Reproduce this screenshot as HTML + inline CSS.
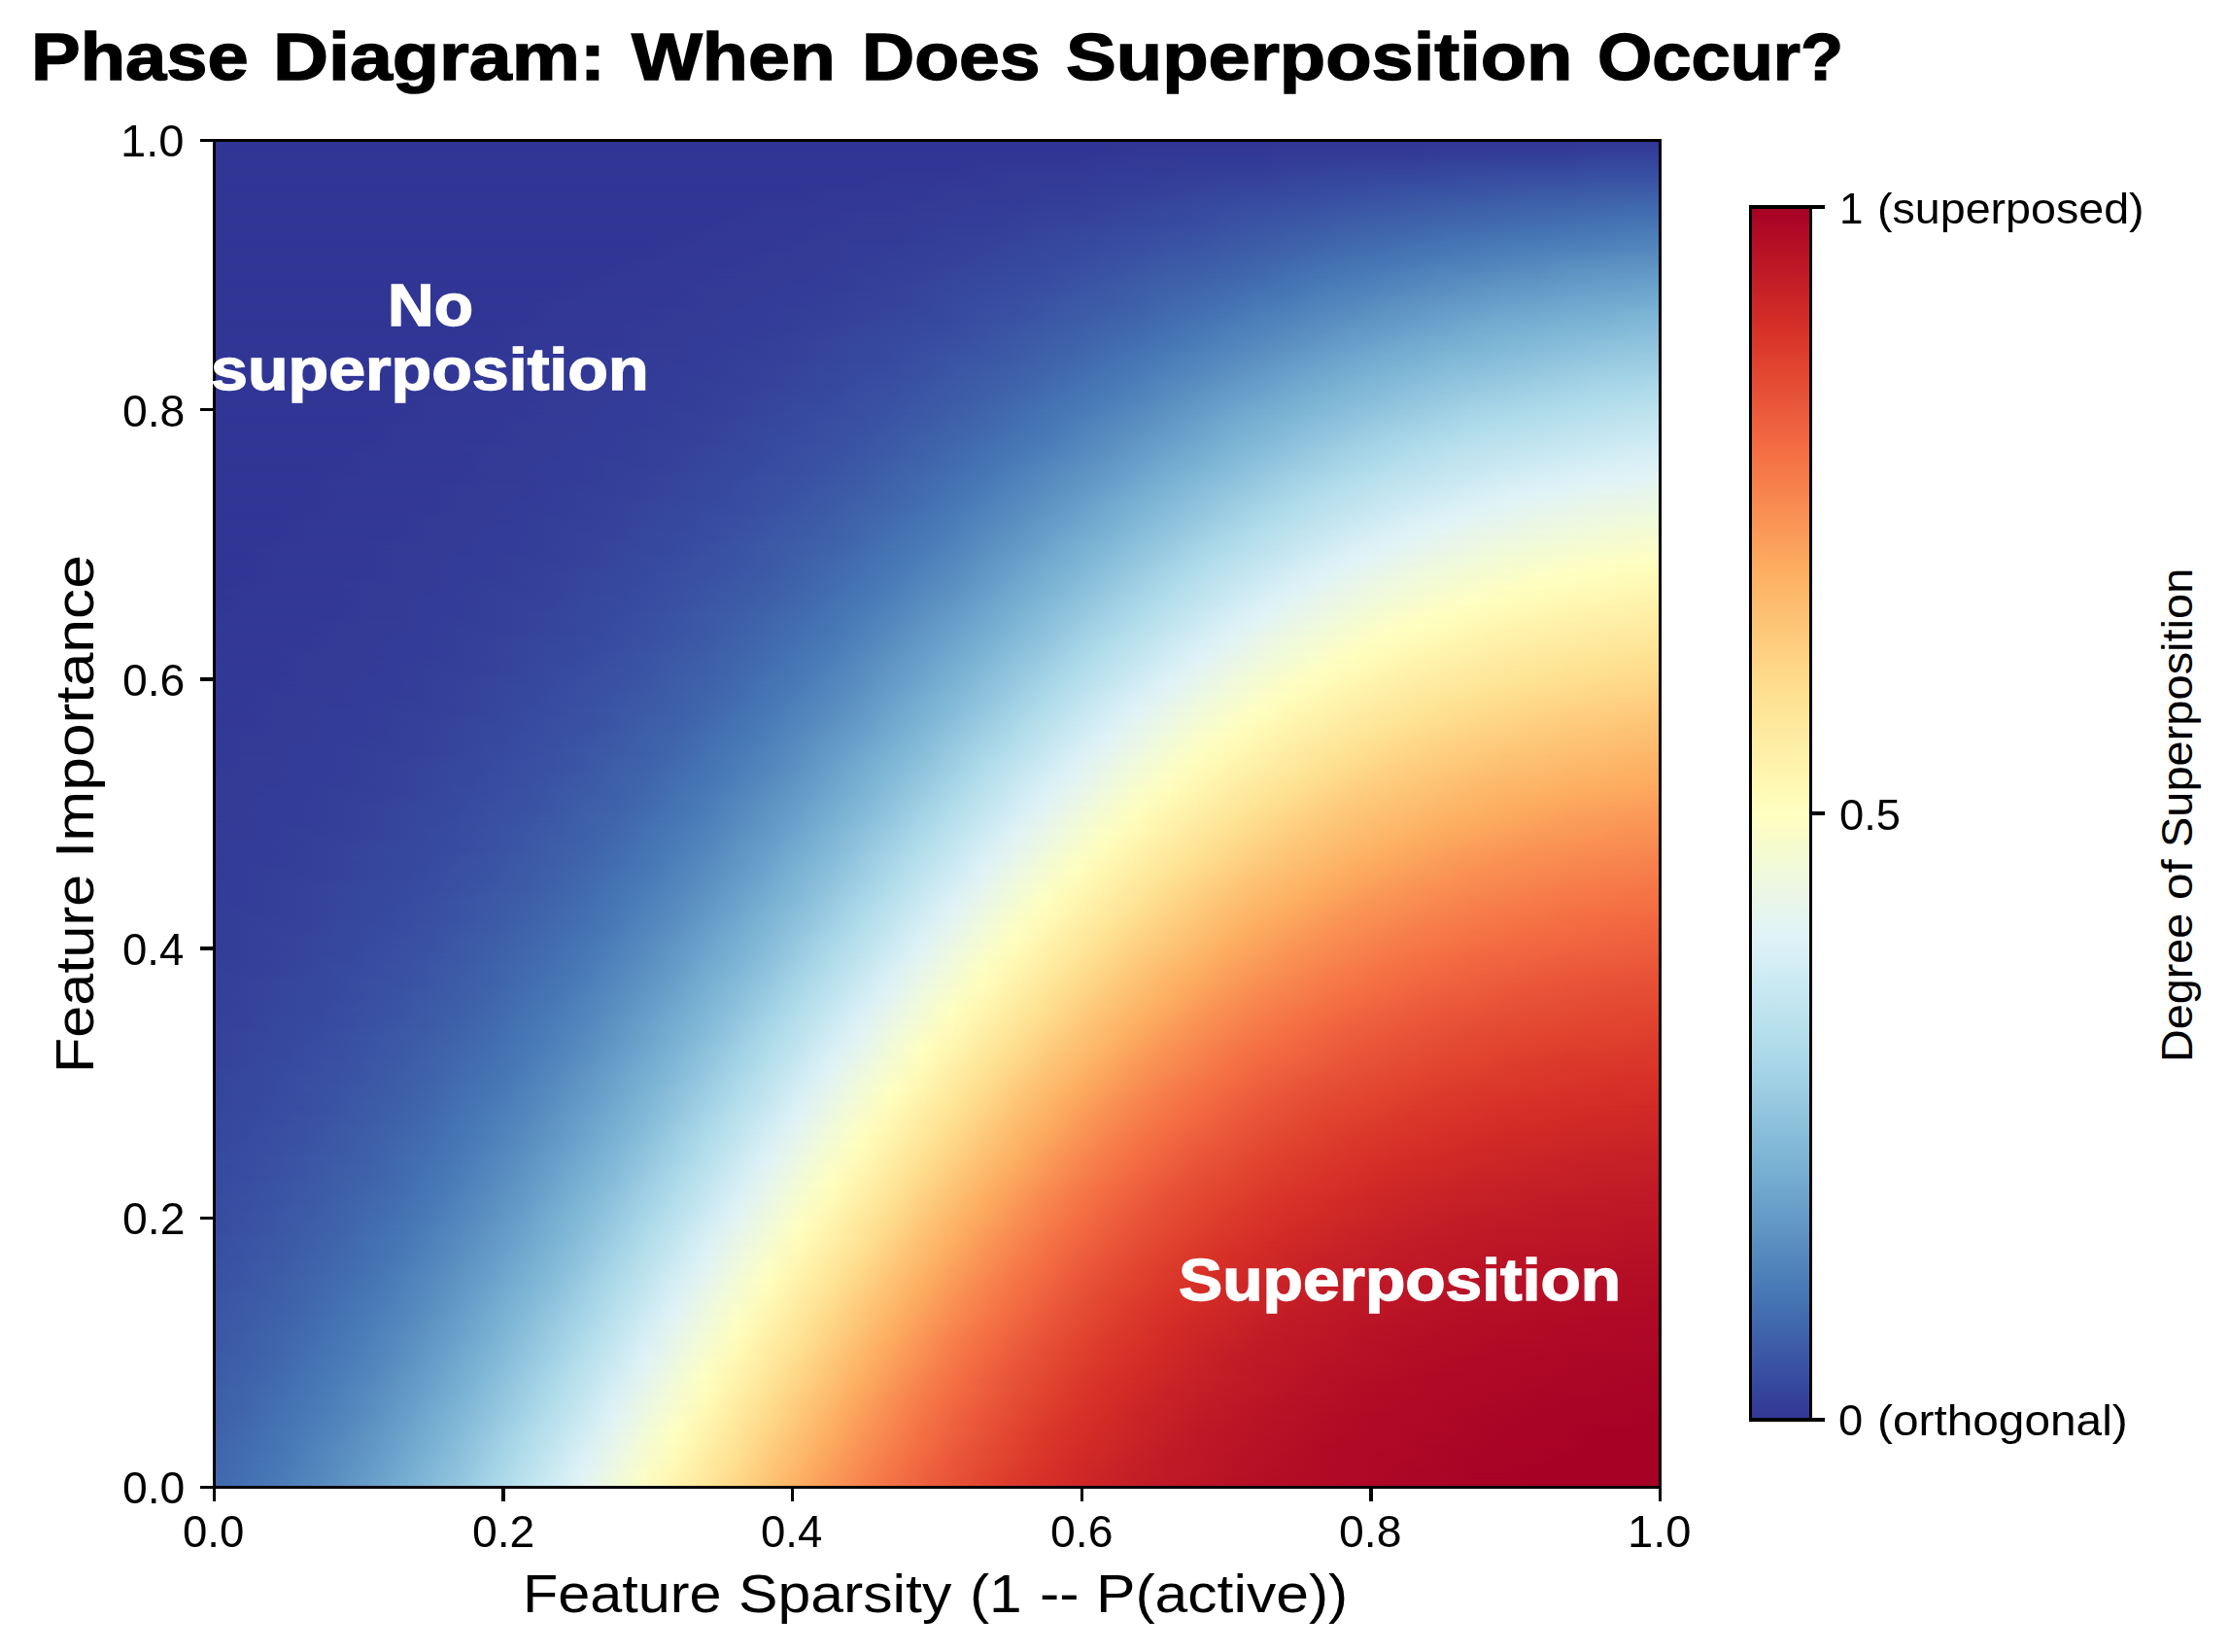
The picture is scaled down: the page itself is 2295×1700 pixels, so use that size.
<!DOCTYPE html>
<html><head><meta charset="utf-8"><style>
html,body{margin:0;padding:0;background:#fff;}
body{width:2295px;height:1700px;position:relative;overflow:hidden;font-family:"Liberation Sans",sans-serif;color:#000;}
.a{position:absolute;white-space:nowrap;line-height:1;}
#hm{position:absolute;left:220px;top:144px;width:1489px;height:1387px;overflow:hidden;}
#hm b{position:absolute;left:0;width:100%;display:block;}
#hm u{position:absolute;left:0;top:0;width:100%;height:100%;display:block;-webkit-mask-image:linear-gradient(180deg,transparent,#000);mask-image:linear-gradient(180deg,transparent,#000);}
.ln{position:absolute;background:#000;}
</style></head><body>
<div id="hm">
<b style="top:0px;height:14px;background:linear-gradient(90deg,#313695 0.00%,#313695 2.13%,#313695 4.26%,#313695 6.38%,#313695 8.51%,#313695 10.64%,#313695 12.77%,#313695 14.89%,#313695 17.02%,#313695 19.15%,#313695 21.28%,#313695 23.40%,#313695 25.53%,#313695 27.66%,#313695 29.79%,#313695 31.91%,#313695 34.04%,#313695 36.17%,#313695 38.30%,#313695 40.43%,#313695 42.55%,#313695 44.68%,#313695 46.81%,#313695 48.94%,#313695 51.06%,#313695 53.19%,#313695 55.32%,#313695 57.45%,#313695 59.57%,#313695 61.70%,#313695 63.83%,#313695 65.96%,#313695 68.09%,#313695 70.21%,#313695 72.34%,#313695 74.47%,#313695 76.60%,#313695 78.72%,#313695 80.85%,#313695 82.98%,#313695 85.11%,#313695 87.23%,#313695 89.36%,#313695 91.49%,#313695 93.62%,#313695 95.74%,#313695 97.87%,#313695 100.00%)"><u style="background:linear-gradient(90deg,#313695 0.00%,#313695 2.13%,#313695 4.26%,#313695 6.38%,#313695 8.51%,#313695 10.64%,#313695 12.77%,#313695 14.89%,#313695 17.02%,#313695 19.15%,#313695 21.28%,#313695 23.40%,#313695 25.53%,#313695 27.66%,#313695 29.79%,#313695 31.91%,#313695 34.04%,#313695 36.17%,#313695 38.30%,#313695 40.43%,#313695 42.55%,#313695 44.68%,#313695 46.81%,#313695 48.94%,#313695 51.06%,#313695 53.19%,#313695 55.32%,#313695 57.45%,#313695 59.57%,#313695 61.70%,#323896 63.83%,#323896 65.96%,#323896 68.09%,#323896 70.21%,#323896 72.34%,#333b97 74.47%,#333b97 76.60%,#333b97 78.72%,#333b97 80.85%,#333b97 82.98%,#333d99 85.11%,#333d99 87.23%,#333d99 89.36%,#333d99 91.49%,#333d99 93.62%,#34409a 95.74%,#34409a 97.87%,#34409a 100.00%)"></u></b>
<b style="top:14px;height:14px;background:linear-gradient(90deg,#313695 0.00%,#313695 2.13%,#313695 4.26%,#313695 6.38%,#313695 8.51%,#313695 10.64%,#313695 12.77%,#313695 14.89%,#313695 17.02%,#313695 19.15%,#313695 21.28%,#313695 23.40%,#313695 25.53%,#313695 27.66%,#313695 29.79%,#313695 31.91%,#313695 34.04%,#313695 36.17%,#313695 38.30%,#313695 40.43%,#313695 42.55%,#313695 44.68%,#313695 46.81%,#313695 48.94%,#313695 51.06%,#313695 53.19%,#313695 55.32%,#313695 57.45%,#313695 59.57%,#313695 61.70%,#323896 63.83%,#323896 65.96%,#323896 68.09%,#323896 70.21%,#323896 72.34%,#333b97 74.47%,#333b97 76.60%,#333b97 78.72%,#333b97 80.85%,#333b97 82.98%,#333d99 85.11%,#333d99 87.23%,#333d99 89.36%,#333d99 91.49%,#333d99 93.62%,#34409a 95.74%,#34409a 97.87%,#34409a 100.00%)"><u style="background:linear-gradient(90deg,#313695 0.00%,#313695 2.13%,#313695 4.26%,#313695 6.38%,#313695 8.51%,#313695 10.64%,#313695 12.77%,#313695 14.89%,#313695 17.02%,#313695 19.15%,#313695 21.28%,#313695 23.40%,#313695 25.53%,#313695 27.66%,#313695 29.79%,#313695 31.91%,#313695 34.04%,#313695 36.17%,#313695 38.30%,#313695 40.43%,#313695 42.55%,#313695 44.68%,#313695 46.81%,#313695 48.94%,#313695 51.06%,#323896 53.19%,#323896 55.32%,#323896 57.45%,#323896 59.57%,#333b97 61.70%,#333b97 63.83%,#333b97 65.96%,#333d99 68.09%,#333d99 70.21%,#333d99 72.34%,#34409a 74.47%,#34409a 76.60%,#35429b 78.72%,#35429b 80.85%,#35429b 82.98%,#36459c 85.11%,#36459c 87.23%,#36479e 89.36%,#36479e 91.49%,#36479e 93.62%,#374a9f 95.74%,#374a9f 97.87%,#374a9f 100.00%)"></u></b>
<b style="top:28px;height:14px;background:linear-gradient(90deg,#313695 0.00%,#313695 2.13%,#313695 4.26%,#313695 6.38%,#313695 8.51%,#313695 10.64%,#313695 12.77%,#313695 14.89%,#313695 17.02%,#313695 19.15%,#313695 21.28%,#313695 23.40%,#313695 25.53%,#313695 27.66%,#313695 29.79%,#313695 31.91%,#313695 34.04%,#313695 36.17%,#313695 38.30%,#313695 40.43%,#313695 42.55%,#313695 44.68%,#313695 46.81%,#313695 48.94%,#313695 51.06%,#323896 53.19%,#323896 55.32%,#323896 57.45%,#323896 59.57%,#333b97 61.70%,#333b97 63.83%,#333b97 65.96%,#333d99 68.09%,#333d99 70.21%,#333d99 72.34%,#34409a 74.47%,#34409a 76.60%,#35429b 78.72%,#35429b 80.85%,#35429b 82.98%,#36459c 85.11%,#36459c 87.23%,#36479e 89.36%,#36479e 91.49%,#36479e 93.62%,#374a9f 95.74%,#374a9f 97.87%,#374a9f 100.00%)"><u style="background:linear-gradient(90deg,#313695 0.00%,#313695 2.13%,#313695 4.26%,#313695 6.38%,#313695 8.51%,#313695 10.64%,#313695 12.77%,#313695 14.89%,#313695 17.02%,#313695 19.15%,#313695 21.28%,#313695 23.40%,#313695 25.53%,#313695 27.66%,#313695 29.79%,#313695 31.91%,#313695 34.04%,#313695 36.17%,#313695 38.30%,#313695 40.43%,#313695 42.55%,#313695 44.68%,#323896 46.81%,#323896 48.94%,#323896 51.06%,#323896 53.19%,#333b97 55.32%,#333b97 57.45%,#333b97 59.57%,#333d99 61.70%,#333d99 63.83%,#34409a 65.96%,#34409a 68.09%,#35429b 70.21%,#35429b 72.34%,#36459c 74.47%,#36479e 76.60%,#36479e 78.72%,#374a9f 80.85%,#374a9f 82.98%,#384ca0 85.11%,#394fa1 87.23%,#394fa1 89.36%,#3a51a2 91.49%,#3a51a2 93.62%,#3a54a4 95.74%,#3a54a4 97.87%,#3a54a4 100.00%)"></u></b>
<b style="top:42px;height:14px;background:linear-gradient(90deg,#313695 0.00%,#313695 2.13%,#313695 4.26%,#313695 6.38%,#313695 8.51%,#313695 10.64%,#313695 12.77%,#313695 14.89%,#313695 17.02%,#313695 19.15%,#313695 21.28%,#313695 23.40%,#313695 25.53%,#313695 27.66%,#313695 29.79%,#313695 31.91%,#313695 34.04%,#313695 36.17%,#313695 38.30%,#313695 40.43%,#313695 42.55%,#313695 44.68%,#323896 46.81%,#323896 48.94%,#323896 51.06%,#323896 53.19%,#333b97 55.32%,#333b97 57.45%,#333b97 59.57%,#333d99 61.70%,#333d99 63.83%,#34409a 65.96%,#34409a 68.09%,#35429b 70.21%,#35429b 72.34%,#36459c 74.47%,#36479e 76.60%,#36479e 78.72%,#374a9f 80.85%,#374a9f 82.98%,#384ca0 85.11%,#394fa1 87.23%,#394fa1 89.36%,#3a51a2 91.49%,#3a51a2 93.62%,#3a54a4 95.74%,#3a54a4 97.87%,#3a54a4 100.00%)"><u style="background:linear-gradient(90deg,#313695 0.00%,#313695 2.13%,#313695 4.26%,#313695 6.38%,#313695 8.51%,#313695 10.64%,#313695 12.77%,#313695 14.89%,#313695 17.02%,#313695 19.15%,#313695 21.28%,#313695 23.40%,#313695 25.53%,#313695 27.66%,#313695 29.79%,#313695 31.91%,#313695 34.04%,#313695 36.17%,#313695 38.30%,#313695 40.43%,#323896 42.55%,#323896 44.68%,#323896 46.81%,#323896 48.94%,#333b97 51.06%,#333b97 53.19%,#333b97 55.32%,#333d99 57.45%,#333d99 59.57%,#34409a 61.70%,#34409a 63.83%,#35429b 65.96%,#36459c 68.09%,#36479e 70.21%,#36479e 72.34%,#374a9f 74.47%,#384ca0 76.60%,#394fa1 78.72%,#3a51a2 80.85%,#3a54a4 82.98%,#3a54a4 85.11%,#3b56a5 87.23%,#3c59a6 89.36%,#3d5ba7 91.49%,#3d5ba7 93.62%,#3e5ea8 95.74%,#3e5ea8 97.87%,#3e60aa 100.00%)"></u></b>
<b style="top:56px;height:14px;background:linear-gradient(90deg,#313695 0.00%,#313695 2.13%,#313695 4.26%,#313695 6.38%,#313695 8.51%,#313695 10.64%,#313695 12.77%,#313695 14.89%,#313695 17.02%,#313695 19.15%,#313695 21.28%,#313695 23.40%,#313695 25.53%,#313695 27.66%,#313695 29.79%,#313695 31.91%,#313695 34.04%,#313695 36.17%,#313695 38.30%,#313695 40.43%,#323896 42.55%,#323896 44.68%,#323896 46.81%,#323896 48.94%,#333b97 51.06%,#333b97 53.19%,#333b97 55.32%,#333d99 57.45%,#333d99 59.57%,#34409a 61.70%,#34409a 63.83%,#35429b 65.96%,#36459c 68.09%,#36479e 70.21%,#36479e 72.34%,#374a9f 74.47%,#384ca0 76.60%,#394fa1 78.72%,#3a51a2 80.85%,#3a54a4 82.98%,#3a54a4 85.11%,#3b56a5 87.23%,#3c59a6 89.36%,#3d5ba7 91.49%,#3d5ba7 93.62%,#3e5ea8 95.74%,#3e5ea8 97.87%,#3e60aa 100.00%)"><u style="background:linear-gradient(90deg,#313695 0.00%,#313695 2.13%,#313695 4.26%,#313695 6.38%,#313695 8.51%,#313695 10.64%,#313695 12.77%,#313695 14.89%,#313695 17.02%,#313695 19.15%,#313695 21.28%,#313695 23.40%,#313695 25.53%,#313695 27.66%,#313695 29.79%,#313695 31.91%,#313695 34.04%,#313695 36.17%,#323896 38.30%,#323896 40.43%,#323896 42.55%,#323896 44.68%,#323896 46.81%,#333b97 48.94%,#333b97 51.06%,#333d99 53.19%,#333d99 55.32%,#34409a 57.45%,#34409a 59.57%,#35429b 61.70%,#36459c 63.83%,#36479e 65.96%,#374a9f 68.09%,#384ca0 70.21%,#394fa1 72.34%,#3a51a2 74.47%,#3a54a4 76.60%,#3b56a5 78.72%,#3c59a6 80.85%,#3d5ba7 82.98%,#3e5ea8 85.11%,#3e60aa 87.23%,#3f62ab 89.36%,#4065ac 91.49%,#4065ac 93.62%,#4167ad 95.74%,#416aaf 97.87%,#416aaf 100.00%)"></u></b>
<b style="top:70px;height:14px;background:linear-gradient(90deg,#313695 0.00%,#313695 2.13%,#313695 4.26%,#313695 6.38%,#313695 8.51%,#313695 10.64%,#313695 12.77%,#313695 14.89%,#313695 17.02%,#313695 19.15%,#313695 21.28%,#313695 23.40%,#313695 25.53%,#313695 27.66%,#313695 29.79%,#313695 31.91%,#313695 34.04%,#313695 36.17%,#323896 38.30%,#323896 40.43%,#323896 42.55%,#323896 44.68%,#323896 46.81%,#333b97 48.94%,#333b97 51.06%,#333d99 53.19%,#333d99 55.32%,#34409a 57.45%,#34409a 59.57%,#35429b 61.70%,#36459c 63.83%,#36479e 65.96%,#374a9f 68.09%,#384ca0 70.21%,#394fa1 72.34%,#3a51a2 74.47%,#3a54a4 76.60%,#3b56a5 78.72%,#3c59a6 80.85%,#3d5ba7 82.98%,#3e5ea8 85.11%,#3e60aa 87.23%,#3f62ab 89.36%,#4065ac 91.49%,#4065ac 93.62%,#4167ad 95.74%,#416aaf 97.87%,#416aaf 100.00%)"><u style="background:linear-gradient(90deg,#313695 0.00%,#313695 2.13%,#313695 4.26%,#313695 6.38%,#313695 8.51%,#313695 10.64%,#313695 12.77%,#313695 14.89%,#313695 17.02%,#313695 19.15%,#313695 21.28%,#313695 23.40%,#313695 25.53%,#313695 27.66%,#313695 29.79%,#313695 31.91%,#313695 34.04%,#323896 36.17%,#323896 38.30%,#323896 40.43%,#323896 42.55%,#333b97 44.68%,#333b97 46.81%,#333b97 48.94%,#333d99 51.06%,#333d99 53.19%,#34409a 55.32%,#35429b 57.45%,#35429b 59.57%,#36459c 61.70%,#36479e 63.83%,#374a9f 65.96%,#384ca0 68.09%,#3a51a2 70.21%,#3a54a4 72.34%,#3b56a5 74.47%,#3c59a6 76.60%,#3e5ea8 78.72%,#3e60aa 80.85%,#3f62ab 82.98%,#4065ac 85.11%,#4167ad 87.23%,#416aaf 89.36%,#426cb0 91.49%,#436fb1 93.62%,#4471b2 95.74%,#4574b3 97.87%,#4574b3 100.00%)"></u></b>
<b style="top:84px;height:14px;background:linear-gradient(90deg,#313695 0.00%,#313695 2.13%,#313695 4.26%,#313695 6.38%,#313695 8.51%,#313695 10.64%,#313695 12.77%,#313695 14.89%,#313695 17.02%,#313695 19.15%,#313695 21.28%,#313695 23.40%,#313695 25.53%,#313695 27.66%,#313695 29.79%,#313695 31.91%,#313695 34.04%,#323896 36.17%,#323896 38.30%,#323896 40.43%,#323896 42.55%,#333b97 44.68%,#333b97 46.81%,#333b97 48.94%,#333d99 51.06%,#333d99 53.19%,#34409a 55.32%,#35429b 57.45%,#35429b 59.57%,#36459c 61.70%,#36479e 63.83%,#374a9f 65.96%,#384ca0 68.09%,#3a51a2 70.21%,#3a54a4 72.34%,#3b56a5 74.47%,#3c59a6 76.60%,#3e5ea8 78.72%,#3e60aa 80.85%,#3f62ab 82.98%,#4065ac 85.11%,#4167ad 87.23%,#416aaf 89.36%,#426cb0 91.49%,#436fb1 93.62%,#4471b2 95.74%,#4574b3 97.87%,#4574b3 100.00%)"><u style="background:linear-gradient(90deg,#313695 0.00%,#313695 2.13%,#313695 4.26%,#313695 6.38%,#313695 8.51%,#313695 10.64%,#313695 12.77%,#313695 14.89%,#313695 17.02%,#313695 19.15%,#313695 21.28%,#313695 23.40%,#313695 25.53%,#313695 27.66%,#313695 29.79%,#313695 31.91%,#323896 34.04%,#323896 36.17%,#323896 38.30%,#323896 40.43%,#333b97 42.55%,#333b97 44.68%,#333b97 46.81%,#333d99 48.94%,#34409a 51.06%,#34409a 53.19%,#35429b 55.32%,#36459c 57.45%,#36479e 59.57%,#374a9f 61.70%,#384ca0 63.83%,#394fa1 65.96%,#3a51a2 68.09%,#3b56a5 70.21%,#3c59a6 72.34%,#3e5ea8 74.47%,#3e60aa 76.60%,#4065ac 78.72%,#4167ad 80.85%,#416aaf 82.98%,#436fb1 85.11%,#4471b2 87.23%,#4574b3 89.36%,#4676b5 91.49%,#4878b6 93.62%,#4a7ab7 95.74%,#4b7db8 97.87%,#4d7fb9 100.00%)"></u></b>
<b style="top:98px;height:14px;background:linear-gradient(90deg,#313695 0.00%,#313695 2.13%,#313695 4.26%,#313695 6.38%,#313695 8.51%,#313695 10.64%,#313695 12.77%,#313695 14.89%,#313695 17.02%,#313695 19.15%,#313695 21.28%,#313695 23.40%,#313695 25.53%,#313695 27.66%,#313695 29.79%,#313695 31.91%,#323896 34.04%,#323896 36.17%,#323896 38.30%,#323896 40.43%,#333b97 42.55%,#333b97 44.68%,#333b97 46.81%,#333d99 48.94%,#34409a 51.06%,#34409a 53.19%,#35429b 55.32%,#36459c 57.45%,#36479e 59.57%,#374a9f 61.70%,#384ca0 63.83%,#394fa1 65.96%,#3a51a2 68.09%,#3b56a5 70.21%,#3c59a6 72.34%,#3e5ea8 74.47%,#3e60aa 76.60%,#4065ac 78.72%,#4167ad 80.85%,#416aaf 82.98%,#436fb1 85.11%,#4471b2 87.23%,#4574b3 89.36%,#4676b5 91.49%,#4878b6 93.62%,#4a7ab7 95.74%,#4b7db8 97.87%,#4d7fb9 100.00%)"><u style="background:linear-gradient(90deg,#313695 0.00%,#313695 2.13%,#313695 4.26%,#313695 6.38%,#313695 8.51%,#313695 10.64%,#313695 12.77%,#313695 14.89%,#313695 17.02%,#313695 19.15%,#313695 21.28%,#313695 23.40%,#313695 25.53%,#313695 27.66%,#313695 29.79%,#323896 31.91%,#323896 34.04%,#323896 36.17%,#323896 38.30%,#333b97 40.43%,#333b97 42.55%,#333d99 44.68%,#333d99 46.81%,#34409a 48.94%,#34409a 51.06%,#35429b 53.19%,#36459c 55.32%,#36479e 57.45%,#374a9f 59.57%,#384ca0 61.70%,#394fa1 63.83%,#3a54a4 65.96%,#3b56a5 68.09%,#3d5ba7 70.21%,#3e5ea8 72.34%,#3f62ab 74.47%,#4167ad 76.60%,#426cb0 78.72%,#436fb1 80.85%,#4574b3 82.98%,#4676b5 85.11%,#4a7ab7 87.23%,#4b7db8 89.36%,#4d7fb9 91.49%,#4f81ba 93.62%,#5183bb 95.74%,#5385bd 97.87%,#5588be 100.00%)"></u></b>
<b style="top:112px;height:14px;background:linear-gradient(90deg,#313695 0.00%,#313695 2.13%,#313695 4.26%,#313695 6.38%,#313695 8.51%,#313695 10.64%,#313695 12.77%,#313695 14.89%,#313695 17.02%,#313695 19.15%,#313695 21.28%,#313695 23.40%,#313695 25.53%,#313695 27.66%,#313695 29.79%,#323896 31.91%,#323896 34.04%,#323896 36.17%,#323896 38.30%,#333b97 40.43%,#333b97 42.55%,#333d99 44.68%,#333d99 46.81%,#34409a 48.94%,#34409a 51.06%,#35429b 53.19%,#36459c 55.32%,#36479e 57.45%,#374a9f 59.57%,#384ca0 61.70%,#394fa1 63.83%,#3a54a4 65.96%,#3b56a5 68.09%,#3d5ba7 70.21%,#3e5ea8 72.34%,#3f62ab 74.47%,#4167ad 76.60%,#426cb0 78.72%,#436fb1 80.85%,#4574b3 82.98%,#4676b5 85.11%,#4a7ab7 87.23%,#4b7db8 89.36%,#4d7fb9 91.49%,#4f81ba 93.62%,#5183bb 95.74%,#5385bd 97.87%,#5588be 100.00%)"><u style="background:linear-gradient(90deg,#313695 0.00%,#313695 2.13%,#313695 4.26%,#313695 6.38%,#313695 8.51%,#313695 10.64%,#313695 12.77%,#313695 14.89%,#313695 17.02%,#313695 19.15%,#313695 21.28%,#313695 23.40%,#313695 25.53%,#313695 27.66%,#323896 29.79%,#323896 31.91%,#323896 34.04%,#323896 36.17%,#333b97 38.30%,#333b97 40.43%,#333b97 42.55%,#333d99 44.68%,#34409a 46.81%,#34409a 48.94%,#35429b 51.06%,#36459c 53.19%,#36479e 55.32%,#374a9f 57.45%,#384ca0 59.57%,#3a51a2 61.70%,#3a54a4 63.83%,#3c59a6 65.96%,#3d5ba7 68.09%,#3e60aa 70.21%,#4065ac 72.34%,#416aaf 74.47%,#436fb1 76.60%,#4574b3 78.72%,#4676b5 80.85%,#4a7ab7 82.98%,#4d7fb9 85.11%,#4f81ba 87.23%,#5385bd 89.36%,#5588be 91.49%,#588cc0 93.62%,#5a8ec1 95.74%,#5c90c2 97.87%,#5c90c2 100.00%)"></u></b>
<b style="top:126px;height:14px;background:linear-gradient(90deg,#313695 0.00%,#313695 2.13%,#313695 4.26%,#313695 6.38%,#313695 8.51%,#313695 10.64%,#313695 12.77%,#313695 14.89%,#313695 17.02%,#313695 19.15%,#313695 21.28%,#313695 23.40%,#313695 25.53%,#313695 27.66%,#323896 29.79%,#323896 31.91%,#323896 34.04%,#323896 36.17%,#333b97 38.30%,#333b97 40.43%,#333b97 42.55%,#333d99 44.68%,#34409a 46.81%,#34409a 48.94%,#35429b 51.06%,#36459c 53.19%,#36479e 55.32%,#374a9f 57.45%,#384ca0 59.57%,#3a51a2 61.70%,#3a54a4 63.83%,#3c59a6 65.96%,#3d5ba7 68.09%,#3e60aa 70.21%,#4065ac 72.34%,#416aaf 74.47%,#436fb1 76.60%,#4574b3 78.72%,#4676b5 80.85%,#4a7ab7 82.98%,#4d7fb9 85.11%,#4f81ba 87.23%,#5385bd 89.36%,#5588be 91.49%,#588cc0 93.62%,#5a8ec1 95.74%,#5c90c2 97.87%,#5c90c2 100.00%)"><u style="background:linear-gradient(90deg,#313695 0.00%,#313695 2.13%,#313695 4.26%,#313695 6.38%,#313695 8.51%,#313695 10.64%,#313695 12.77%,#313695 14.89%,#313695 17.02%,#313695 19.15%,#313695 21.28%,#313695 23.40%,#313695 25.53%,#323896 27.66%,#323896 29.79%,#323896 31.91%,#323896 34.04%,#333b97 36.17%,#333b97 38.30%,#333b97 40.43%,#333d99 42.55%,#34409a 44.68%,#34409a 46.81%,#35429b 48.94%,#36459c 51.06%,#36479e 53.19%,#374a9f 55.32%,#384ca0 57.45%,#3a51a2 59.57%,#3a54a4 61.70%,#3c59a6 63.83%,#3e5ea8 65.96%,#3e60aa 68.09%,#4065ac 70.21%,#416aaf 72.34%,#4471b2 74.47%,#4676b5 76.60%,#4a7ab7 78.72%,#4d7fb9 80.85%,#5183bb 82.98%,#5588be 85.11%,#578abf 87.23%,#5a8ec1 89.36%,#5c90c2 91.49%,#6095c4 93.62%,#6297c6 95.74%,#6399c7 97.87%,#659bc8 100.00%)"></u></b>
<b style="top:140px;height:14px;background:linear-gradient(90deg,#313695 0.00%,#313695 2.13%,#313695 4.26%,#313695 6.38%,#313695 8.51%,#313695 10.64%,#313695 12.77%,#313695 14.89%,#313695 17.02%,#313695 19.15%,#313695 21.28%,#313695 23.40%,#313695 25.53%,#323896 27.66%,#323896 29.79%,#323896 31.91%,#323896 34.04%,#333b97 36.17%,#333b97 38.30%,#333b97 40.43%,#333d99 42.55%,#34409a 44.68%,#34409a 46.81%,#35429b 48.94%,#36459c 51.06%,#36479e 53.19%,#374a9f 55.32%,#384ca0 57.45%,#3a51a2 59.57%,#3a54a4 61.70%,#3c59a6 63.83%,#3e5ea8 65.96%,#3e60aa 68.09%,#4065ac 70.21%,#416aaf 72.34%,#4471b2 74.47%,#4676b5 76.60%,#4a7ab7 78.72%,#4d7fb9 80.85%,#5183bb 82.98%,#5588be 85.11%,#578abf 87.23%,#5a8ec1 89.36%,#5c90c2 91.49%,#6095c4 93.62%,#6297c6 95.74%,#6399c7 97.87%,#659bc8 100.00%)"><u style="background:linear-gradient(90deg,#313695 0.00%,#313695 2.13%,#313695 4.26%,#313695 6.38%,#313695 8.51%,#313695 10.64%,#313695 12.77%,#313695 14.89%,#313695 17.02%,#313695 19.15%,#313695 21.28%,#313695 23.40%,#323896 25.53%,#323896 27.66%,#323896 29.79%,#323896 31.91%,#333b97 34.04%,#333b97 36.17%,#333b97 38.30%,#333d99 40.43%,#333d99 42.55%,#34409a 44.68%,#35429b 46.81%,#36459c 48.94%,#36479e 51.06%,#374a9f 53.19%,#384ca0 55.32%,#394fa1 57.45%,#3a54a4 59.57%,#3c59a6 61.70%,#3e5ea8 63.83%,#3f62ab 65.96%,#4167ad 68.09%,#426cb0 70.21%,#4471b2 72.34%,#4676b5 74.47%,#4b7db8 76.60%,#4f81ba 78.72%,#5385bd 80.85%,#578abf 82.98%,#5a8ec1 85.11%,#5e93c3 87.23%,#6297c6 89.36%,#6399c7 91.49%,#679ec9 93.62%,#69a0ca 95.74%,#6ba2cb 97.87%,#6da4cc 100.00%)"></u></b>
<b style="top:154px;height:14px;background:linear-gradient(90deg,#313695 0.00%,#313695 2.13%,#313695 4.26%,#313695 6.38%,#313695 8.51%,#313695 10.64%,#313695 12.77%,#313695 14.89%,#313695 17.02%,#313695 19.15%,#313695 21.28%,#313695 23.40%,#323896 25.53%,#323896 27.66%,#323896 29.79%,#323896 31.91%,#333b97 34.04%,#333b97 36.17%,#333b97 38.30%,#333d99 40.43%,#333d99 42.55%,#34409a 44.68%,#35429b 46.81%,#36459c 48.94%,#36479e 51.06%,#374a9f 53.19%,#384ca0 55.32%,#394fa1 57.45%,#3a54a4 59.57%,#3c59a6 61.70%,#3e5ea8 63.83%,#3f62ab 65.96%,#4167ad 68.09%,#426cb0 70.21%,#4471b2 72.34%,#4676b5 74.47%,#4b7db8 76.60%,#4f81ba 78.72%,#5385bd 80.85%,#578abf 82.98%,#5a8ec1 85.11%,#5e93c3 87.23%,#6297c6 89.36%,#6399c7 91.49%,#679ec9 93.62%,#69a0ca 95.74%,#6ba2cb 97.87%,#6da4cc 100.00%)"><u style="background:linear-gradient(90deg,#313695 0.00%,#313695 2.13%,#313695 4.26%,#313695 6.38%,#313695 8.51%,#313695 10.64%,#313695 12.77%,#313695 14.89%,#313695 17.02%,#313695 19.15%,#313695 21.28%,#323896 23.40%,#323896 25.53%,#323896 27.66%,#323896 29.79%,#323896 31.91%,#333b97 34.04%,#333b97 36.17%,#333d99 38.30%,#333d99 40.43%,#34409a 42.55%,#35429b 44.68%,#35429b 46.81%,#36459c 48.94%,#374a9f 51.06%,#384ca0 53.19%,#394fa1 55.32%,#3a54a4 57.45%,#3c59a6 59.57%,#3d5ba7 61.70%,#3e60aa 63.83%,#4167ad 65.96%,#426cb0 68.09%,#4471b2 70.21%,#4878b6 72.34%,#4b7db8 74.47%,#5183bb 76.60%,#5588be 78.72%,#5a8ec1 80.85%,#5e93c3 82.98%,#6297c6 85.11%,#659bc8 87.23%,#69a0ca 89.36%,#6ba2cb 91.49%,#6ea6ce 93.62%,#70a9cf 95.74%,#72abd0 97.87%,#74add1 100.00%)"></u></b>
<b style="top:168px;height:14px;background:linear-gradient(90deg,#313695 0.00%,#313695 2.13%,#313695 4.26%,#313695 6.38%,#313695 8.51%,#313695 10.64%,#313695 12.77%,#313695 14.89%,#313695 17.02%,#313695 19.15%,#313695 21.28%,#323896 23.40%,#323896 25.53%,#323896 27.66%,#323896 29.79%,#323896 31.91%,#333b97 34.04%,#333b97 36.17%,#333d99 38.30%,#333d99 40.43%,#34409a 42.55%,#35429b 44.68%,#35429b 46.81%,#36459c 48.94%,#374a9f 51.06%,#384ca0 53.19%,#394fa1 55.32%,#3a54a4 57.45%,#3c59a6 59.57%,#3d5ba7 61.70%,#3e60aa 63.83%,#4167ad 65.96%,#426cb0 68.09%,#4471b2 70.21%,#4878b6 72.34%,#4b7db8 74.47%,#5183bb 76.60%,#5588be 78.72%,#5a8ec1 80.85%,#5e93c3 82.98%,#6297c6 85.11%,#659bc8 87.23%,#69a0ca 89.36%,#6ba2cb 91.49%,#6ea6ce 93.62%,#70a9cf 95.74%,#72abd0 97.87%,#74add1 100.00%)"><u style="background:linear-gradient(90deg,#313695 0.00%,#313695 2.13%,#313695 4.26%,#313695 6.38%,#313695 8.51%,#313695 10.64%,#313695 12.77%,#313695 14.89%,#313695 17.02%,#313695 19.15%,#313695 21.28%,#323896 23.40%,#323896 25.53%,#323896 27.66%,#323896 29.79%,#333b97 31.91%,#333b97 34.04%,#333d99 36.17%,#333d99 38.30%,#34409a 40.43%,#34409a 42.55%,#35429b 44.68%,#36459c 46.81%,#36479e 48.94%,#374a9f 51.06%,#394fa1 53.19%,#3a51a2 55.32%,#3b56a5 57.45%,#3d5ba7 59.57%,#3e60aa 61.70%,#4065ac 63.83%,#426cb0 65.96%,#4471b2 68.09%,#4878b6 70.21%,#4d7fb9 72.34%,#5183bb 74.47%,#578abf 76.60%,#5a8ec1 78.72%,#6095c4 80.85%,#6399c7 82.98%,#69a0ca 85.11%,#6da4cc 87.23%,#70a9cf 89.36%,#72abd0 91.49%,#76afd2 93.62%,#78b0d3 95.74%,#7db4d5 97.87%,#7fb6d6 100.00%)"></u></b>
<b style="top:182px;height:14px;background:linear-gradient(90deg,#313695 0.00%,#313695 2.13%,#313695 4.26%,#313695 6.38%,#313695 8.51%,#313695 10.64%,#313695 12.77%,#313695 14.89%,#313695 17.02%,#313695 19.15%,#313695 21.28%,#323896 23.40%,#323896 25.53%,#323896 27.66%,#323896 29.79%,#333b97 31.91%,#333b97 34.04%,#333d99 36.17%,#333d99 38.30%,#34409a 40.43%,#34409a 42.55%,#35429b 44.68%,#36459c 46.81%,#36479e 48.94%,#374a9f 51.06%,#394fa1 53.19%,#3a51a2 55.32%,#3b56a5 57.45%,#3d5ba7 59.57%,#3e60aa 61.70%,#4065ac 63.83%,#426cb0 65.96%,#4471b2 68.09%,#4878b6 70.21%,#4d7fb9 72.34%,#5183bb 74.47%,#578abf 76.60%,#5a8ec1 78.72%,#6095c4 80.85%,#6399c7 82.98%,#69a0ca 85.11%,#6da4cc 87.23%,#70a9cf 89.36%,#72abd0 91.49%,#76afd2 93.62%,#78b0d3 95.74%,#7db4d5 97.87%,#7fb6d6 100.00%)"><u style="background:linear-gradient(90deg,#313695 0.00%,#313695 2.13%,#313695 4.26%,#313695 6.38%,#313695 8.51%,#313695 10.64%,#313695 12.77%,#313695 14.89%,#313695 17.02%,#313695 19.15%,#323896 21.28%,#323896 23.40%,#323896 25.53%,#323896 27.66%,#333b97 29.79%,#333b97 31.91%,#333b97 34.04%,#333d99 36.17%,#333d99 38.30%,#34409a 40.43%,#35429b 42.55%,#36459c 44.68%,#36479e 46.81%,#374a9f 48.94%,#384ca0 51.06%,#3a51a2 53.19%,#3b56a5 55.32%,#3d5ba7 57.45%,#3e60aa 59.57%,#4065ac 61.70%,#416aaf 63.83%,#4471b2 65.96%,#4878b6 68.09%,#4d7fb9 70.21%,#5183bb 72.34%,#578abf 74.47%,#5c90c2 76.60%,#6297c6 78.72%,#659bc8 80.85%,#6ba2cb 82.98%,#6ea6ce 85.11%,#74add1 87.23%,#78b0d3 89.36%,#7ab2d4 91.49%,#7fb6d6 93.62%,#81b7d7 95.74%,#85bbd9 97.87%,#87bdd9 100.00%)"></u></b>
<b style="top:196px;height:14px;background:linear-gradient(90deg,#313695 0.00%,#313695 2.13%,#313695 4.26%,#313695 6.38%,#313695 8.51%,#313695 10.64%,#313695 12.77%,#313695 14.89%,#313695 17.02%,#313695 19.15%,#323896 21.28%,#323896 23.40%,#323896 25.53%,#323896 27.66%,#333b97 29.79%,#333b97 31.91%,#333b97 34.04%,#333d99 36.17%,#333d99 38.30%,#34409a 40.43%,#35429b 42.55%,#36459c 44.68%,#36479e 46.81%,#374a9f 48.94%,#384ca0 51.06%,#3a51a2 53.19%,#3b56a5 55.32%,#3d5ba7 57.45%,#3e60aa 59.57%,#4065ac 61.70%,#416aaf 63.83%,#4471b2 65.96%,#4878b6 68.09%,#4d7fb9 70.21%,#5183bb 72.34%,#578abf 74.47%,#5c90c2 76.60%,#6297c6 78.72%,#659bc8 80.85%,#6ba2cb 82.98%,#6ea6ce 85.11%,#74add1 87.23%,#78b0d3 89.36%,#7ab2d4 91.49%,#7fb6d6 93.62%,#81b7d7 95.74%,#85bbd9 97.87%,#87bdd9 100.00%)"><u style="background:linear-gradient(90deg,#313695 0.00%,#313695 2.13%,#313695 4.26%,#313695 6.38%,#313695 8.51%,#313695 10.64%,#313695 12.77%,#313695 14.89%,#313695 17.02%,#313695 19.15%,#323896 21.28%,#323896 23.40%,#323896 25.53%,#323896 27.66%,#333b97 29.79%,#333b97 31.91%,#333d99 34.04%,#333d99 36.17%,#34409a 38.30%,#35429b 40.43%,#36459c 42.55%,#36479e 44.68%,#374a9f 46.81%,#384ca0 48.94%,#394fa1 51.06%,#3a54a4 53.19%,#3c59a6 55.32%,#3e5ea8 57.45%,#3f62ab 59.57%,#416aaf 61.70%,#436fb1 63.83%,#4676b5 65.96%,#4b7db8 68.09%,#5183bb 70.21%,#578abf 72.34%,#5c90c2 74.47%,#6297c6 76.60%,#679ec9 78.72%,#6da4cc 80.85%,#72abd0 82.98%,#76afd2 85.11%,#7ab2d4 87.23%,#7fb6d6 89.36%,#83b9d8 91.49%,#87bdd9 93.62%,#8cc0db 95.74%,#8ec2dc 97.87%,#90c3dd 100.00%)"></u></b>
<b style="top:210px;height:14px;background:linear-gradient(90deg,#313695 0.00%,#313695 2.13%,#313695 4.26%,#313695 6.38%,#313695 8.51%,#313695 10.64%,#313695 12.77%,#313695 14.89%,#313695 17.02%,#313695 19.15%,#323896 21.28%,#323896 23.40%,#323896 25.53%,#323896 27.66%,#333b97 29.79%,#333b97 31.91%,#333d99 34.04%,#333d99 36.17%,#34409a 38.30%,#35429b 40.43%,#36459c 42.55%,#36479e 44.68%,#374a9f 46.81%,#384ca0 48.94%,#394fa1 51.06%,#3a54a4 53.19%,#3c59a6 55.32%,#3e5ea8 57.45%,#3f62ab 59.57%,#416aaf 61.70%,#436fb1 63.83%,#4676b5 65.96%,#4b7db8 68.09%,#5183bb 70.21%,#578abf 72.34%,#5c90c2 74.47%,#6297c6 76.60%,#679ec9 78.72%,#6da4cc 80.85%,#72abd0 82.98%,#76afd2 85.11%,#7ab2d4 87.23%,#7fb6d6 89.36%,#83b9d8 91.49%,#87bdd9 93.62%,#8cc0db 95.74%,#8ec2dc 97.87%,#90c3dd 100.00%)"><u style="background:linear-gradient(90deg,#313695 0.00%,#313695 2.13%,#313695 4.26%,#313695 6.38%,#313695 8.51%,#313695 10.64%,#313695 12.77%,#313695 14.89%,#313695 17.02%,#323896 19.15%,#323896 21.28%,#323896 23.40%,#323896 25.53%,#333b97 27.66%,#333b97 29.79%,#333b97 31.91%,#333d99 34.04%,#34409a 36.17%,#34409a 38.30%,#35429b 40.43%,#36459c 42.55%,#36479e 44.68%,#374a9f 46.81%,#394fa1 48.94%,#3a54a4 51.06%,#3b56a5 53.19%,#3d5ba7 55.32%,#3f62ab 57.45%,#4167ad 59.57%,#436fb1 61.70%,#4676b5 63.83%,#4b7db8 65.96%,#5183bb 68.09%,#578abf 70.21%,#5c90c2 72.34%,#6297c6 74.47%,#69a0ca 76.60%,#6ea6ce 78.72%,#74add1 80.85%,#78b0d3 82.98%,#7fb6d6 85.11%,#83b9d8 87.23%,#87bdd9 89.36%,#8cc0db 91.49%,#90c3dd 93.62%,#94c7df 95.74%,#97c9e0 97.87%,#99cae1 100.00%)"></u></b>
<b style="top:224px;height:14px;background:linear-gradient(90deg,#313695 0.00%,#313695 2.13%,#313695 4.26%,#313695 6.38%,#313695 8.51%,#313695 10.64%,#313695 12.77%,#313695 14.89%,#313695 17.02%,#323896 19.15%,#323896 21.28%,#323896 23.40%,#323896 25.53%,#333b97 27.66%,#333b97 29.79%,#333b97 31.91%,#333d99 34.04%,#34409a 36.17%,#34409a 38.30%,#35429b 40.43%,#36459c 42.55%,#36479e 44.68%,#374a9f 46.81%,#394fa1 48.94%,#3a54a4 51.06%,#3b56a5 53.19%,#3d5ba7 55.32%,#3f62ab 57.45%,#4167ad 59.57%,#436fb1 61.70%,#4676b5 63.83%,#4b7db8 65.96%,#5183bb 68.09%,#578abf 70.21%,#5c90c2 72.34%,#6297c6 74.47%,#69a0ca 76.60%,#6ea6ce 78.72%,#74add1 80.85%,#78b0d3 82.98%,#7fb6d6 85.11%,#83b9d8 87.23%,#87bdd9 89.36%,#8cc0db 91.49%,#90c3dd 93.62%,#94c7df 95.74%,#97c9e0 97.87%,#99cae1 100.00%)"><u style="background:linear-gradient(90deg,#313695 0.00%,#313695 2.13%,#313695 4.26%,#313695 6.38%,#313695 8.51%,#313695 10.64%,#313695 12.77%,#313695 14.89%,#323896 17.02%,#323896 19.15%,#323896 21.28%,#323896 23.40%,#323896 25.53%,#333b97 27.66%,#333b97 29.79%,#333d99 31.91%,#333d99 34.04%,#34409a 36.17%,#35429b 38.30%,#36459c 40.43%,#36479e 42.55%,#374a9f 44.68%,#384ca0 46.81%,#3a51a2 48.94%,#3b56a5 51.06%,#3d5ba7 53.19%,#3e60aa 55.32%,#4065ac 57.45%,#426cb0 59.57%,#4574b3 61.70%,#4a7ab7 63.83%,#4f81ba 65.96%,#5588be 68.09%,#5c90c2 70.21%,#6297c6 72.34%,#69a0ca 74.47%,#6ea6ce 76.60%,#74add1 78.72%,#7ab2d4 80.85%,#81b7d7 82.98%,#87bdd9 85.11%,#8cc0db 87.23%,#90c3dd 89.36%,#94c7df 91.49%,#99cae1 93.62%,#9dcee3 95.74%,#9fd0e4 97.87%,#a1d1e5 100.00%)"></u></b>
<b style="top:238px;height:14px;background:linear-gradient(90deg,#313695 0.00%,#313695 2.13%,#313695 4.26%,#313695 6.38%,#313695 8.51%,#313695 10.64%,#313695 12.77%,#313695 14.89%,#323896 17.02%,#323896 19.15%,#323896 21.28%,#323896 23.40%,#323896 25.53%,#333b97 27.66%,#333b97 29.79%,#333d99 31.91%,#333d99 34.04%,#34409a 36.17%,#35429b 38.30%,#36459c 40.43%,#36479e 42.55%,#374a9f 44.68%,#384ca0 46.81%,#3a51a2 48.94%,#3b56a5 51.06%,#3d5ba7 53.19%,#3e60aa 55.32%,#4065ac 57.45%,#426cb0 59.57%,#4574b3 61.70%,#4a7ab7 63.83%,#4f81ba 65.96%,#5588be 68.09%,#5c90c2 70.21%,#6297c6 72.34%,#69a0ca 74.47%,#6ea6ce 76.60%,#74add1 78.72%,#7ab2d4 80.85%,#81b7d7 82.98%,#87bdd9 85.11%,#8cc0db 87.23%,#90c3dd 89.36%,#94c7df 91.49%,#99cae1 93.62%,#9dcee3 95.74%,#9fd0e4 97.87%,#a1d1e5 100.00%)"><u style="background:linear-gradient(90deg,#313695 0.00%,#313695 2.13%,#313695 4.26%,#313695 6.38%,#313695 8.51%,#313695 10.64%,#313695 12.77%,#313695 14.89%,#323896 17.02%,#323896 19.15%,#323896 21.28%,#323896 23.40%,#333b97 25.53%,#333b97 27.66%,#333d99 29.79%,#333d99 31.91%,#34409a 34.04%,#34409a 36.17%,#35429b 38.30%,#36459c 40.43%,#36479e 42.55%,#384ca0 44.68%,#394fa1 46.81%,#3a54a4 48.94%,#3c59a6 51.06%,#3e5ea8 53.19%,#3f62ab 55.32%,#416aaf 57.45%,#4471b2 59.57%,#4878b6 61.70%,#4d7fb9 63.83%,#5588be 65.96%,#5a8ec1 68.09%,#6297c6 70.21%,#679ec9 72.34%,#6ea6ce 74.47%,#74add1 76.60%,#7db4d5 78.72%,#83b9d8 80.85%,#8abeda 82.98%,#90c3dd 85.11%,#94c7df 87.23%,#99cae1 89.36%,#9dcee3 91.49%,#a1d1e5 93.62%,#a6d5e7 95.74%,#a8d6e8 97.87%,#acdae9 100.00%)"></u></b>
<b style="top:252px;height:14px;background:linear-gradient(90deg,#313695 0.00%,#313695 2.13%,#313695 4.26%,#313695 6.38%,#313695 8.51%,#313695 10.64%,#313695 12.77%,#313695 14.89%,#323896 17.02%,#323896 19.15%,#323896 21.28%,#323896 23.40%,#333b97 25.53%,#333b97 27.66%,#333d99 29.79%,#333d99 31.91%,#34409a 34.04%,#34409a 36.17%,#35429b 38.30%,#36459c 40.43%,#36479e 42.55%,#384ca0 44.68%,#394fa1 46.81%,#3a54a4 48.94%,#3c59a6 51.06%,#3e5ea8 53.19%,#3f62ab 55.32%,#416aaf 57.45%,#4471b2 59.57%,#4878b6 61.70%,#4d7fb9 63.83%,#5588be 65.96%,#5a8ec1 68.09%,#6297c6 70.21%,#679ec9 72.34%,#6ea6ce 74.47%,#74add1 76.60%,#7db4d5 78.72%,#83b9d8 80.85%,#8abeda 82.98%,#90c3dd 85.11%,#94c7df 87.23%,#99cae1 89.36%,#9dcee3 91.49%,#a1d1e5 93.62%,#a6d5e7 95.74%,#a8d6e8 97.87%,#acdae9 100.00%)"><u style="background:linear-gradient(90deg,#313695 0.00%,#313695 2.13%,#313695 4.26%,#313695 6.38%,#313695 8.51%,#313695 10.64%,#313695 12.77%,#323896 14.89%,#323896 17.02%,#323896 19.15%,#323896 21.28%,#333b97 23.40%,#333b97 25.53%,#333b97 27.66%,#333d99 29.79%,#333d99 31.91%,#34409a 34.04%,#35429b 36.17%,#36459c 38.30%,#36479e 40.43%,#374a9f 42.55%,#394fa1 44.68%,#3a51a2 46.81%,#3b56a5 48.94%,#3d5ba7 51.06%,#3e60aa 53.19%,#4167ad 55.32%,#436fb1 57.45%,#4676b5 59.57%,#4b7db8 61.70%,#5183bb 63.83%,#588cc0 65.96%,#6095c4 68.09%,#679ec9 70.21%,#6da4cc 72.34%,#74add1 74.47%,#7db4d5 76.60%,#83b9d8 78.72%,#8abeda 80.85%,#92c5de 82.98%,#97c9e0 85.11%,#9dcee3 87.23%,#a1d1e5 89.36%,#a6d5e7 91.49%,#aad8e9 93.62%,#aedbea 95.74%,#b0dcea 97.87%,#b4deec 100.00%)"></u></b>
<b style="top:266px;height:14px;background:linear-gradient(90deg,#313695 0.00%,#313695 2.13%,#313695 4.26%,#313695 6.38%,#313695 8.51%,#313695 10.64%,#313695 12.77%,#323896 14.89%,#323896 17.02%,#323896 19.15%,#323896 21.28%,#333b97 23.40%,#333b97 25.53%,#333b97 27.66%,#333d99 29.79%,#333d99 31.91%,#34409a 34.04%,#35429b 36.17%,#36459c 38.30%,#36479e 40.43%,#374a9f 42.55%,#394fa1 44.68%,#3a51a2 46.81%,#3b56a5 48.94%,#3d5ba7 51.06%,#3e60aa 53.19%,#4167ad 55.32%,#436fb1 57.45%,#4676b5 59.57%,#4b7db8 61.70%,#5183bb 63.83%,#588cc0 65.96%,#6095c4 68.09%,#679ec9 70.21%,#6da4cc 72.34%,#74add1 74.47%,#7db4d5 76.60%,#83b9d8 78.72%,#8abeda 80.85%,#92c5de 82.98%,#97c9e0 85.11%,#9dcee3 87.23%,#a1d1e5 89.36%,#a6d5e7 91.49%,#aad8e9 93.62%,#aedbea 95.74%,#b0dcea 97.87%,#b4deec 100.00%)"><u style="background:linear-gradient(90deg,#313695 0.00%,#313695 2.13%,#313695 4.26%,#313695 6.38%,#313695 8.51%,#313695 10.64%,#313695 12.77%,#323896 14.89%,#323896 17.02%,#323896 19.15%,#323896 21.28%,#333b97 23.40%,#333b97 25.53%,#333d99 27.66%,#333d99 29.79%,#34409a 31.91%,#34409a 34.04%,#35429b 36.17%,#36459c 38.30%,#374a9f 40.43%,#384ca0 42.55%,#394fa1 44.68%,#3a54a4 46.81%,#3c59a6 48.94%,#3e5ea8 51.06%,#4065ac 53.19%,#426cb0 55.32%,#4574b3 57.45%,#4a7ab7 59.57%,#4f81ba 61.70%,#578abf 63.83%,#5e93c3 65.96%,#659bc8 68.09%,#6da4cc 70.21%,#74add1 72.34%,#7ab2d4 74.47%,#83b9d8 76.60%,#8cc0db 78.72%,#92c5de 80.85%,#99cae1 82.98%,#9fd0e4 85.11%,#a6d5e7 87.23%,#aad8e9 89.36%,#aedbea 91.49%,#b2ddeb 93.62%,#b6dfec 95.74%,#bbe1ed 97.87%,#bde2ee 100.00%)"></u></b>
<b style="top:280px;height:14px;background:linear-gradient(90deg,#313695 0.00%,#313695 2.13%,#313695 4.26%,#313695 6.38%,#313695 8.51%,#313695 10.64%,#313695 12.77%,#323896 14.89%,#323896 17.02%,#323896 19.15%,#323896 21.28%,#333b97 23.40%,#333b97 25.53%,#333d99 27.66%,#333d99 29.79%,#34409a 31.91%,#34409a 34.04%,#35429b 36.17%,#36459c 38.30%,#374a9f 40.43%,#384ca0 42.55%,#394fa1 44.68%,#3a54a4 46.81%,#3c59a6 48.94%,#3e5ea8 51.06%,#4065ac 53.19%,#426cb0 55.32%,#4574b3 57.45%,#4a7ab7 59.57%,#4f81ba 61.70%,#578abf 63.83%,#5e93c3 65.96%,#659bc8 68.09%,#6da4cc 70.21%,#74add1 72.34%,#7ab2d4 74.47%,#83b9d8 76.60%,#8cc0db 78.72%,#92c5de 80.85%,#99cae1 82.98%,#9fd0e4 85.11%,#a6d5e7 87.23%,#aad8e9 89.36%,#aedbea 91.49%,#b2ddeb 93.62%,#b6dfec 95.74%,#bbe1ed 97.87%,#bde2ee 100.00%)"><u style="background:linear-gradient(90deg,#313695 0.00%,#313695 2.13%,#313695 4.26%,#313695 6.38%,#313695 8.51%,#313695 10.64%,#323896 12.77%,#323896 14.89%,#323896 17.02%,#323896 19.15%,#333b97 21.28%,#333b97 23.40%,#333b97 25.53%,#333d99 27.66%,#333d99 29.79%,#34409a 31.91%,#35429b 34.04%,#36459c 36.17%,#36479e 38.30%,#374a9f 40.43%,#394fa1 42.55%,#3a51a2 44.68%,#3b56a5 46.81%,#3d5ba7 48.94%,#3f62ab 51.06%,#4167ad 53.19%,#436fb1 55.32%,#4676b5 57.45%,#4d7fb9 59.57%,#5588be 61.70%,#5a8ec1 63.83%,#6297c6 65.96%,#6ba2cb 68.09%,#72abd0 70.21%,#7ab2d4 72.34%,#83b9d8 74.47%,#8cc0db 76.60%,#92c5de 78.72%,#9bcce2 80.85%,#a1d1e5 82.98%,#a8d6e8 85.11%,#aedbea 87.23%,#b2ddeb 89.36%,#b6dfec 91.49%,#bbe1ed 93.62%,#bfe3ef 95.74%,#c3e5f0 97.87%,#c5e6f0 100.00%)"></u></b>
<b style="top:294px;height:14px;background:linear-gradient(90deg,#313695 0.00%,#313695 2.13%,#313695 4.26%,#313695 6.38%,#313695 8.51%,#313695 10.64%,#323896 12.77%,#323896 14.89%,#323896 17.02%,#323896 19.15%,#333b97 21.28%,#333b97 23.40%,#333b97 25.53%,#333d99 27.66%,#333d99 29.79%,#34409a 31.91%,#35429b 34.04%,#36459c 36.17%,#36479e 38.30%,#374a9f 40.43%,#394fa1 42.55%,#3a51a2 44.68%,#3b56a5 46.81%,#3d5ba7 48.94%,#3f62ab 51.06%,#4167ad 53.19%,#436fb1 55.32%,#4676b5 57.45%,#4d7fb9 59.57%,#5588be 61.70%,#5a8ec1 63.83%,#6297c6 65.96%,#6ba2cb 68.09%,#72abd0 70.21%,#7ab2d4 72.34%,#83b9d8 74.47%,#8cc0db 76.60%,#92c5de 78.72%,#9bcce2 80.85%,#a1d1e5 82.98%,#a8d6e8 85.11%,#aedbea 87.23%,#b2ddeb 89.36%,#b6dfec 91.49%,#bbe1ed 93.62%,#bfe3ef 95.74%,#c3e5f0 97.87%,#c5e6f0 100.00%)"><u style="background:linear-gradient(90deg,#313695 0.00%,#313695 2.13%,#313695 4.26%,#313695 6.38%,#313695 8.51%,#313695 10.64%,#323896 12.77%,#323896 14.89%,#323896 17.02%,#323896 19.15%,#333b97 21.28%,#333b97 23.40%,#333d99 25.53%,#333d99 27.66%,#34409a 29.79%,#34409a 31.91%,#35429b 34.04%,#36459c 36.17%,#374a9f 38.30%,#384ca0 40.43%,#394fa1 42.55%,#3a54a4 44.68%,#3c59a6 46.81%,#3e60aa 48.94%,#4065ac 51.06%,#426cb0 53.19%,#4574b3 55.32%,#4a7ab7 57.45%,#5183bb 59.57%,#588cc0 61.70%,#6095c4 63.83%,#679ec9 65.96%,#6ea6ce 68.09%,#78b0d3 70.21%,#81b7d7 72.34%,#8abeda 74.47%,#92c5de 76.60%,#9bcce2 78.72%,#a3d3e6 80.85%,#aad8e9 82.98%,#b0dcea 85.11%,#b6dfec 87.23%,#bbe1ed 89.36%,#bfe3ef 91.49%,#c3e5f0 93.62%,#c7e7f1 95.74%,#cbe9f2 97.87%,#cdeaf3 100.00%)"></u></b>
<b style="top:308px;height:14px;background:linear-gradient(90deg,#313695 0.00%,#313695 2.13%,#313695 4.26%,#313695 6.38%,#313695 8.51%,#313695 10.64%,#323896 12.77%,#323896 14.89%,#323896 17.02%,#323896 19.15%,#333b97 21.28%,#333b97 23.40%,#333d99 25.53%,#333d99 27.66%,#34409a 29.79%,#34409a 31.91%,#35429b 34.04%,#36459c 36.17%,#374a9f 38.30%,#384ca0 40.43%,#394fa1 42.55%,#3a54a4 44.68%,#3c59a6 46.81%,#3e60aa 48.94%,#4065ac 51.06%,#426cb0 53.19%,#4574b3 55.32%,#4a7ab7 57.45%,#5183bb 59.57%,#588cc0 61.70%,#6095c4 63.83%,#679ec9 65.96%,#6ea6ce 68.09%,#78b0d3 70.21%,#81b7d7 72.34%,#8abeda 74.47%,#92c5de 76.60%,#9bcce2 78.72%,#a3d3e6 80.85%,#aad8e9 82.98%,#b0dcea 85.11%,#b6dfec 87.23%,#bbe1ed 89.36%,#bfe3ef 91.49%,#c3e5f0 93.62%,#c7e7f1 95.74%,#cbe9f2 97.87%,#cdeaf3 100.00%)"><u style="background:linear-gradient(90deg,#313695 0.00%,#313695 2.13%,#313695 4.26%,#313695 6.38%,#313695 8.51%,#323896 10.64%,#323896 12.77%,#323896 14.89%,#323896 17.02%,#333b97 19.15%,#333b97 21.28%,#333b97 23.40%,#333d99 25.53%,#333d99 27.66%,#34409a 29.79%,#35429b 31.91%,#36459c 34.04%,#36479e 36.17%,#374a9f 38.30%,#394fa1 40.43%,#3a51a2 42.55%,#3b56a5 44.68%,#3d5ba7 46.81%,#3f62ab 48.94%,#416aaf 51.06%,#4471b2 53.19%,#4878b6 55.32%,#4d7fb9 57.45%,#5588be 59.57%,#5c90c2 61.70%,#659bc8 63.83%,#6da4cc 65.96%,#74add1 68.09%,#7fb6d6 70.21%,#87bdd9 72.34%,#92c5de 74.47%,#9bcce2 76.60%,#a3d3e6 78.72%,#aad8e9 80.85%,#b2ddeb 82.98%,#b9e0ed 85.11%,#bfe3ef 87.23%,#c3e5f0 89.36%,#c7e7f1 91.49%,#cbe9f2 93.62%,#cfebf3 95.74%,#d4edf4 97.87%,#d6eef5 100.00%)"></u></b>
<b style="top:322px;height:14px;background:linear-gradient(90deg,#313695 0.00%,#313695 2.13%,#313695 4.26%,#313695 6.38%,#313695 8.51%,#323896 10.64%,#323896 12.77%,#323896 14.89%,#323896 17.02%,#333b97 19.15%,#333b97 21.28%,#333b97 23.40%,#333d99 25.53%,#333d99 27.66%,#34409a 29.79%,#35429b 31.91%,#36459c 34.04%,#36479e 36.17%,#374a9f 38.30%,#394fa1 40.43%,#3a51a2 42.55%,#3b56a5 44.68%,#3d5ba7 46.81%,#3f62ab 48.94%,#416aaf 51.06%,#4471b2 53.19%,#4878b6 55.32%,#4d7fb9 57.45%,#5588be 59.57%,#5c90c2 61.70%,#659bc8 63.83%,#6da4cc 65.96%,#74add1 68.09%,#7fb6d6 70.21%,#87bdd9 72.34%,#92c5de 74.47%,#9bcce2 76.60%,#a3d3e6 78.72%,#aad8e9 80.85%,#b2ddeb 82.98%,#b9e0ed 85.11%,#bfe3ef 87.23%,#c3e5f0 89.36%,#c7e7f1 91.49%,#cbe9f2 93.62%,#cfebf3 95.74%,#d4edf4 97.87%,#d6eef5 100.00%)"><u style="background:linear-gradient(90deg,#313695 0.00%,#313695 2.13%,#313695 4.26%,#313695 6.38%,#313695 8.51%,#323896 10.64%,#323896 12.77%,#323896 14.89%,#323896 17.02%,#333b97 19.15%,#333b97 21.28%,#333d99 23.40%,#333d99 25.53%,#34409a 27.66%,#34409a 29.79%,#35429b 31.91%,#36459c 34.04%,#36479e 36.17%,#384ca0 38.30%,#394fa1 40.43%,#3a54a4 42.55%,#3c59a6 44.68%,#3e60aa 46.81%,#4065ac 48.94%,#426cb0 51.06%,#4574b3 53.19%,#4b7db8 55.32%,#5385bd 57.45%,#5a8ec1 59.57%,#6297c6 61.70%,#69a0ca 63.83%,#72abd0 65.96%,#7ab2d4 68.09%,#85bbd9 70.21%,#90c3dd 72.34%,#99cae1 74.47%,#a1d1e5 76.60%,#aad8e9 78.72%,#b2ddeb 80.85%,#b9e0ed 82.98%,#c1e4ef 85.11%,#c5e6f0 87.23%,#cbe9f2 89.36%,#cfebf3 91.49%,#d4edf4 93.62%,#d8eff6 95.74%,#daf0f6 97.87%,#def2f7 100.00%)"></u></b>
<b style="top:336px;height:14px;background:linear-gradient(90deg,#313695 0.00%,#313695 2.13%,#313695 4.26%,#313695 6.38%,#313695 8.51%,#323896 10.64%,#323896 12.77%,#323896 14.89%,#323896 17.02%,#333b97 19.15%,#333b97 21.28%,#333d99 23.40%,#333d99 25.53%,#34409a 27.66%,#34409a 29.79%,#35429b 31.91%,#36459c 34.04%,#36479e 36.17%,#384ca0 38.30%,#394fa1 40.43%,#3a54a4 42.55%,#3c59a6 44.68%,#3e60aa 46.81%,#4065ac 48.94%,#426cb0 51.06%,#4574b3 53.19%,#4b7db8 55.32%,#5385bd 57.45%,#5a8ec1 59.57%,#6297c6 61.70%,#69a0ca 63.83%,#72abd0 65.96%,#7ab2d4 68.09%,#85bbd9 70.21%,#90c3dd 72.34%,#99cae1 74.47%,#a1d1e5 76.60%,#aad8e9 78.72%,#b2ddeb 80.85%,#b9e0ed 82.98%,#c1e4ef 85.11%,#c5e6f0 87.23%,#cbe9f2 89.36%,#cfebf3 91.49%,#d4edf4 93.62%,#d8eff6 95.74%,#daf0f6 97.87%,#def2f7 100.00%)"><u style="background:linear-gradient(90deg,#313695 0.00%,#313695 2.13%,#313695 4.26%,#313695 6.38%,#323896 8.51%,#323896 10.64%,#323896 12.77%,#323896 14.89%,#323896 17.02%,#333b97 19.15%,#333b97 21.28%,#333d99 23.40%,#333d99 25.53%,#34409a 27.66%,#35429b 29.79%,#36459c 31.91%,#36479e 34.04%,#374a9f 36.17%,#394fa1 38.30%,#3a51a2 40.43%,#3b56a5 42.55%,#3d5ba7 44.68%,#3f62ab 46.81%,#416aaf 48.94%,#4471b2 51.06%,#4878b6 53.19%,#4f81ba 55.32%,#578abf 57.45%,#5e93c3 59.57%,#659bc8 61.70%,#6ea6ce 63.83%,#78b0d3 65.96%,#83b9d8 68.09%,#8cc0db 70.21%,#97c9e0 72.34%,#a1d1e5 74.47%,#aad8e9 76.60%,#b2ddeb 78.72%,#bbe1ed 80.85%,#c1e4ef 82.98%,#c7e7f1 85.11%,#cdeaf3 87.23%,#d4edf4 89.36%,#d8eff6 91.49%,#dcf1f7 93.62%,#e0f3f8 95.74%,#e1f3f6 97.87%,#e4f4f1 100.00%)"></u></b>
<b style="top:350px;height:14px;background:linear-gradient(90deg,#313695 0.00%,#313695 2.13%,#313695 4.26%,#313695 6.38%,#323896 8.51%,#323896 10.64%,#323896 12.77%,#323896 14.89%,#323896 17.02%,#333b97 19.15%,#333b97 21.28%,#333d99 23.40%,#333d99 25.53%,#34409a 27.66%,#35429b 29.79%,#36459c 31.91%,#36479e 34.04%,#374a9f 36.17%,#394fa1 38.30%,#3a51a2 40.43%,#3b56a5 42.55%,#3d5ba7 44.68%,#3f62ab 46.81%,#416aaf 48.94%,#4471b2 51.06%,#4878b6 53.19%,#4f81ba 55.32%,#578abf 57.45%,#5e93c3 59.57%,#659bc8 61.70%,#6ea6ce 63.83%,#78b0d3 65.96%,#83b9d8 68.09%,#8cc0db 70.21%,#97c9e0 72.34%,#a1d1e5 74.47%,#aad8e9 76.60%,#b2ddeb 78.72%,#bbe1ed 80.85%,#c1e4ef 82.98%,#c7e7f1 85.11%,#cdeaf3 87.23%,#d4edf4 89.36%,#d8eff6 91.49%,#dcf1f7 93.62%,#e0f3f8 95.74%,#e1f3f6 97.87%,#e4f4f1 100.00%)"><u style="background:linear-gradient(90deg,#313695 0.00%,#313695 2.13%,#313695 4.26%,#313695 6.38%,#323896 8.51%,#323896 10.64%,#323896 12.77%,#323896 14.89%,#333b97 17.02%,#333b97 19.15%,#333b97 21.28%,#333d99 23.40%,#34409a 25.53%,#34409a 27.66%,#35429b 29.79%,#36459c 31.91%,#36479e 34.04%,#384ca0 36.17%,#394fa1 38.30%,#3a54a4 40.43%,#3c59a6 42.55%,#3e5ea8 44.68%,#4065ac 46.81%,#426cb0 48.94%,#4574b3 51.06%,#4b7db8 53.19%,#5385bd 55.32%,#5a8ec1 57.45%,#6297c6 59.57%,#6ba2cb 61.70%,#74add1 63.83%,#7fb6d6 65.96%,#8abeda 68.09%,#94c7df 70.21%,#9dcee3 72.34%,#a8d6e8 74.47%,#b2ddeb 76.60%,#bbe1ed 78.72%,#c3e5f0 80.85%,#c9e8f2 82.98%,#cfebf3 85.11%,#d6eef5 87.23%,#dcf1f7 89.36%,#e0f3f8 91.49%,#e2f4f4 93.62%,#e5f5ef 95.74%,#e6f5ed 97.87%,#e9f6e8 100.00%)"></u></b>
<b style="top:364px;height:14px;background:linear-gradient(90deg,#313695 0.00%,#313695 2.13%,#313695 4.26%,#313695 6.38%,#323896 8.51%,#323896 10.64%,#323896 12.77%,#323896 14.89%,#333b97 17.02%,#333b97 19.15%,#333b97 21.28%,#333d99 23.40%,#34409a 25.53%,#34409a 27.66%,#35429b 29.79%,#36459c 31.91%,#36479e 34.04%,#384ca0 36.17%,#394fa1 38.30%,#3a54a4 40.43%,#3c59a6 42.55%,#3e5ea8 44.68%,#4065ac 46.81%,#426cb0 48.94%,#4574b3 51.06%,#4b7db8 53.19%,#5385bd 55.32%,#5a8ec1 57.45%,#6297c6 59.57%,#6ba2cb 61.70%,#74add1 63.83%,#7fb6d6 65.96%,#8abeda 68.09%,#94c7df 70.21%,#9dcee3 72.34%,#a8d6e8 74.47%,#b2ddeb 76.60%,#bbe1ed 78.72%,#c3e5f0 80.85%,#c9e8f2 82.98%,#cfebf3 85.11%,#d6eef5 87.23%,#dcf1f7 89.36%,#e0f3f8 91.49%,#e2f4f4 93.62%,#e5f5ef 95.74%,#e6f5ed 97.87%,#e9f6e8 100.00%)"><u style="background:linear-gradient(90deg,#313695 0.00%,#313695 2.13%,#313695 4.26%,#313695 6.38%,#323896 8.51%,#323896 10.64%,#323896 12.77%,#323896 14.89%,#333b97 17.02%,#333b97 19.15%,#333d99 21.28%,#333d99 23.40%,#34409a 25.53%,#35429b 27.66%,#36459c 29.79%,#36479e 31.91%,#374a9f 34.04%,#384ca0 36.17%,#3a51a2 38.30%,#3b56a5 40.43%,#3d5ba7 42.55%,#3f62ab 44.68%,#4167ad 46.81%,#436fb1 48.94%,#4878b6 51.06%,#4f81ba 53.19%,#578abf 55.32%,#5e93c3 57.45%,#679ec9 59.57%,#70a9cf 61.70%,#7ab2d4 63.83%,#85bbd9 65.96%,#90c3dd 68.09%,#9bcce2 70.21%,#a6d5e7 72.34%,#b0dcea 74.47%,#b9e0ed 76.60%,#c1e4ef 78.72%,#c9e8f2 80.85%,#d1ecf4 82.98%,#d8eff6 85.11%,#def2f7 87.23%,#e2f4f4 89.36%,#e5f5ef 91.49%,#e7f6eb 93.62%,#eaf7e6 95.74%,#ebf7e4 97.87%,#ecf8e2 100.00%)"></u></b>
<b style="top:378px;height:14px;background:linear-gradient(90deg,#313695 0.00%,#313695 2.13%,#313695 4.26%,#313695 6.38%,#323896 8.51%,#323896 10.64%,#323896 12.77%,#323896 14.89%,#333b97 17.02%,#333b97 19.15%,#333d99 21.28%,#333d99 23.40%,#34409a 25.53%,#35429b 27.66%,#36459c 29.79%,#36479e 31.91%,#374a9f 34.04%,#384ca0 36.17%,#3a51a2 38.30%,#3b56a5 40.43%,#3d5ba7 42.55%,#3f62ab 44.68%,#4167ad 46.81%,#436fb1 48.94%,#4878b6 51.06%,#4f81ba 53.19%,#578abf 55.32%,#5e93c3 57.45%,#679ec9 59.57%,#70a9cf 61.70%,#7ab2d4 63.83%,#85bbd9 65.96%,#90c3dd 68.09%,#9bcce2 70.21%,#a6d5e7 72.34%,#b0dcea 74.47%,#b9e0ed 76.60%,#c1e4ef 78.72%,#c9e8f2 80.85%,#d1ecf4 82.98%,#d8eff6 85.11%,#def2f7 87.23%,#e2f4f4 89.36%,#e5f5ef 91.49%,#e7f6eb 93.62%,#eaf7e6 95.74%,#ebf7e4 97.87%,#ecf8e2 100.00%)"><u style="background:linear-gradient(90deg,#313695 0.00%,#313695 2.13%,#313695 4.26%,#323896 6.38%,#323896 8.51%,#323896 10.64%,#323896 12.77%,#333b97 14.89%,#333b97 17.02%,#333b97 19.15%,#333d99 21.28%,#34409a 23.40%,#34409a 25.53%,#35429b 27.66%,#36459c 29.79%,#36479e 31.91%,#384ca0 34.04%,#394fa1 36.17%,#3a54a4 38.30%,#3c59a6 40.43%,#3e5ea8 42.55%,#4065ac 44.68%,#426cb0 46.81%,#4574b3 48.94%,#4b7db8 51.06%,#5385bd 53.19%,#5a8ec1 55.32%,#6399c7 57.45%,#6ba2cb 59.57%,#74add1 61.70%,#81b7d7 63.83%,#8cc0db 65.96%,#97c9e0 68.09%,#a1d1e5 70.21%,#acdae9 72.34%,#b6dfec 74.47%,#c1e4ef 76.60%,#c9e8f2 78.72%,#d1ecf4 80.85%,#daf0f6 82.98%,#e0f3f8 85.11%,#e4f4f1 87.23%,#e6f5ed 89.36%,#eaf7e6 91.49%,#ecf8e2 93.62%,#edf8df 95.74%,#f0f9db 97.87%,#f1fad9 100.00%)"></u></b>
<b style="top:392px;height:14px;background:linear-gradient(90deg,#313695 0.00%,#313695 2.13%,#313695 4.26%,#323896 6.38%,#323896 8.51%,#323896 10.64%,#323896 12.77%,#333b97 14.89%,#333b97 17.02%,#333b97 19.15%,#333d99 21.28%,#34409a 23.40%,#34409a 25.53%,#35429b 27.66%,#36459c 29.79%,#36479e 31.91%,#384ca0 34.04%,#394fa1 36.17%,#3a54a4 38.30%,#3c59a6 40.43%,#3e5ea8 42.55%,#4065ac 44.68%,#426cb0 46.81%,#4574b3 48.94%,#4b7db8 51.06%,#5385bd 53.19%,#5a8ec1 55.32%,#6399c7 57.45%,#6ba2cb 59.57%,#74add1 61.70%,#81b7d7 63.83%,#8cc0db 65.96%,#97c9e0 68.09%,#a1d1e5 70.21%,#acdae9 72.34%,#b6dfec 74.47%,#c1e4ef 76.60%,#c9e8f2 78.72%,#d1ecf4 80.85%,#daf0f6 82.98%,#e0f3f8 85.11%,#e4f4f1 87.23%,#e6f5ed 89.36%,#eaf7e6 91.49%,#ecf8e2 93.62%,#edf8df 95.74%,#f0f9db 97.87%,#f1fad9 100.00%)"><u style="background:linear-gradient(90deg,#313695 0.00%,#313695 2.13%,#313695 4.26%,#323896 6.38%,#323896 8.51%,#323896 10.64%,#323896 12.77%,#333b97 14.89%,#333b97 17.02%,#333d99 19.15%,#333d99 21.28%,#34409a 23.40%,#35429b 25.53%,#35429b 27.66%,#36479e 29.79%,#374a9f 31.91%,#384ca0 34.04%,#3a51a2 36.17%,#3b56a5 38.30%,#3d5ba7 40.43%,#3e60aa 42.55%,#4167ad 44.68%,#436fb1 46.81%,#4878b6 48.94%,#4d7fb9 51.06%,#578abf 53.19%,#5e93c3 55.32%,#679ec9 57.45%,#70a9cf 59.57%,#7ab2d4 61.70%,#87bdd9 63.83%,#92c5de 65.96%,#9dcee3 68.09%,#aad8e9 70.21%,#b4deec 72.34%,#bfe3ef 74.47%,#c7e7f1 76.60%,#d1ecf4 78.72%,#daf0f6 80.85%,#e0f3f8 82.98%,#e5f5ef 85.11%,#e9f6e8 87.23%,#ebf7e4 89.36%,#edf8df 91.49%,#f0f9db 93.62%,#f2fad6 95.74%,#f5fbd2 97.87%,#f6fbd0 100.00%)"></u></b>
<b style="top:406px;height:14px;background:linear-gradient(90deg,#313695 0.00%,#313695 2.13%,#313695 4.26%,#323896 6.38%,#323896 8.51%,#323896 10.64%,#323896 12.77%,#333b97 14.89%,#333b97 17.02%,#333d99 19.15%,#333d99 21.28%,#34409a 23.40%,#35429b 25.53%,#35429b 27.66%,#36479e 29.79%,#374a9f 31.91%,#384ca0 34.04%,#3a51a2 36.17%,#3b56a5 38.30%,#3d5ba7 40.43%,#3e60aa 42.55%,#4167ad 44.68%,#436fb1 46.81%,#4878b6 48.94%,#4d7fb9 51.06%,#578abf 53.19%,#5e93c3 55.32%,#679ec9 57.45%,#70a9cf 59.57%,#7ab2d4 61.70%,#87bdd9 63.83%,#92c5de 65.96%,#9dcee3 68.09%,#aad8e9 70.21%,#b4deec 72.34%,#bfe3ef 74.47%,#c7e7f1 76.60%,#d1ecf4 78.72%,#daf0f6 80.85%,#e0f3f8 82.98%,#e5f5ef 85.11%,#e9f6e8 87.23%,#ebf7e4 89.36%,#edf8df 91.49%,#f0f9db 93.62%,#f2fad6 95.74%,#f5fbd2 97.87%,#f6fbd0 100.00%)"><u style="background:linear-gradient(90deg,#313695 0.00%,#313695 2.13%,#323896 4.26%,#323896 6.38%,#323896 8.51%,#323896 10.64%,#333b97 12.77%,#333b97 14.89%,#333b97 17.02%,#333d99 19.15%,#333d99 21.28%,#34409a 23.40%,#35429b 25.53%,#36459c 27.66%,#36479e 29.79%,#374a9f 31.91%,#394fa1 34.04%,#3a54a4 36.17%,#3c59a6 38.30%,#3e5ea8 40.43%,#3f62ab 42.55%,#416aaf 44.68%,#4574b3 46.81%,#4a7ab7 48.94%,#5183bb 51.06%,#5a8ec1 53.19%,#6297c6 55.32%,#6ba2cb 57.45%,#76afd2 59.57%,#81b7d7 61.70%,#8ec2dc 63.83%,#99cae1 65.96%,#a6d5e7 68.09%,#b0dcea 70.21%,#bbe1ed 72.34%,#c5e6f0 74.47%,#cfebf3 76.60%,#daf0f6 78.72%,#e1f3f6 80.85%,#e5f5ef 82.98%,#e9f6e8 85.11%,#ecf8e2 87.23%,#f0f9db 89.36%,#f2fad6 91.49%,#f5fbd2 93.62%,#f7fcce 95.74%,#f8fccb 97.87%,#fbfdc7 100.00%)"></u></b>
<b style="top:420px;height:14px;background:linear-gradient(90deg,#313695 0.00%,#313695 2.13%,#323896 4.26%,#323896 6.38%,#323896 8.51%,#323896 10.64%,#333b97 12.77%,#333b97 14.89%,#333b97 17.02%,#333d99 19.15%,#333d99 21.28%,#34409a 23.40%,#35429b 25.53%,#36459c 27.66%,#36479e 29.79%,#374a9f 31.91%,#394fa1 34.04%,#3a54a4 36.17%,#3c59a6 38.30%,#3e5ea8 40.43%,#3f62ab 42.55%,#416aaf 44.68%,#4574b3 46.81%,#4a7ab7 48.94%,#5183bb 51.06%,#5a8ec1 53.19%,#6297c6 55.32%,#6ba2cb 57.45%,#76afd2 59.57%,#81b7d7 61.70%,#8ec2dc 63.83%,#99cae1 65.96%,#a6d5e7 68.09%,#b0dcea 70.21%,#bbe1ed 72.34%,#c5e6f0 74.47%,#cfebf3 76.60%,#daf0f6 78.72%,#e1f3f6 80.85%,#e5f5ef 82.98%,#e9f6e8 85.11%,#ecf8e2 87.23%,#f0f9db 89.36%,#f2fad6 91.49%,#f5fbd2 93.62%,#f7fcce 95.74%,#f8fccb 97.87%,#fbfdc7 100.00%)"><u style="background:linear-gradient(90deg,#313695 0.00%,#313695 2.13%,#323896 4.26%,#323896 6.38%,#323896 8.51%,#323896 10.64%,#333b97 12.77%,#333b97 14.89%,#333d99 17.02%,#333d99 19.15%,#34409a 21.28%,#34409a 23.40%,#35429b 25.53%,#36459c 27.66%,#374a9f 29.79%,#384ca0 31.91%,#3a51a2 34.04%,#3a54a4 36.17%,#3c59a6 38.30%,#3e60aa 40.43%,#4167ad 42.55%,#436fb1 44.68%,#4676b5 46.81%,#4d7fb9 48.94%,#5588be 51.06%,#5e93c3 53.19%,#679ec9 55.32%,#70a9cf 57.45%,#7ab2d4 59.57%,#87bdd9 61.70%,#94c7df 63.83%,#9fd0e4 65.96%,#acdae9 68.09%,#b9e0ed 70.21%,#c3e5f0 72.34%,#cdeaf3 74.47%,#d8eff6 76.60%,#e0f3f8 78.72%,#e5f5ef 80.85%,#eaf7e6 82.98%,#edf8df 85.11%,#f1fad9 87.23%,#f5fbd2 89.36%,#f7fcce 91.49%,#fafdc9 93.62%,#fcfec5 95.74%,#fdfec2 97.87%,#feffc0 100.00%)"></u></b>
<b style="top:434px;height:14px;background:linear-gradient(90deg,#313695 0.00%,#313695 2.13%,#323896 4.26%,#323896 6.38%,#323896 8.51%,#323896 10.64%,#333b97 12.77%,#333b97 14.89%,#333d99 17.02%,#333d99 19.15%,#34409a 21.28%,#34409a 23.40%,#35429b 25.53%,#36459c 27.66%,#374a9f 29.79%,#384ca0 31.91%,#3a51a2 34.04%,#3a54a4 36.17%,#3c59a6 38.30%,#3e60aa 40.43%,#4167ad 42.55%,#436fb1 44.68%,#4676b5 46.81%,#4d7fb9 48.94%,#5588be 51.06%,#5e93c3 53.19%,#679ec9 55.32%,#70a9cf 57.45%,#7ab2d4 59.57%,#87bdd9 61.70%,#94c7df 63.83%,#9fd0e4 65.96%,#acdae9 68.09%,#b9e0ed 70.21%,#c3e5f0 72.34%,#cdeaf3 74.47%,#d8eff6 76.60%,#e0f3f8 78.72%,#e5f5ef 80.85%,#eaf7e6 82.98%,#edf8df 85.11%,#f1fad9 87.23%,#f5fbd2 89.36%,#f7fcce 91.49%,#fafdc9 93.62%,#fcfec5 95.74%,#fdfec2 97.87%,#feffc0 100.00%)"><u style="background:linear-gradient(90deg,#313695 0.00%,#313695 2.13%,#323896 4.26%,#323896 6.38%,#323896 8.51%,#323896 10.64%,#333b97 12.77%,#333b97 14.89%,#333d99 17.02%,#333d99 19.15%,#34409a 21.28%,#35429b 23.40%,#36459c 25.53%,#36479e 27.66%,#374a9f 29.79%,#394fa1 31.91%,#3a51a2 34.04%,#3b56a5 36.17%,#3d5ba7 38.30%,#3f62ab 40.43%,#416aaf 42.55%,#4471b2 44.68%,#4a7ab7 46.81%,#5183bb 48.94%,#588cc0 51.06%,#6297c6 53.19%,#6ba2cb 55.32%,#76afd2 57.45%,#81b7d7 59.57%,#8ec2dc 61.70%,#9bcce2 63.83%,#a8d6e8 65.96%,#b4deec 68.09%,#bfe3ef 70.21%,#cbe9f2 72.34%,#d6eef5 74.47%,#def2f7 76.60%,#e5f5ef 78.72%,#eaf7e6 80.85%,#eff9dd 82.98%,#f2fad6 85.11%,#f6fbd0 87.23%,#f8fccb 89.36%,#fcfec5 91.49%,#feffc0 93.62%,#fffebe 95.74%,#fffcba 97.87%,#fffbb9 100.00%)"></u></b>
<b style="top:448px;height:14px;background:linear-gradient(90deg,#313695 0.00%,#313695 2.13%,#323896 4.26%,#323896 6.38%,#323896 8.51%,#323896 10.64%,#333b97 12.77%,#333b97 14.89%,#333d99 17.02%,#333d99 19.15%,#34409a 21.28%,#35429b 23.40%,#36459c 25.53%,#36479e 27.66%,#374a9f 29.79%,#394fa1 31.91%,#3a51a2 34.04%,#3b56a5 36.17%,#3d5ba7 38.30%,#3f62ab 40.43%,#416aaf 42.55%,#4471b2 44.68%,#4a7ab7 46.81%,#5183bb 48.94%,#588cc0 51.06%,#6297c6 53.19%,#6ba2cb 55.32%,#76afd2 57.45%,#81b7d7 59.57%,#8ec2dc 61.70%,#9bcce2 63.83%,#a8d6e8 65.96%,#b4deec 68.09%,#bfe3ef 70.21%,#cbe9f2 72.34%,#d6eef5 74.47%,#def2f7 76.60%,#e5f5ef 78.72%,#eaf7e6 80.85%,#eff9dd 82.98%,#f2fad6 85.11%,#f6fbd0 87.23%,#f8fccb 89.36%,#fcfec5 91.49%,#feffc0 93.62%,#fffebe 95.74%,#fffcba 97.87%,#fffbb9 100.00%)"><u style="background:linear-gradient(90deg,#313695 0.00%,#323896 2.13%,#323896 4.26%,#323896 6.38%,#323896 8.51%,#333b97 10.64%,#333b97 12.77%,#333b97 14.89%,#333d99 17.02%,#34409a 19.15%,#34409a 21.28%,#35429b 23.40%,#36459c 25.53%,#36479e 27.66%,#384ca0 29.79%,#394fa1 31.91%,#3a54a4 34.04%,#3c59a6 36.17%,#3e5ea8 38.30%,#4065ac 40.43%,#426cb0 42.55%,#4676b5 44.68%,#4b7db8 46.81%,#5588be 48.94%,#5c90c2 51.06%,#659bc8 53.19%,#70a9cf 55.32%,#7ab2d4 57.45%,#87bdd9 59.57%,#94c7df 61.70%,#a1d1e5 63.83%,#aedbea 65.96%,#bbe1ed 68.09%,#c7e7f1 70.21%,#d1ecf4 72.34%,#dcf1f7 74.47%,#e4f4f1 76.60%,#eaf7e6 78.72%,#eff9dd 80.85%,#f2fad6 82.98%,#f7fcce 85.11%,#fafdc9 87.23%,#fdfec2 89.36%,#fffebe 91.49%,#fffcba 93.62%,#fffab7 95.74%,#fff8b5 97.87%,#fff6b1 100.00%)"></u></b>
<b style="top:462px;height:14px;background:linear-gradient(90deg,#313695 0.00%,#323896 2.13%,#323896 4.26%,#323896 6.38%,#323896 8.51%,#333b97 10.64%,#333b97 12.77%,#333b97 14.89%,#333d99 17.02%,#34409a 19.15%,#34409a 21.28%,#35429b 23.40%,#36459c 25.53%,#36479e 27.66%,#384ca0 29.79%,#394fa1 31.91%,#3a54a4 34.04%,#3c59a6 36.17%,#3e5ea8 38.30%,#4065ac 40.43%,#426cb0 42.55%,#4676b5 44.68%,#4b7db8 46.81%,#5588be 48.94%,#5c90c2 51.06%,#659bc8 53.19%,#70a9cf 55.32%,#7ab2d4 57.45%,#87bdd9 59.57%,#94c7df 61.70%,#a1d1e5 63.83%,#aedbea 65.96%,#bbe1ed 68.09%,#c7e7f1 70.21%,#d1ecf4 72.34%,#dcf1f7 74.47%,#e4f4f1 76.60%,#eaf7e6 78.72%,#eff9dd 80.85%,#f2fad6 82.98%,#f7fcce 85.11%,#fafdc9 87.23%,#fdfec2 89.36%,#fffebe 91.49%,#fffcba 93.62%,#fffab7 95.74%,#fff8b5 97.87%,#fff6b1 100.00%)"><u style="background:linear-gradient(90deg,#313695 0.00%,#323896 2.13%,#323896 4.26%,#323896 6.38%,#323896 8.51%,#333b97 10.64%,#333b97 12.77%,#333d99 14.89%,#333d99 17.02%,#34409a 19.15%,#35429b 21.28%,#35429b 23.40%,#36479e 25.53%,#374a9f 27.66%,#384ca0 29.79%,#3a51a2 31.91%,#3b56a5 34.04%,#3d5ba7 36.17%,#3e60aa 38.30%,#4167ad 40.43%,#4471b2 42.55%,#4878b6 44.68%,#4f81ba 46.81%,#588cc0 48.94%,#6095c4 51.06%,#6ba2cb 53.19%,#74add1 55.32%,#81b7d7 57.45%,#8ec2dc 59.57%,#9bcce2 61.70%,#a8d6e8 63.83%,#b4deec 65.96%,#c1e4ef 68.09%,#cdeaf3 70.21%,#daf0f6 72.34%,#e2f4f4 74.47%,#e9f6e8 76.60%,#edf8df 78.72%,#f2fad6 80.85%,#f7fcce 82.98%,#fbfdc7 85.11%,#feffc0 87.23%,#fffcba 89.36%,#fffab7 91.49%,#fff7b3 93.62%,#fff6b1 95.74%,#fff3ad 97.87%,#fff2ac 100.00%)"></u></b>
<b style="top:476px;height:14px;background:linear-gradient(90deg,#313695 0.00%,#323896 2.13%,#323896 4.26%,#323896 6.38%,#323896 8.51%,#333b97 10.64%,#333b97 12.77%,#333d99 14.89%,#333d99 17.02%,#34409a 19.15%,#35429b 21.28%,#35429b 23.40%,#36479e 25.53%,#374a9f 27.66%,#384ca0 29.79%,#3a51a2 31.91%,#3b56a5 34.04%,#3d5ba7 36.17%,#3e60aa 38.30%,#4167ad 40.43%,#4471b2 42.55%,#4878b6 44.68%,#4f81ba 46.81%,#588cc0 48.94%,#6095c4 51.06%,#6ba2cb 53.19%,#74add1 55.32%,#81b7d7 57.45%,#8ec2dc 59.57%,#9bcce2 61.70%,#a8d6e8 63.83%,#b4deec 65.96%,#c1e4ef 68.09%,#cdeaf3 70.21%,#daf0f6 72.34%,#e2f4f4 74.47%,#e9f6e8 76.60%,#edf8df 78.72%,#f2fad6 80.85%,#f7fcce 82.98%,#fbfdc7 85.11%,#feffc0 87.23%,#fffcba 89.36%,#fffab7 91.49%,#fff7b3 93.62%,#fff6b1 95.74%,#fff3ad 97.87%,#fff2ac 100.00%)"><u style="background:linear-gradient(90deg,#323896 0.00%,#323896 2.13%,#323896 4.26%,#323896 6.38%,#323896 8.51%,#333b97 10.64%,#333b97 12.77%,#333d99 14.89%,#333d99 17.02%,#34409a 19.15%,#35429b 21.28%,#36459c 23.40%,#36479e 25.53%,#374a9f 27.66%,#394fa1 29.79%,#3a54a4 31.91%,#3c59a6 34.04%,#3e5ea8 36.17%,#4065ac 38.30%,#426cb0 40.43%,#4574b3 42.55%,#4b7db8 44.68%,#5385bd 46.81%,#5c90c2 48.94%,#659bc8 51.06%,#6ea6ce 53.19%,#7ab2d4 55.32%,#87bdd9 57.45%,#94c7df 59.57%,#a1d1e5 61.70%,#aedbea 63.83%,#bde2ee 65.96%,#c9e8f2 68.09%,#d6eef5 70.21%,#e0f3f8 72.34%,#e7f6eb 74.47%,#ecf8e2 76.60%,#f2fad6 78.72%,#f7fcce 80.85%,#fcfec5 82.98%,#fffebe 85.11%,#fffbb9 87.23%,#fff8b5 89.36%,#fff6b1 91.49%,#fff3ad 93.62%,#fff1aa 95.74%,#fff0a8 97.87%,#feeda4 100.00%)"></u></b>
<b style="top:490px;height:14px;background:linear-gradient(90deg,#323896 0.00%,#323896 2.13%,#323896 4.26%,#323896 6.38%,#323896 8.51%,#333b97 10.64%,#333b97 12.77%,#333d99 14.89%,#333d99 17.02%,#34409a 19.15%,#35429b 21.28%,#36459c 23.40%,#36479e 25.53%,#374a9f 27.66%,#394fa1 29.79%,#3a54a4 31.91%,#3c59a6 34.04%,#3e5ea8 36.17%,#4065ac 38.30%,#426cb0 40.43%,#4574b3 42.55%,#4b7db8 44.68%,#5385bd 46.81%,#5c90c2 48.94%,#659bc8 51.06%,#6ea6ce 53.19%,#7ab2d4 55.32%,#87bdd9 57.45%,#94c7df 59.57%,#a1d1e5 61.70%,#aedbea 63.83%,#bde2ee 65.96%,#c9e8f2 68.09%,#d6eef5 70.21%,#e0f3f8 72.34%,#e7f6eb 74.47%,#ecf8e2 76.60%,#f2fad6 78.72%,#f7fcce 80.85%,#fcfec5 82.98%,#fffebe 85.11%,#fffbb9 87.23%,#fff8b5 89.36%,#fff6b1 91.49%,#fff3ad 93.62%,#fff1aa 95.74%,#fff0a8 97.87%,#feeda4 100.00%)"><u style="background:linear-gradient(90deg,#323896 0.00%,#323896 2.13%,#323896 4.26%,#323896 6.38%,#333b97 8.51%,#333b97 10.64%,#333b97 12.77%,#333d99 14.89%,#34409a 17.02%,#34409a 19.15%,#35429b 21.28%,#36459c 23.40%,#36479e 25.53%,#384ca0 27.66%,#394fa1 29.79%,#3a54a4 31.91%,#3c59a6 34.04%,#3e60aa 36.17%,#4167ad 38.30%,#436fb1 40.43%,#4676b5 42.55%,#4d7fb9 44.68%,#578abf 46.81%,#6095c4 48.94%,#69a0ca 51.06%,#72abd0 53.19%,#7fb6d6 55.32%,#8cc0db 57.45%,#9bcce2 59.57%,#a8d6e8 61.70%,#b6dfec 63.83%,#c3e5f0 65.96%,#cfebf3 68.09%,#dcf1f7 70.21%,#e5f5ef 72.34%,#ebf7e4 74.47%,#f1fad9 76.60%,#f7fcce 78.72%,#fcfec5 80.85%,#fffebe 82.98%,#fffbb9 85.11%,#fff7b3 87.23%,#fff3ad 89.36%,#fff1aa 91.49%,#feefa6 93.62%,#feeda4 95.74%,#feeba1 97.87%,#feea9f 100.00%)"></u></b>
<b style="top:504px;height:14px;background:linear-gradient(90deg,#323896 0.00%,#323896 2.13%,#323896 4.26%,#323896 6.38%,#333b97 8.51%,#333b97 10.64%,#333b97 12.77%,#333d99 14.89%,#34409a 17.02%,#34409a 19.15%,#35429b 21.28%,#36459c 23.40%,#36479e 25.53%,#384ca0 27.66%,#394fa1 29.79%,#3a54a4 31.91%,#3c59a6 34.04%,#3e60aa 36.17%,#4167ad 38.30%,#436fb1 40.43%,#4676b5 42.55%,#4d7fb9 44.68%,#578abf 46.81%,#6095c4 48.94%,#69a0ca 51.06%,#72abd0 53.19%,#7fb6d6 55.32%,#8cc0db 57.45%,#9bcce2 59.57%,#a8d6e8 61.70%,#b6dfec 63.83%,#c3e5f0 65.96%,#cfebf3 68.09%,#dcf1f7 70.21%,#e5f5ef 72.34%,#ebf7e4 74.47%,#f1fad9 76.60%,#f7fcce 78.72%,#fcfec5 80.85%,#fffebe 82.98%,#fffbb9 85.11%,#fff7b3 87.23%,#fff3ad 89.36%,#fff1aa 91.49%,#feefa6 93.62%,#feeda4 95.74%,#feeba1 97.87%,#feea9f 100.00%)"><u style="background:linear-gradient(90deg,#323896 0.00%,#323896 2.13%,#323896 4.26%,#323896 6.38%,#333b97 8.51%,#333b97 10.64%,#333d99 12.77%,#333d99 14.89%,#34409a 17.02%,#35429b 19.15%,#36459c 21.28%,#36479e 23.40%,#374a9f 25.53%,#384ca0 27.66%,#3a51a2 29.79%,#3b56a5 31.91%,#3d5ba7 34.04%,#3f62ab 36.17%,#416aaf 38.30%,#4471b2 40.43%,#4a7ab7 42.55%,#5183bb 44.68%,#5a8ec1 46.81%,#6399c7 48.94%,#6da4cc 51.06%,#78b0d3 53.19%,#85bbd9 55.32%,#92c5de 57.45%,#a1d1e5 59.57%,#b0dcea 61.70%,#bde2ee 63.83%,#cbe9f2 65.96%,#d8eff6 68.09%,#e2f4f4 70.21%,#eaf7e6 72.34%,#f0f9db 74.47%,#f6fbd0 76.60%,#fbfdc7 78.72%,#fffebe 80.85%,#fffab7 82.98%,#fff6b1 85.11%,#fff2ac 87.23%,#fff0a8 89.36%,#feeda4 91.49%,#feeba1 93.62%,#fee99d 95.74%,#fee79b 97.87%,#fee699 100.00%)"></u></b>
<b style="top:518px;height:14px;background:linear-gradient(90deg,#323896 0.00%,#323896 2.13%,#323896 4.26%,#323896 6.38%,#333b97 8.51%,#333b97 10.64%,#333d99 12.77%,#333d99 14.89%,#34409a 17.02%,#35429b 19.15%,#36459c 21.28%,#36479e 23.40%,#374a9f 25.53%,#384ca0 27.66%,#3a51a2 29.79%,#3b56a5 31.91%,#3d5ba7 34.04%,#3f62ab 36.17%,#416aaf 38.30%,#4471b2 40.43%,#4a7ab7 42.55%,#5183bb 44.68%,#5a8ec1 46.81%,#6399c7 48.94%,#6da4cc 51.06%,#78b0d3 53.19%,#85bbd9 55.32%,#92c5de 57.45%,#a1d1e5 59.57%,#b0dcea 61.70%,#bde2ee 63.83%,#cbe9f2 65.96%,#d8eff6 68.09%,#e2f4f4 70.21%,#eaf7e6 72.34%,#f0f9db 74.47%,#f6fbd0 76.60%,#fbfdc7 78.72%,#fffebe 80.85%,#fffab7 82.98%,#fff6b1 85.11%,#fff2ac 87.23%,#fff0a8 89.36%,#feeda4 91.49%,#feeba1 93.62%,#fee99d 95.74%,#fee79b 97.87%,#fee699 100.00%)"><u style="background:linear-gradient(90deg,#323896 0.00%,#323896 2.13%,#323896 4.26%,#333b97 6.38%,#333b97 8.51%,#333b97 10.64%,#333d99 12.77%,#333d99 14.89%,#34409a 17.02%,#35429b 19.15%,#36459c 21.28%,#36479e 23.40%,#374a9f 25.53%,#394fa1 27.66%,#3a54a4 29.79%,#3c59a6 31.91%,#3e5ea8 34.04%,#4065ac 36.17%,#426cb0 38.30%,#4676b5 40.43%,#4b7db8 42.55%,#5588be 44.68%,#5e93c3 46.81%,#679ec9 48.94%,#70a9cf 51.06%,#7db4d5 53.19%,#8cc0db 55.32%,#99cae1 57.45%,#a8d6e8 59.57%,#b6dfec 61.70%,#c3e5f0 63.83%,#d1ecf4 65.96%,#def2f7 68.09%,#e6f5ed 70.21%,#edf8df 72.34%,#f3fbd4 74.47%,#fafdc9 76.60%,#fffebe 78.72%,#fffab7 80.85%,#fff6b1 82.98%,#fff2ac 85.11%,#feefa6 87.23%,#feeba1 89.36%,#fee99d 91.49%,#fee699 93.62%,#fee597 95.74%,#fee294 97.87%,#fee192 100.00%)"></u></b>
<b style="top:532px;height:14px;background:linear-gradient(90deg,#323896 0.00%,#323896 2.13%,#323896 4.26%,#333b97 6.38%,#333b97 8.51%,#333b97 10.64%,#333d99 12.77%,#333d99 14.89%,#34409a 17.02%,#35429b 19.15%,#36459c 21.28%,#36479e 23.40%,#374a9f 25.53%,#394fa1 27.66%,#3a54a4 29.79%,#3c59a6 31.91%,#3e5ea8 34.04%,#4065ac 36.17%,#426cb0 38.30%,#4676b5 40.43%,#4b7db8 42.55%,#5588be 44.68%,#5e93c3 46.81%,#679ec9 48.94%,#70a9cf 51.06%,#7db4d5 53.19%,#8cc0db 55.32%,#99cae1 57.45%,#a8d6e8 59.57%,#b6dfec 61.70%,#c3e5f0 63.83%,#d1ecf4 65.96%,#def2f7 68.09%,#e6f5ed 70.21%,#edf8df 72.34%,#f3fbd4 74.47%,#fafdc9 76.60%,#fffebe 78.72%,#fffab7 80.85%,#fff6b1 82.98%,#fff2ac 85.11%,#feefa6 87.23%,#feeba1 89.36%,#fee99d 91.49%,#fee699 93.62%,#fee597 95.74%,#fee294 97.87%,#fee192 100.00%)"><u style="background:linear-gradient(90deg,#323896 0.00%,#323896 2.13%,#323896 4.26%,#333b97 6.38%,#333b97 8.51%,#333b97 10.64%,#333d99 12.77%,#34409a 14.89%,#34409a 17.02%,#35429b 19.15%,#36459c 21.28%,#374a9f 23.40%,#384ca0 25.53%,#3a51a2 27.66%,#3a54a4 29.79%,#3d5ba7 31.91%,#3e60aa 34.04%,#4167ad 36.17%,#436fb1 38.30%,#4878b6 40.43%,#4f81ba 42.55%,#588cc0 44.68%,#6297c6 46.81%,#6ba2cb 48.94%,#76afd2 51.06%,#83b9d8 53.19%,#92c5de 55.32%,#9fd0e4 57.45%,#aedbea 59.57%,#bde2ee 61.70%,#cbe9f2 63.83%,#d8eff6 65.96%,#e4f4f1 68.09%,#ebf7e4 70.21%,#f2fad6 72.34%,#f8fccb 74.47%,#feffc0 76.60%,#fffbb9 78.72%,#fff6b1 80.85%,#fff1aa 82.98%,#feeda4 85.11%,#feea9f 87.23%,#fee79b 89.36%,#fee597 91.49%,#fee294 93.62%,#fee192 95.74%,#fede8e 97.87%,#fedc8c 100.00%)"></u></b>
<b style="top:546px;height:14px;background:linear-gradient(90deg,#323896 0.00%,#323896 2.13%,#323896 4.26%,#333b97 6.38%,#333b97 8.51%,#333b97 10.64%,#333d99 12.77%,#34409a 14.89%,#34409a 17.02%,#35429b 19.15%,#36459c 21.28%,#374a9f 23.40%,#384ca0 25.53%,#3a51a2 27.66%,#3a54a4 29.79%,#3d5ba7 31.91%,#3e60aa 34.04%,#4167ad 36.17%,#436fb1 38.30%,#4878b6 40.43%,#4f81ba 42.55%,#588cc0 44.68%,#6297c6 46.81%,#6ba2cb 48.94%,#76afd2 51.06%,#83b9d8 53.19%,#92c5de 55.32%,#9fd0e4 57.45%,#aedbea 59.57%,#bde2ee 61.70%,#cbe9f2 63.83%,#d8eff6 65.96%,#e4f4f1 68.09%,#ebf7e4 70.21%,#f2fad6 72.34%,#f8fccb 74.47%,#feffc0 76.60%,#fffbb9 78.72%,#fff6b1 80.85%,#fff1aa 82.98%,#feeda4 85.11%,#feea9f 87.23%,#fee79b 89.36%,#fee597 91.49%,#fee294 93.62%,#fee192 95.74%,#fede8e 97.87%,#fedc8c 100.00%)"><u style="background:linear-gradient(90deg,#323896 0.00%,#323896 2.13%,#323896 4.26%,#333b97 6.38%,#333b97 8.51%,#333d99 10.64%,#333d99 12.77%,#34409a 14.89%,#35429b 17.02%,#36459c 19.15%,#36479e 21.28%,#374a9f 23.40%,#394fa1 25.53%,#3a51a2 27.66%,#3b56a5 29.79%,#3e5ea8 31.91%,#3f62ab 34.04%,#416aaf 36.17%,#4574b3 38.30%,#4a7ab7 40.43%,#5385bd 42.55%,#5a8ec1 44.68%,#659bc8 46.81%,#6ea6ce 48.94%,#7ab2d4 51.06%,#8abeda 53.19%,#97c9e0 55.32%,#a6d5e7 57.45%,#b4deec 59.57%,#c3e5f0 61.70%,#d1ecf4 63.83%,#e0f3f8 65.96%,#e7f6eb 68.09%,#f0f9db 70.21%,#f6fbd0 72.34%,#fdfec2 74.47%,#fffcba 76.60%,#fff6b1 78.72%,#fff1aa 80.85%,#feeda4 82.98%,#feea9f 85.11%,#fee699 87.23%,#fee496 89.36%,#fee192 91.49%,#fede8e 93.62%,#feda8a 95.74%,#fed889 97.87%,#fed687 100.00%)"></u></b>
<b style="top:560px;height:14px;background:linear-gradient(90deg,#323896 0.00%,#323896 2.13%,#323896 4.26%,#333b97 6.38%,#333b97 8.51%,#333d99 10.64%,#333d99 12.77%,#34409a 14.89%,#35429b 17.02%,#36459c 19.15%,#36479e 21.28%,#374a9f 23.40%,#394fa1 25.53%,#3a51a2 27.66%,#3b56a5 29.79%,#3e5ea8 31.91%,#3f62ab 34.04%,#416aaf 36.17%,#4574b3 38.30%,#4a7ab7 40.43%,#5385bd 42.55%,#5a8ec1 44.68%,#659bc8 46.81%,#6ea6ce 48.94%,#7ab2d4 51.06%,#8abeda 53.19%,#97c9e0 55.32%,#a6d5e7 57.45%,#b4deec 59.57%,#c3e5f0 61.70%,#d1ecf4 63.83%,#e0f3f8 65.96%,#e7f6eb 68.09%,#f0f9db 70.21%,#f6fbd0 72.34%,#fdfec2 74.47%,#fffcba 76.60%,#fff6b1 78.72%,#fff1aa 80.85%,#feeda4 82.98%,#feea9f 85.11%,#fee699 87.23%,#fee496 89.36%,#fee192 91.49%,#fede8e 93.62%,#feda8a 95.74%,#fed889 97.87%,#fed687 100.00%)"><u style="background:linear-gradient(90deg,#323896 0.00%,#323896 2.13%,#333b97 4.26%,#333b97 6.38%,#333b97 8.51%,#333d99 10.64%,#333d99 12.77%,#34409a 14.89%,#35429b 17.02%,#36459c 19.15%,#36479e 21.28%,#384ca0 23.40%,#394fa1 25.53%,#3a54a4 27.66%,#3c59a6 29.79%,#3e5ea8 31.91%,#4065ac 34.04%,#426cb0 36.17%,#4676b5 38.30%,#4d7fb9 40.43%,#5588be 42.55%,#5e93c3 44.68%,#69a0ca 46.81%,#74add1 48.94%,#81b7d7 51.06%,#8ec2dc 53.19%,#9dcee3 55.32%,#acdae9 57.45%,#bde2ee 59.57%,#cbe9f2 61.70%,#daf0f6 63.83%,#e4f4f1 65.96%,#ecf8e2 68.09%,#f3fbd4 70.21%,#fbfdc7 72.34%,#fffdbc 74.47%,#fff7b3 76.60%,#fff2ac 78.72%,#feeda4 80.85%,#fee99d 82.98%,#fee597 85.11%,#fee294 87.23%,#fede8e 89.36%,#feda8a 91.49%,#fed889 93.62%,#fed485 95.74%,#fed283 97.87%,#fed081 100.00%)"></u></b>
<b style="top:574px;height:14px;background:linear-gradient(90deg,#323896 0.00%,#323896 2.13%,#333b97 4.26%,#333b97 6.38%,#333b97 8.51%,#333d99 10.64%,#333d99 12.77%,#34409a 14.89%,#35429b 17.02%,#36459c 19.15%,#36479e 21.28%,#384ca0 23.40%,#394fa1 25.53%,#3a54a4 27.66%,#3c59a6 29.79%,#3e5ea8 31.91%,#4065ac 34.04%,#426cb0 36.17%,#4676b5 38.30%,#4d7fb9 40.43%,#5588be 42.55%,#5e93c3 44.68%,#69a0ca 46.81%,#74add1 48.94%,#81b7d7 51.06%,#8ec2dc 53.19%,#9dcee3 55.32%,#acdae9 57.45%,#bde2ee 59.57%,#cbe9f2 61.70%,#daf0f6 63.83%,#e4f4f1 65.96%,#ecf8e2 68.09%,#f3fbd4 70.21%,#fbfdc7 72.34%,#fffdbc 74.47%,#fff7b3 76.60%,#fff2ac 78.72%,#feeda4 80.85%,#fee99d 82.98%,#fee597 85.11%,#fee294 87.23%,#fede8e 89.36%,#feda8a 91.49%,#fed889 93.62%,#fed485 95.74%,#fed283 97.87%,#fed081 100.00%)"><u style="background:linear-gradient(90deg,#323896 0.00%,#323896 2.13%,#333b97 4.26%,#333b97 6.38%,#333d99 8.51%,#333d99 10.64%,#34409a 12.77%,#34409a 14.89%,#35429b 17.02%,#36459c 19.15%,#374a9f 21.28%,#384ca0 23.40%,#3a51a2 25.53%,#3b56a5 27.66%,#3d5ba7 29.79%,#3e60aa 31.91%,#4167ad 34.04%,#4471b2 36.17%,#4878b6 38.30%,#5183bb 40.43%,#588cc0 42.55%,#6297c6 44.68%,#6da4cc 46.81%,#78b0d3 48.94%,#85bbd9 51.06%,#94c7df 53.19%,#a3d3e6 55.32%,#b2ddeb 57.45%,#c3e5f0 59.57%,#d1ecf4 61.70%,#e0f3f8 63.83%,#e9f6e8 65.96%,#f1fad9 68.09%,#f8fccb 70.21%,#feffc0 72.34%,#fff8b5 74.47%,#fff3ad 76.60%,#feeda4 78.72%,#fee99d 80.85%,#fee597 82.98%,#fee192 85.11%,#fedc8c 87.23%,#fed889 89.36%,#fed485 91.49%,#fed081 93.62%,#fece7f 95.74%,#fecc7e 97.87%,#fec87a 100.00%)"></u></b>
<b style="top:588px;height:14px;background:linear-gradient(90deg,#323896 0.00%,#323896 2.13%,#333b97 4.26%,#333b97 6.38%,#333d99 8.51%,#333d99 10.64%,#34409a 12.77%,#34409a 14.89%,#35429b 17.02%,#36459c 19.15%,#374a9f 21.28%,#384ca0 23.40%,#3a51a2 25.53%,#3b56a5 27.66%,#3d5ba7 29.79%,#3e60aa 31.91%,#4167ad 34.04%,#4471b2 36.17%,#4878b6 38.30%,#5183bb 40.43%,#588cc0 42.55%,#6297c6 44.68%,#6da4cc 46.81%,#78b0d3 48.94%,#85bbd9 51.06%,#94c7df 53.19%,#a3d3e6 55.32%,#b2ddeb 57.45%,#c3e5f0 59.57%,#d1ecf4 61.70%,#e0f3f8 63.83%,#e9f6e8 65.96%,#f1fad9 68.09%,#f8fccb 70.21%,#feffc0 72.34%,#fff8b5 74.47%,#fff3ad 76.60%,#feeda4 78.72%,#fee99d 80.85%,#fee597 82.98%,#fee192 85.11%,#fedc8c 87.23%,#fed889 89.36%,#fed485 91.49%,#fed081 93.62%,#fece7f 95.74%,#fecc7e 97.87%,#fec87a 100.00%)"><u style="background:linear-gradient(90deg,#323896 0.00%,#323896 2.13%,#333b97 4.26%,#333b97 6.38%,#333d99 8.51%,#333d99 10.64%,#34409a 12.77%,#35429b 14.89%,#36459c 17.02%,#36479e 19.15%,#374a9f 21.28%,#394fa1 23.40%,#3a51a2 25.53%,#3b56a5 27.66%,#3e5ea8 29.79%,#3f62ab 31.91%,#416aaf 34.04%,#4574b3 36.17%,#4b7db8 38.30%,#5385bd 40.43%,#5c90c2 42.55%,#659bc8 44.68%,#70a9cf 46.81%,#7db4d5 48.94%,#8cc0db 51.06%,#9bcce2 53.19%,#aad8e9 55.32%,#bbe1ed 57.45%,#c9e8f2 59.57%,#d8eff6 61.70%,#e5f5ef 63.83%,#ecf8e2 65.96%,#f5fbd2 68.09%,#fcfec5 70.21%,#fffbb9 72.34%,#fff5af 74.47%,#feefa6 76.60%,#feea9f 78.72%,#fee597 80.85%,#fee192 82.98%,#fedc8c 85.11%,#fed687 87.23%,#fed283 89.36%,#fece7f 91.49%,#feca7c 93.62%,#fec87a 95.74%,#fdc576 97.87%,#fdc374 100.00%)"></u></b>
<b style="top:602px;height:14px;background:linear-gradient(90deg,#323896 0.00%,#323896 2.13%,#333b97 4.26%,#333b97 6.38%,#333d99 8.51%,#333d99 10.64%,#34409a 12.77%,#35429b 14.89%,#36459c 17.02%,#36479e 19.15%,#374a9f 21.28%,#394fa1 23.40%,#3a51a2 25.53%,#3b56a5 27.66%,#3e5ea8 29.79%,#3f62ab 31.91%,#416aaf 34.04%,#4574b3 36.17%,#4b7db8 38.30%,#5385bd 40.43%,#5c90c2 42.55%,#659bc8 44.68%,#70a9cf 46.81%,#7db4d5 48.94%,#8cc0db 51.06%,#9bcce2 53.19%,#aad8e9 55.32%,#bbe1ed 57.45%,#c9e8f2 59.57%,#d8eff6 61.70%,#e5f5ef 63.83%,#ecf8e2 65.96%,#f5fbd2 68.09%,#fcfec5 70.21%,#fffbb9 72.34%,#fff5af 74.47%,#feefa6 76.60%,#feea9f 78.72%,#fee597 80.85%,#fee192 82.98%,#fedc8c 85.11%,#fed687 87.23%,#fed283 89.36%,#fece7f 91.49%,#feca7c 93.62%,#fec87a 95.74%,#fdc576 97.87%,#fdc374 100.00%)"><u style="background:linear-gradient(90deg,#323896 0.00%,#333b97 2.13%,#333b97 4.26%,#333b97 6.38%,#333d99 8.51%,#333d99 10.64%,#34409a 12.77%,#35429b 14.89%,#36459c 17.02%,#36479e 19.15%,#384ca0 21.28%,#394fa1 23.40%,#3a54a4 25.53%,#3c59a6 27.66%,#3e60aa 29.79%,#4065ac 31.91%,#436fb1 34.04%,#4676b5 36.17%,#4d7fb9 38.30%,#578abf 40.43%,#6095c4 42.55%,#69a0ca 44.68%,#74add1 46.81%,#83b9d8 48.94%,#92c5de 51.06%,#a1d1e5 53.19%,#b0dcea 55.32%,#c1e4ef 57.45%,#cfebf3 59.57%,#e0f3f8 61.70%,#e9f6e8 63.83%,#f1fad9 65.96%,#fafdc9 68.09%,#fffdbc 70.21%,#fff7b3 72.34%,#fff0a8 74.47%,#feeba1 76.60%,#fee597 78.72%,#fee192 80.85%,#feda8a 82.98%,#fed485 85.11%,#fed081 87.23%,#fecc7e 89.36%,#fec87a 91.49%,#fdc576 93.62%,#fdc374 95.74%,#fdbf71 97.87%,#fdbd6f 100.00%)"></u></b>
<b style="top:616px;height:14px;background:linear-gradient(90deg,#323896 0.00%,#333b97 2.13%,#333b97 4.26%,#333b97 6.38%,#333d99 8.51%,#333d99 10.64%,#34409a 12.77%,#35429b 14.89%,#36459c 17.02%,#36479e 19.15%,#384ca0 21.28%,#394fa1 23.40%,#3a54a4 25.53%,#3c59a6 27.66%,#3e60aa 29.79%,#4065ac 31.91%,#436fb1 34.04%,#4676b5 36.17%,#4d7fb9 38.30%,#578abf 40.43%,#6095c4 42.55%,#69a0ca 44.68%,#74add1 46.81%,#83b9d8 48.94%,#92c5de 51.06%,#a1d1e5 53.19%,#b0dcea 55.32%,#c1e4ef 57.45%,#cfebf3 59.57%,#e0f3f8 61.70%,#e9f6e8 63.83%,#f1fad9 65.96%,#fafdc9 68.09%,#fffdbc 70.21%,#fff7b3 72.34%,#fff0a8 74.47%,#feeba1 76.60%,#fee597 78.72%,#fee192 80.85%,#feda8a 82.98%,#fed485 85.11%,#fed081 87.23%,#fecc7e 89.36%,#fec87a 91.49%,#fdc576 93.62%,#fdc374 95.74%,#fdbf71 97.87%,#fdbd6f 100.00%)"><u style="background:linear-gradient(90deg,#323896 0.00%,#333b97 2.13%,#333b97 4.26%,#333d99 6.38%,#333d99 8.51%,#34409a 10.64%,#34409a 12.77%,#35429b 14.89%,#36459c 17.02%,#374a9f 19.15%,#384ca0 21.28%,#3a51a2 23.40%,#3b56a5 25.53%,#3d5ba7 27.66%,#3e60aa 29.79%,#4167ad 31.91%,#4471b2 34.04%,#4a7ab7 36.17%,#5183bb 38.30%,#5a8ec1 40.43%,#6399c7 42.55%,#6ea6ce 44.68%,#7ab2d4 46.81%,#87bdd9 48.94%,#99cae1 51.06%,#a8d6e8 53.19%,#b6dfec 55.32%,#c7e7f1 57.45%,#d8eff6 59.57%,#e4f4f1 61.70%,#ecf8e2 63.83%,#f5fbd2 65.96%,#fdfec2 68.09%,#fffab7 70.21%,#fff2ac 72.34%,#feeca2 74.47%,#fee699 76.60%,#fee192 78.72%,#feda8a 80.85%,#fed485 82.98%,#fece7f 85.11%,#feca7c 87.23%,#fdc576 89.36%,#fdc374 91.49%,#fdbf71 93.62%,#fdbd6f 95.74%,#fdb96b 97.87%,#fdb769 100.00%)"></u></b>
<b style="top:630px;height:14px;background:linear-gradient(90deg,#323896 0.00%,#333b97 2.13%,#333b97 4.26%,#333d99 6.38%,#333d99 8.51%,#34409a 10.64%,#34409a 12.77%,#35429b 14.89%,#36459c 17.02%,#374a9f 19.15%,#384ca0 21.28%,#3a51a2 23.40%,#3b56a5 25.53%,#3d5ba7 27.66%,#3e60aa 29.79%,#4167ad 31.91%,#4471b2 34.04%,#4a7ab7 36.17%,#5183bb 38.30%,#5a8ec1 40.43%,#6399c7 42.55%,#6ea6ce 44.68%,#7ab2d4 46.81%,#87bdd9 48.94%,#99cae1 51.06%,#a8d6e8 53.19%,#b6dfec 55.32%,#c7e7f1 57.45%,#d8eff6 59.57%,#e4f4f1 61.70%,#ecf8e2 63.83%,#f5fbd2 65.96%,#fdfec2 68.09%,#fffab7 70.21%,#fff2ac 72.34%,#feeca2 74.47%,#fee699 76.60%,#fee192 78.72%,#feda8a 80.85%,#fed485 82.98%,#fece7f 85.11%,#feca7c 87.23%,#fdc576 89.36%,#fdc374 91.49%,#fdbf71 93.62%,#fdbd6f 95.74%,#fdb96b 97.87%,#fdb769 100.00%)"><u style="background:linear-gradient(90deg,#323896 0.00%,#333b97 2.13%,#333b97 4.26%,#333d99 6.38%,#333d99 8.51%,#34409a 10.64%,#35429b 12.77%,#36459c 14.89%,#36479e 17.02%,#374a9f 19.15%,#394fa1 21.28%,#3a51a2 23.40%,#3b56a5 25.53%,#3e5ea8 27.66%,#3f62ab 29.79%,#416aaf 31.91%,#4574b3 34.04%,#4b7db8 36.17%,#5385bd 38.30%,#5c90c2 40.43%,#679ec9 42.55%,#72abd0 44.68%,#7fb6d6 46.81%,#8ec2dc 48.94%,#9dcee3 51.06%,#aedbea 53.19%,#bfe3ef 55.32%,#cdeaf3 57.45%,#def2f7 59.57%,#e9f6e8 61.70%,#f1fad9 63.83%,#fafdc9 65.96%,#fffcba 68.09%,#fff5af 70.21%,#feefa6 72.34%,#fee99d 74.47%,#fee294 76.60%,#fedc8c 78.72%,#fed485 80.85%,#fece7f 82.98%,#fec87a 85.11%,#fdc576 87.23%,#fdbf71 89.36%,#fdbd6f 91.49%,#fdb96b 93.62%,#fdb769 95.74%,#fdb366 97.87%,#fdb164 100.00%)"></u></b>
<b style="top:644px;height:14px;background:linear-gradient(90deg,#323896 0.00%,#333b97 2.13%,#333b97 4.26%,#333d99 6.38%,#333d99 8.51%,#34409a 10.64%,#35429b 12.77%,#36459c 14.89%,#36479e 17.02%,#374a9f 19.15%,#394fa1 21.28%,#3a51a2 23.40%,#3b56a5 25.53%,#3e5ea8 27.66%,#3f62ab 29.79%,#416aaf 31.91%,#4574b3 34.04%,#4b7db8 36.17%,#5385bd 38.30%,#5c90c2 40.43%,#679ec9 42.55%,#72abd0 44.68%,#7fb6d6 46.81%,#8ec2dc 48.94%,#9dcee3 51.06%,#aedbea 53.19%,#bfe3ef 55.32%,#cdeaf3 57.45%,#def2f7 59.57%,#e9f6e8 61.70%,#f1fad9 63.83%,#fafdc9 65.96%,#fffcba 68.09%,#fff5af 70.21%,#feefa6 72.34%,#fee99d 74.47%,#fee294 76.60%,#fedc8c 78.72%,#fed485 80.85%,#fece7f 82.98%,#fec87a 85.11%,#fdc576 87.23%,#fdbf71 89.36%,#fdbd6f 91.49%,#fdb96b 93.62%,#fdb769 95.74%,#fdb366 97.87%,#fdb164 100.00%)"><u style="background:linear-gradient(90deg,#333b97 0.00%,#333b97 2.13%,#333b97 4.26%,#333d99 6.38%,#333d99 8.51%,#34409a 10.64%,#35429b 12.77%,#36459c 14.89%,#36479e 17.02%,#384ca0 19.15%,#394fa1 21.28%,#3a54a4 23.40%,#3c59a6 25.53%,#3e60aa 27.66%,#4065ac 29.79%,#436fb1 31.91%,#4676b5 34.04%,#4d7fb9 36.17%,#578abf 38.30%,#6095c4 40.43%,#6ba2cb 42.55%,#76afd2 44.68%,#85bbd9 46.81%,#94c7df 48.94%,#a3d3e6 51.06%,#b4deec 53.19%,#c5e6f0 55.32%,#d6eef5 57.45%,#e2f4f4 59.57%,#ecf8e2 61.70%,#f5fbd2 63.83%,#fdfec2 65.96%,#fff8b5 68.09%,#fff1aa 70.21%,#feea9f 72.34%,#fee496 74.47%,#fede8e 76.60%,#fed485 78.72%,#fece7f 80.85%,#fec87a 82.98%,#fdc374 85.11%,#fdbd6f 87.23%,#fdb96b 89.36%,#fdb769 91.49%,#fdb366 93.62%,#fdb164 95.74%,#fdaf62 97.87%,#fdad60 100.00%)"></u></b>
<b style="top:658px;height:14px;background:linear-gradient(90deg,#333b97 0.00%,#333b97 2.13%,#333b97 4.26%,#333d99 6.38%,#333d99 8.51%,#34409a 10.64%,#35429b 12.77%,#36459c 14.89%,#36479e 17.02%,#384ca0 19.15%,#394fa1 21.28%,#3a54a4 23.40%,#3c59a6 25.53%,#3e60aa 27.66%,#4065ac 29.79%,#436fb1 31.91%,#4676b5 34.04%,#4d7fb9 36.17%,#578abf 38.30%,#6095c4 40.43%,#6ba2cb 42.55%,#76afd2 44.68%,#85bbd9 46.81%,#94c7df 48.94%,#a3d3e6 51.06%,#b4deec 53.19%,#c5e6f0 55.32%,#d6eef5 57.45%,#e2f4f4 59.57%,#ecf8e2 61.70%,#f5fbd2 63.83%,#fdfec2 65.96%,#fff8b5 68.09%,#fff1aa 70.21%,#feea9f 72.34%,#fee496 74.47%,#fede8e 76.60%,#fed485 78.72%,#fece7f 80.85%,#fec87a 82.98%,#fdc374 85.11%,#fdbd6f 87.23%,#fdb96b 89.36%,#fdb769 91.49%,#fdb366 93.62%,#fdb164 95.74%,#fdaf62 97.87%,#fdad60 100.00%)"><u style="background:linear-gradient(90deg,#333b97 0.00%,#333b97 2.13%,#333d99 4.26%,#333d99 6.38%,#34409a 8.51%,#34409a 10.64%,#35429b 12.77%,#36459c 14.89%,#374a9f 17.02%,#384ca0 19.15%,#3a51a2 21.28%,#3b56a5 23.40%,#3d5ba7 25.53%,#3e60aa 27.66%,#4167ad 29.79%,#4471b2 31.91%,#4a7ab7 34.04%,#5183bb 36.17%,#5a8ec1 38.30%,#6399c7 40.43%,#6ea6ce 42.55%,#7ab2d4 44.68%,#8abeda 46.81%,#99cae1 48.94%,#aad8e9 51.06%,#bbe1ed 53.19%,#cbe9f2 55.32%,#dcf1f7 57.45%,#e7f6eb 59.57%,#f0f9db 61.70%,#fafdc9 63.83%,#fffcba 65.96%,#fff5af 68.09%,#feeca2 70.21%,#fee699 72.34%,#fee090 74.47%,#fed687 76.60%,#fece7f 78.72%,#fec87a 80.85%,#fdc374 82.98%,#fdbd6f 85.11%,#fdb769 87.23%,#fdb366 89.36%,#fdb164 91.49%,#fdad60 93.62%,#fcaa5f 95.74%,#fca85e 97.87%,#fca55d 100.00%)"></u></b>
<b style="top:672px;height:14px;background:linear-gradient(90deg,#333b97 0.00%,#333b97 2.13%,#333d99 4.26%,#333d99 6.38%,#34409a 8.51%,#34409a 10.64%,#35429b 12.77%,#36459c 14.89%,#374a9f 17.02%,#384ca0 19.15%,#3a51a2 21.28%,#3b56a5 23.40%,#3d5ba7 25.53%,#3e60aa 27.66%,#4167ad 29.79%,#4471b2 31.91%,#4a7ab7 34.04%,#5183bb 36.17%,#5a8ec1 38.30%,#6399c7 40.43%,#6ea6ce 42.55%,#7ab2d4 44.68%,#8abeda 46.81%,#99cae1 48.94%,#aad8e9 51.06%,#bbe1ed 53.19%,#cbe9f2 55.32%,#dcf1f7 57.45%,#e7f6eb 59.57%,#f0f9db 61.70%,#fafdc9 63.83%,#fffcba 65.96%,#fff5af 68.09%,#feeca2 70.21%,#fee699 72.34%,#fee090 74.47%,#fed687 76.60%,#fece7f 78.72%,#fec87a 80.85%,#fdc374 82.98%,#fdbd6f 85.11%,#fdb769 87.23%,#fdb366 89.36%,#fdb164 91.49%,#fdad60 93.62%,#fcaa5f 95.74%,#fca85e 97.87%,#fca55d 100.00%)"><u style="background:linear-gradient(90deg,#333b97 0.00%,#333b97 2.13%,#333d99 4.26%,#333d99 6.38%,#34409a 8.51%,#35429b 10.64%,#36459c 12.77%,#36479e 14.89%,#374a9f 17.02%,#394fa1 19.15%,#3a51a2 21.28%,#3b56a5 23.40%,#3e5ea8 25.53%,#3f62ab 27.66%,#416aaf 29.79%,#4574b3 31.91%,#4b7db8 34.04%,#5588be 36.17%,#5e93c3 38.30%,#679ec9 40.43%,#72abd0 42.55%,#81b7d7 44.68%,#90c3dd 46.81%,#9fd0e4 48.94%,#b0dcea 51.06%,#c1e4ef 53.19%,#d1ecf4 55.32%,#e1f3f6 57.45%,#ebf7e4 59.57%,#f5fbd2 61.70%,#fdfec2 63.83%,#fff8b5 65.96%,#fff0a8 68.09%,#fee99d 70.21%,#fee294 72.34%,#feda8a 74.47%,#fed081 76.60%,#fec87a 78.72%,#fdc374 80.85%,#fdbd6f 82.98%,#fdb769 85.11%,#fdb366 87.23%,#fdad60 89.36%,#fcaa5f 91.49%,#fca55d 93.62%,#fba35c 95.74%,#fba05b 97.87%,#fb9d59 100.00%)"></u></b>
<b style="top:686px;height:14px;background:linear-gradient(90deg,#333b97 0.00%,#333b97 2.13%,#333d99 4.26%,#333d99 6.38%,#34409a 8.51%,#35429b 10.64%,#36459c 12.77%,#36479e 14.89%,#374a9f 17.02%,#394fa1 19.15%,#3a51a2 21.28%,#3b56a5 23.40%,#3e5ea8 25.53%,#3f62ab 27.66%,#416aaf 29.79%,#4574b3 31.91%,#4b7db8 34.04%,#5588be 36.17%,#5e93c3 38.30%,#679ec9 40.43%,#72abd0 42.55%,#81b7d7 44.68%,#90c3dd 46.81%,#9fd0e4 48.94%,#b0dcea 51.06%,#c1e4ef 53.19%,#d1ecf4 55.32%,#e1f3f6 57.45%,#ebf7e4 59.57%,#f5fbd2 61.70%,#fdfec2 63.83%,#fff8b5 65.96%,#fff0a8 68.09%,#fee99d 70.21%,#fee294 72.34%,#feda8a 74.47%,#fed081 76.60%,#fec87a 78.72%,#fdc374 80.85%,#fdbd6f 82.98%,#fdb769 85.11%,#fdb366 87.23%,#fdad60 89.36%,#fcaa5f 91.49%,#fca55d 93.62%,#fba35c 95.74%,#fba05b 97.87%,#fb9d59 100.00%)"><u style="background:linear-gradient(90deg,#333b97 0.00%,#333b97 2.13%,#333d99 4.26%,#333d99 6.38%,#34409a 8.51%,#35429b 10.64%,#36459c 12.77%,#36479e 14.89%,#384ca0 17.02%,#394fa1 19.15%,#3a54a4 21.28%,#3c59a6 23.40%,#3e60aa 25.53%,#4065ac 27.66%,#436fb1 29.79%,#4676b5 31.91%,#4d7fb9 34.04%,#578abf 36.17%,#6095c4 38.30%,#6ba2cb 40.43%,#76afd2 42.55%,#85bbd9 44.68%,#94c7df 46.81%,#a6d5e7 48.94%,#b6dfec 51.06%,#c7e7f1 53.19%,#d8eff6 55.32%,#e6f5ed 57.45%,#f0f9db 59.57%,#f8fccb 61.70%,#fffcba 63.83%,#fff3ad 65.96%,#feeca2 68.09%,#fee597 70.21%,#fedc8c 72.34%,#fed283 74.47%,#feca7c 76.60%,#fdc374 78.72%,#fdbd6f 80.85%,#fdb769 82.98%,#fdb164 85.11%,#fdad60 87.23%,#fca85e 89.36%,#fba35c 91.49%,#fb9d59 93.62%,#fa9b58 95.74%,#fa9857 97.87%,#fa9656 100.00%)"></u></b>
<b style="top:700px;height:14px;background:linear-gradient(90deg,#333b97 0.00%,#333b97 2.13%,#333d99 4.26%,#333d99 6.38%,#34409a 8.51%,#35429b 10.64%,#36459c 12.77%,#36479e 14.89%,#384ca0 17.02%,#394fa1 19.15%,#3a54a4 21.28%,#3c59a6 23.40%,#3e60aa 25.53%,#4065ac 27.66%,#436fb1 29.79%,#4676b5 31.91%,#4d7fb9 34.04%,#578abf 36.17%,#6095c4 38.30%,#6ba2cb 40.43%,#76afd2 42.55%,#85bbd9 44.68%,#94c7df 46.81%,#a6d5e7 48.94%,#b6dfec 51.06%,#c7e7f1 53.19%,#d8eff6 55.32%,#e6f5ed 57.45%,#f0f9db 59.57%,#f8fccb 61.70%,#fffcba 63.83%,#fff3ad 65.96%,#feeca2 68.09%,#fee597 70.21%,#fedc8c 72.34%,#fed283 74.47%,#feca7c 76.60%,#fdc374 78.72%,#fdbd6f 80.85%,#fdb769 82.98%,#fdb164 85.11%,#fdad60 87.23%,#fca85e 89.36%,#fba35c 91.49%,#fb9d59 93.62%,#fa9b58 95.74%,#fa9857 97.87%,#fa9656 100.00%)"><u style="background:linear-gradient(90deg,#333b97 0.00%,#333b97 2.13%,#333d99 4.26%,#34409a 6.38%,#34409a 8.51%,#35429b 10.64%,#36459c 12.77%,#374a9f 14.89%,#384ca0 17.02%,#3a51a2 19.15%,#3b56a5 21.28%,#3d5ba7 23.40%,#3e60aa 25.53%,#4167ad 27.66%,#4471b2 29.79%,#4a7ab7 31.91%,#5183bb 34.04%,#5a8ec1 36.17%,#6399c7 38.30%,#6ea6ce 40.43%,#7db4d5 42.55%,#8cc0db 44.68%,#9bcce2 46.81%,#acdae9 48.94%,#bde2ee 51.06%,#cdeaf3 53.19%,#e0f3f8 55.32%,#eaf7e6 57.45%,#f3fbd4 59.57%,#fdfec2 61.70%,#fff8b5 63.83%,#fff0a8 65.96%,#fee79b 68.09%,#fee090 70.21%,#fed687 72.34%,#fecc7e 74.47%,#fdc576 76.60%,#fdbd6f 78.72%,#fdb769 80.85%,#fdb164 82.98%,#fcaa5f 85.11%,#fca55d 87.23%,#fba05b 89.36%,#fa9b58 91.49%,#fa9857 93.62%,#fa9656 95.74%,#f99153 97.87%,#f99153 100.00%)"></u></b>
<b style="top:714px;height:14px;background:linear-gradient(90deg,#333b97 0.00%,#333b97 2.13%,#333d99 4.26%,#34409a 6.38%,#34409a 8.51%,#35429b 10.64%,#36459c 12.77%,#374a9f 14.89%,#384ca0 17.02%,#3a51a2 19.15%,#3b56a5 21.28%,#3d5ba7 23.40%,#3e60aa 25.53%,#4167ad 27.66%,#4471b2 29.79%,#4a7ab7 31.91%,#5183bb 34.04%,#5a8ec1 36.17%,#6399c7 38.30%,#6ea6ce 40.43%,#7db4d5 42.55%,#8cc0db 44.68%,#9bcce2 46.81%,#acdae9 48.94%,#bde2ee 51.06%,#cdeaf3 53.19%,#e0f3f8 55.32%,#eaf7e6 57.45%,#f3fbd4 59.57%,#fdfec2 61.70%,#fff8b5 63.83%,#fff0a8 65.96%,#fee79b 68.09%,#fee090 70.21%,#fed687 72.34%,#fecc7e 74.47%,#fdc576 76.60%,#fdbd6f 78.72%,#fdb769 80.85%,#fdb164 82.98%,#fcaa5f 85.11%,#fca55d 87.23%,#fba05b 89.36%,#fa9b58 91.49%,#fa9857 93.62%,#fa9656 95.74%,#f99153 97.87%,#f99153 100.00%)"><u style="background:linear-gradient(90deg,#333b97 0.00%,#333d99 2.13%,#333d99 4.26%,#34409a 6.38%,#35429b 8.51%,#36459c 10.64%,#36479e 12.77%,#374a9f 14.89%,#384ca0 17.02%,#3a51a2 19.15%,#3b56a5 21.28%,#3e5ea8 23.40%,#3f62ab 25.53%,#416aaf 27.66%,#4574b3 29.79%,#4b7db8 31.91%,#5385bd 34.04%,#5e93c3 36.17%,#679ec9 38.30%,#72abd0 40.43%,#81b7d7 42.55%,#90c3dd 44.68%,#a1d1e5 46.81%,#b2ddeb 48.94%,#c3e5f0 51.06%,#d4edf4 53.19%,#e4f4f1 55.32%,#edf8df 57.45%,#f7fcce 59.57%,#fffdbc 61.70%,#fff3ad 63.83%,#feeba1 65.96%,#fee496 68.09%,#feda8a 70.21%,#fed081 72.34%,#fdc778 74.47%,#fdbf71 76.60%,#fdb769 78.72%,#fdb164 80.85%,#fcaa5f 82.98%,#fba35c 85.11%,#fb9d59 87.23%,#fa9857 89.36%,#f99355 91.49%,#f99153 93.62%,#f98e52 95.74%,#f88c51 97.87%,#f88950 100.00%)"></u></b>
<b style="top:728px;height:14px;background:linear-gradient(90deg,#333b97 0.00%,#333d99 2.13%,#333d99 4.26%,#34409a 6.38%,#35429b 8.51%,#36459c 10.64%,#36479e 12.77%,#374a9f 14.89%,#384ca0 17.02%,#3a51a2 19.15%,#3b56a5 21.28%,#3e5ea8 23.40%,#3f62ab 25.53%,#416aaf 27.66%,#4574b3 29.79%,#4b7db8 31.91%,#5385bd 34.04%,#5e93c3 36.17%,#679ec9 38.30%,#72abd0 40.43%,#81b7d7 42.55%,#90c3dd 44.68%,#a1d1e5 46.81%,#b2ddeb 48.94%,#c3e5f0 51.06%,#d4edf4 53.19%,#e4f4f1 55.32%,#edf8df 57.45%,#f7fcce 59.57%,#fffdbc 61.70%,#fff3ad 63.83%,#feeba1 65.96%,#fee496 68.09%,#feda8a 70.21%,#fed081 72.34%,#fdc778 74.47%,#fdbf71 76.60%,#fdb769 78.72%,#fdb164 80.85%,#fcaa5f 82.98%,#fba35c 85.11%,#fb9d59 87.23%,#fa9857 89.36%,#f99355 91.49%,#f99153 93.62%,#f98e52 95.74%,#f88c51 97.87%,#f88950 100.00%)"><u style="background:linear-gradient(90deg,#333b97 0.00%,#333d99 2.13%,#333d99 4.26%,#34409a 6.38%,#35429b 8.51%,#36459c 10.64%,#36479e 12.77%,#374a9f 14.89%,#394fa1 17.02%,#3a54a4 19.15%,#3c59a6 21.28%,#3e5ea8 23.40%,#4065ac 25.53%,#426cb0 27.66%,#4676b5 29.79%,#4d7fb9 31.91%,#578abf 34.04%,#6095c4 36.17%,#6ba2cb 38.30%,#78b0d3 40.43%,#85bbd9 42.55%,#97c9e0 44.68%,#a8d6e8 46.81%,#b9e0ed 48.94%,#c9e8f2 51.06%,#dcf1f7 53.19%,#e7f6eb 55.32%,#f2fad6 57.45%,#fcfec5 59.57%,#fff8b5 61.70%,#fff0a8 63.83%,#fee79b 65.96%,#fee090 68.09%,#fed485 70.21%,#feca7c 72.34%,#fdc173 74.47%,#fdb96b 76.60%,#fdb164 78.72%,#fcaa5f 80.85%,#fba35c 82.98%,#fa9b58 85.11%,#fa9656 87.23%,#f99153 89.36%,#f98e52 91.49%,#f88950 93.62%,#f8864f 95.74%,#f7844e 97.87%,#f7814c 100.00%)"></u></b>
<b style="top:742px;height:14px;background:linear-gradient(90deg,#333b97 0.00%,#333d99 2.13%,#333d99 4.26%,#34409a 6.38%,#35429b 8.51%,#36459c 10.64%,#36479e 12.77%,#374a9f 14.89%,#394fa1 17.02%,#3a54a4 19.15%,#3c59a6 21.28%,#3e5ea8 23.40%,#4065ac 25.53%,#426cb0 27.66%,#4676b5 29.79%,#4d7fb9 31.91%,#578abf 34.04%,#6095c4 36.17%,#6ba2cb 38.30%,#78b0d3 40.43%,#85bbd9 42.55%,#97c9e0 44.68%,#a8d6e8 46.81%,#b9e0ed 48.94%,#c9e8f2 51.06%,#dcf1f7 53.19%,#e7f6eb 55.32%,#f2fad6 57.45%,#fcfec5 59.57%,#fff8b5 61.70%,#fff0a8 63.83%,#fee79b 65.96%,#fee090 68.09%,#fed485 70.21%,#feca7c 72.34%,#fdc173 74.47%,#fdb96b 76.60%,#fdb164 78.72%,#fcaa5f 80.85%,#fba35c 82.98%,#fa9b58 85.11%,#fa9656 87.23%,#f99153 89.36%,#f98e52 91.49%,#f88950 93.62%,#f8864f 95.74%,#f7844e 97.87%,#f7814c 100.00%)"><u style="background:linear-gradient(90deg,#333b97 0.00%,#333d99 2.13%,#34409a 4.26%,#34409a 6.38%,#35429b 8.51%,#36459c 10.64%,#36479e 12.77%,#384ca0 14.89%,#3a51a2 17.02%,#3a54a4 19.15%,#3d5ba7 21.28%,#3e60aa 23.40%,#4167ad 25.53%,#4471b2 27.66%,#4878b6 29.79%,#5183bb 31.91%,#5a8ec1 34.04%,#6399c7 36.17%,#6ea6ce 38.30%,#7db4d5 40.43%,#8cc0db 42.55%,#9bcce2 44.68%,#acdae9 46.81%,#bfe3ef 48.94%,#cfebf3 51.06%,#e1f3f6 53.19%,#ecf8e2 55.32%,#f6fbd0 57.45%,#fffebe 59.57%,#fff5af 61.70%,#feeca2 63.83%,#fee496 65.96%,#fed889 68.09%,#fece7f 70.21%,#fdc374 72.34%,#fdbb6d 74.47%,#fdb366 76.60%,#fcaa5f 78.72%,#fba35c 80.85%,#fa9b58 82.98%,#fa9656 85.11%,#f98e52 87.23%,#f88c51 89.36%,#f8864f 91.49%,#f7844e 93.62%,#f7814c 95.74%,#f67f4b 97.87%,#f67c4a 100.00%)"></u></b>
<b style="top:756px;height:14px;background:linear-gradient(90deg,#333b97 0.00%,#333d99 2.13%,#34409a 4.26%,#34409a 6.38%,#35429b 8.51%,#36459c 10.64%,#36479e 12.77%,#384ca0 14.89%,#3a51a2 17.02%,#3a54a4 19.15%,#3d5ba7 21.28%,#3e60aa 23.40%,#4167ad 25.53%,#4471b2 27.66%,#4878b6 29.79%,#5183bb 31.91%,#5a8ec1 34.04%,#6399c7 36.17%,#6ea6ce 38.30%,#7db4d5 40.43%,#8cc0db 42.55%,#9bcce2 44.68%,#acdae9 46.81%,#bfe3ef 48.94%,#cfebf3 51.06%,#e1f3f6 53.19%,#ecf8e2 55.32%,#f6fbd0 57.45%,#fffebe 59.57%,#fff5af 61.70%,#feeca2 63.83%,#fee496 65.96%,#fed889 68.09%,#fece7f 70.21%,#fdc374 72.34%,#fdbb6d 74.47%,#fdb366 76.60%,#fcaa5f 78.72%,#fba35c 80.85%,#fa9b58 82.98%,#fa9656 85.11%,#f98e52 87.23%,#f88c51 89.36%,#f8864f 91.49%,#f7844e 93.62%,#f7814c 95.74%,#f67f4b 97.87%,#f67c4a 100.00%)"><u style="background:linear-gradient(90deg,#333d99 0.00%,#333d99 2.13%,#34409a 4.26%,#35429b 6.38%,#36459c 8.51%,#36479e 10.64%,#374a9f 12.77%,#384ca0 14.89%,#3a51a2 17.02%,#3b56a5 19.15%,#3d5ba7 21.28%,#3f62ab 23.40%,#416aaf 25.53%,#4574b3 27.66%,#4b7db8 29.79%,#5385bd 31.91%,#5c90c2 34.04%,#679ec9 36.17%,#72abd0 38.30%,#81b7d7 40.43%,#90c3dd 42.55%,#a1d1e5 44.68%,#b2ddeb 46.81%,#c5e6f0 48.94%,#d6eef5 51.06%,#e5f5ef 53.19%,#f0f9db 55.32%,#fafdc9 57.45%,#fffab7 59.57%,#fff1aa 61.70%,#fee79b 63.83%,#fede8e 65.96%,#fed283 68.09%,#fdc778 70.21%,#fdbd6f 72.34%,#fdb567 74.47%,#fdad60 76.60%,#fba35c 78.72%,#fa9b58 80.85%,#f99355 82.98%,#f98e52 85.11%,#f88950 87.23%,#f7844e 89.36%,#f7814c 91.49%,#f67c4a 93.62%,#f67a49 95.74%,#f57748 97.87%,#f57547 100.00%)"></u></b>
<b style="top:770px;height:14px;background:linear-gradient(90deg,#333d99 0.00%,#333d99 2.13%,#34409a 4.26%,#35429b 6.38%,#36459c 8.51%,#36479e 10.64%,#374a9f 12.77%,#384ca0 14.89%,#3a51a2 17.02%,#3b56a5 19.15%,#3d5ba7 21.28%,#3f62ab 23.40%,#416aaf 25.53%,#4574b3 27.66%,#4b7db8 29.79%,#5385bd 31.91%,#5c90c2 34.04%,#679ec9 36.17%,#72abd0 38.30%,#81b7d7 40.43%,#90c3dd 42.55%,#a1d1e5 44.68%,#b2ddeb 46.81%,#c5e6f0 48.94%,#d6eef5 51.06%,#e5f5ef 53.19%,#f0f9db 55.32%,#fafdc9 57.45%,#fffab7 59.57%,#fff1aa 61.70%,#fee79b 63.83%,#fede8e 65.96%,#fed283 68.09%,#fdc778 70.21%,#fdbd6f 72.34%,#fdb567 74.47%,#fdad60 76.60%,#fba35c 78.72%,#fa9b58 80.85%,#f99355 82.98%,#f98e52 85.11%,#f88950 87.23%,#f7844e 89.36%,#f7814c 91.49%,#f67c4a 93.62%,#f67a49 95.74%,#f57748 97.87%,#f57547 100.00%)"><u style="background:linear-gradient(90deg,#333d99 0.00%,#333d99 2.13%,#34409a 4.26%,#35429b 6.38%,#36459c 8.51%,#36479e 10.64%,#374a9f 12.77%,#394fa1 14.89%,#3a54a4 17.02%,#3c59a6 19.15%,#3e5ea8 21.28%,#4065ac 23.40%,#426cb0 25.53%,#4676b5 27.66%,#4d7fb9 29.79%,#578abf 31.91%,#6095c4 34.04%,#6ba2cb 36.17%,#76afd2 38.30%,#85bbd9 40.43%,#97c9e0 42.55%,#a8d6e8 44.68%,#b9e0ed 46.81%,#cbe9f2 48.94%,#def2f7 51.06%,#e9f6e8 53.19%,#f3fbd4 55.32%,#feffc0 57.45%,#fff6b1 59.57%,#feeca2 61.70%,#fee496 63.83%,#fed889 65.96%,#fecc7e 68.09%,#fdc173 70.21%,#fdb769 72.34%,#fdaf62 74.47%,#fca55d 76.60%,#fa9b58 78.72%,#f99355 80.85%,#f98e52 82.98%,#f8864f 85.11%,#f7814c 87.23%,#f67f4b 89.36%,#f67a49 91.49%,#f57748 93.62%,#f57547 95.74%,#f57245 97.87%,#f47044 100.00%)"></u></b>
<b style="top:784px;height:14px;background:linear-gradient(90deg,#333d99 0.00%,#333d99 2.13%,#34409a 4.26%,#35429b 6.38%,#36459c 8.51%,#36479e 10.64%,#374a9f 12.77%,#394fa1 14.89%,#3a54a4 17.02%,#3c59a6 19.15%,#3e5ea8 21.28%,#4065ac 23.40%,#426cb0 25.53%,#4676b5 27.66%,#4d7fb9 29.79%,#578abf 31.91%,#6095c4 34.04%,#6ba2cb 36.17%,#76afd2 38.30%,#85bbd9 40.43%,#97c9e0 42.55%,#a8d6e8 44.68%,#b9e0ed 46.81%,#cbe9f2 48.94%,#def2f7 51.06%,#e9f6e8 53.19%,#f3fbd4 55.32%,#feffc0 57.45%,#fff6b1 59.57%,#feeca2 61.70%,#fee496 63.83%,#fed889 65.96%,#fecc7e 68.09%,#fdc173 70.21%,#fdb769 72.34%,#fdaf62 74.47%,#fca55d 76.60%,#fa9b58 78.72%,#f99355 80.85%,#f98e52 82.98%,#f8864f 85.11%,#f7814c 87.23%,#f67f4b 89.36%,#f67a49 91.49%,#f57748 93.62%,#f57547 95.74%,#f57245 97.87%,#f47044 100.00%)"><u style="background:linear-gradient(90deg,#333d99 0.00%,#34409a 2.13%,#34409a 4.26%,#35429b 6.38%,#36459c 8.51%,#36479e 10.64%,#384ca0 12.77%,#394fa1 14.89%,#3a54a4 17.02%,#3c59a6 19.15%,#3e60aa 21.28%,#4167ad 23.40%,#436fb1 25.53%,#4878b6 27.66%,#5183bb 29.79%,#588cc0 31.91%,#6399c7 34.04%,#6ea6ce 36.17%,#7db4d5 38.30%,#8cc0db 40.43%,#9bcce2 42.55%,#aedbea 44.68%,#bfe3ef 46.81%,#d1ecf4 48.94%,#e2f4f4 51.06%,#edf8df 53.19%,#f8fccb 55.32%,#fffcba 57.45%,#fff2ac 59.57%,#fee99d 61.70%,#fee090 63.83%,#fed283 65.96%,#fdc778 68.09%,#fdbb6d 70.21%,#fdb164 72.34%,#fca85e 74.47%,#fb9d59 76.60%,#f99355 78.72%,#f98e52 80.85%,#f8864f 82.98%,#f7814c 85.11%,#f67c4a 87.23%,#f57748 89.36%,#f57547 91.49%,#f47044 93.62%,#f46d43 95.74%,#f36b42 97.87%,#f36b42 100.00%)"></u></b>
<b style="top:798px;height:14px;background:linear-gradient(90deg,#333d99 0.00%,#34409a 2.13%,#34409a 4.26%,#35429b 6.38%,#36459c 8.51%,#36479e 10.64%,#384ca0 12.77%,#394fa1 14.89%,#3a54a4 17.02%,#3c59a6 19.15%,#3e60aa 21.28%,#4167ad 23.40%,#436fb1 25.53%,#4878b6 27.66%,#5183bb 29.79%,#588cc0 31.91%,#6399c7 34.04%,#6ea6ce 36.17%,#7db4d5 38.30%,#8cc0db 40.43%,#9bcce2 42.55%,#aedbea 44.68%,#bfe3ef 46.81%,#d1ecf4 48.94%,#e2f4f4 51.06%,#edf8df 53.19%,#f8fccb 55.32%,#fffcba 57.45%,#fff2ac 59.57%,#fee99d 61.70%,#fee090 63.83%,#fed283 65.96%,#fdc778 68.09%,#fdbb6d 70.21%,#fdb164 72.34%,#fca85e 74.47%,#fb9d59 76.60%,#f99355 78.72%,#f98e52 80.85%,#f8864f 82.98%,#f7814c 85.11%,#f67c4a 87.23%,#f57748 89.36%,#f57547 91.49%,#f47044 93.62%,#f46d43 95.74%,#f36b42 97.87%,#f36b42 100.00%)"><u style="background:linear-gradient(90deg,#333d99 0.00%,#34409a 2.13%,#35429b 4.26%,#35429b 6.38%,#36479e 8.51%,#374a9f 10.64%,#384ca0 12.77%,#3a51a2 14.89%,#3b56a5 17.02%,#3d5ba7 19.15%,#3f62ab 21.28%,#416aaf 23.40%,#4471b2 25.53%,#4a7ab7 27.66%,#5385bd 29.79%,#5c90c2 31.91%,#679ec9 34.04%,#72abd0 36.17%,#81b7d7 38.30%,#90c3dd 40.43%,#a1d1e5 42.55%,#b2ddeb 44.68%,#c5e6f0 46.81%,#d8eff6 48.94%,#e6f5ed 51.06%,#f1fad9 53.19%,#fcfec5 55.32%,#fff8b5 57.45%,#feeda4 59.57%,#fee597 61.70%,#fed889 63.83%,#fecc7e 65.96%,#fdc173 68.09%,#fdb567 70.21%,#fcaa5f 72.34%,#fba05b 74.47%,#fa9656 76.60%,#f98e52 78.72%,#f8864f 80.85%,#f67f4b 82.98%,#f67a49 85.11%,#f57547 87.23%,#f57245 89.36%,#f46d43 91.49%,#f36b42 93.62%,#f26841 95.74%,#f16640 97.87%,#ef633f 100.00%)"></u></b>
<b style="top:812px;height:14px;background:linear-gradient(90deg,#333d99 0.00%,#34409a 2.13%,#35429b 4.26%,#35429b 6.38%,#36479e 8.51%,#374a9f 10.64%,#384ca0 12.77%,#3a51a2 14.89%,#3b56a5 17.02%,#3d5ba7 19.15%,#3f62ab 21.28%,#416aaf 23.40%,#4471b2 25.53%,#4a7ab7 27.66%,#5385bd 29.79%,#5c90c2 31.91%,#679ec9 34.04%,#72abd0 36.17%,#81b7d7 38.30%,#90c3dd 40.43%,#a1d1e5 42.55%,#b2ddeb 44.68%,#c5e6f0 46.81%,#d8eff6 48.94%,#e6f5ed 51.06%,#f1fad9 53.19%,#fcfec5 55.32%,#fff8b5 57.45%,#feeda4 59.57%,#fee597 61.70%,#fed889 63.83%,#fecc7e 65.96%,#fdc173 68.09%,#fdb567 70.21%,#fcaa5f 72.34%,#fba05b 74.47%,#fa9656 76.60%,#f98e52 78.72%,#f8864f 80.85%,#f67f4b 82.98%,#f67a49 85.11%,#f57547 87.23%,#f57245 89.36%,#f46d43 91.49%,#f36b42 93.62%,#f26841 95.74%,#f16640 97.87%,#ef633f 100.00%)"><u style="background:linear-gradient(90deg,#333d99 0.00%,#34409a 2.13%,#35429b 4.26%,#36459c 6.38%,#36479e 8.51%,#374a9f 10.64%,#394fa1 12.77%,#3a51a2 14.89%,#3c59a6 17.02%,#3e5ea8 19.15%,#4065ac 21.28%,#426cb0 23.40%,#4676b5 25.53%,#4d7fb9 27.66%,#578abf 29.79%,#6095c4 31.91%,#6ba2cb 34.04%,#76afd2 36.17%,#85bbd9 38.30%,#97c9e0 40.43%,#a8d6e8 42.55%,#b9e0ed 44.68%,#cbe9f2 46.81%,#def2f7 48.94%,#eaf7e6 51.06%,#f5fbd2 53.19%,#fffebe 55.32%,#fff3ad 57.45%,#feea9f 59.57%,#fee090 61.70%,#fed283 63.83%,#fdc778 65.96%,#fdbb6d 68.09%,#fdaf62 70.21%,#fba35c 72.34%,#fa9857 74.47%,#f98e52 76.60%,#f8864f 78.72%,#f67f4b 80.85%,#f67a49 82.98%,#f57547 85.11%,#f47044 87.23%,#f36b42 89.36%,#f26841 91.49%,#f16640 93.62%,#ef633f 95.74%,#ee613e 97.87%,#ed5f3c 100.00%)"></u></b>
<b style="top:826px;height:14px;background:linear-gradient(90deg,#333d99 0.00%,#34409a 2.13%,#35429b 4.26%,#36459c 6.38%,#36479e 8.51%,#374a9f 10.64%,#394fa1 12.77%,#3a51a2 14.89%,#3c59a6 17.02%,#3e5ea8 19.15%,#4065ac 21.28%,#426cb0 23.40%,#4676b5 25.53%,#4d7fb9 27.66%,#578abf 29.79%,#6095c4 31.91%,#6ba2cb 34.04%,#76afd2 36.17%,#85bbd9 38.30%,#97c9e0 40.43%,#a8d6e8 42.55%,#b9e0ed 44.68%,#cbe9f2 46.81%,#def2f7 48.94%,#eaf7e6 51.06%,#f5fbd2 53.19%,#fffebe 55.32%,#fff3ad 57.45%,#feea9f 59.57%,#fee090 61.70%,#fed283 63.83%,#fdc778 65.96%,#fdbb6d 68.09%,#fdaf62 70.21%,#fba35c 72.34%,#fa9857 74.47%,#f98e52 76.60%,#f8864f 78.72%,#f67f4b 80.85%,#f67a49 82.98%,#f57547 85.11%,#f47044 87.23%,#f36b42 89.36%,#f26841 91.49%,#f16640 93.62%,#ef633f 95.74%,#ee613e 97.87%,#ed5f3c 100.00%)"><u style="background:linear-gradient(90deg,#333d99 0.00%,#34409a 2.13%,#35429b 4.26%,#36459c 6.38%,#36479e 8.51%,#384ca0 10.64%,#394fa1 12.77%,#3a54a4 14.89%,#3c59a6 17.02%,#3e60aa 19.15%,#4167ad 21.28%,#436fb1 23.40%,#4878b6 25.53%,#4f81ba 27.66%,#588cc0 29.79%,#6399c7 31.91%,#6ea6ce 34.04%,#7ab2d4 36.17%,#8abeda 38.30%,#9bcce2 40.43%,#aedbea 42.55%,#bfe3ef 44.68%,#d1ecf4 46.81%,#e2f4f4 48.94%,#eff9dd 51.06%,#fafdc9 53.19%,#fffab7 55.32%,#fff0a8 57.45%,#fee699 59.57%,#feda8a 61.70%,#fecc7e 63.83%,#fdc173 65.96%,#fdb567 68.09%,#fca85e 70.21%,#fb9d59 72.34%,#f99153 74.47%,#f88950 76.60%,#f7814c 78.72%,#f67a49 80.85%,#f57245 82.98%,#f46d43 85.11%,#f26841 87.23%,#f16640 89.36%,#ef633f 91.49%,#ed5f3c 93.62%,#ed5f3c 95.74%,#ec5c3b 97.87%,#eb5a3a 100.00%)"></u></b>
<b style="top:840px;height:14px;background:linear-gradient(90deg,#333d99 0.00%,#34409a 2.13%,#35429b 4.26%,#36459c 6.38%,#36479e 8.51%,#384ca0 10.64%,#394fa1 12.77%,#3a54a4 14.89%,#3c59a6 17.02%,#3e60aa 19.15%,#4167ad 21.28%,#436fb1 23.40%,#4878b6 25.53%,#4f81ba 27.66%,#588cc0 29.79%,#6399c7 31.91%,#6ea6ce 34.04%,#7ab2d4 36.17%,#8abeda 38.30%,#9bcce2 40.43%,#aedbea 42.55%,#bfe3ef 44.68%,#d1ecf4 46.81%,#e2f4f4 48.94%,#eff9dd 51.06%,#fafdc9 53.19%,#fffab7 55.32%,#fff0a8 57.45%,#fee699 59.57%,#feda8a 61.70%,#fecc7e 63.83%,#fdc173 65.96%,#fdb567 68.09%,#fca85e 70.21%,#fb9d59 72.34%,#f99153 74.47%,#f88950 76.60%,#f7814c 78.72%,#f67a49 80.85%,#f57245 82.98%,#f46d43 85.11%,#f26841 87.23%,#f16640 89.36%,#ef633f 91.49%,#ed5f3c 93.62%,#ed5f3c 95.74%,#ec5c3b 97.87%,#eb5a3a 100.00%)"><u style="background:linear-gradient(90deg,#34409a 0.00%,#34409a 2.13%,#35429b 4.26%,#36459c 6.38%,#374a9f 8.51%,#384ca0 10.64%,#3a51a2 12.77%,#3b56a5 14.89%,#3d5ba7 17.02%,#3f62ab 19.15%,#416aaf 21.28%,#4471b2 23.40%,#4a7ab7 25.53%,#5385bd 27.66%,#5c90c2 29.79%,#659bc8 31.91%,#72abd0 34.04%,#7fb6d6 36.17%,#90c3dd 38.30%,#a1d1e5 40.43%,#b2ddeb 42.55%,#c5e6f0 44.68%,#d8eff6 46.81%,#e7f6eb 48.94%,#f2fad6 51.06%,#fdfec2 53.19%,#fff6b1 55.32%,#feeca2 57.45%,#fee192 59.57%,#fed485 61.70%,#fdc778 63.83%,#fdb96b 65.96%,#fdaf62 68.09%,#fba05b 70.21%,#fa9656 72.34%,#f88c51 74.47%,#f7814c 76.60%,#f67a49 78.72%,#f57245 80.85%,#f46d43 82.98%,#f26841 85.11%,#ef633f 87.23%,#ee613e 89.36%,#ec5c3b 91.49%,#eb5a3a 93.62%,#ea5739 95.74%,#ea5739 97.87%,#e95538 100.00%)"></u></b>
<b style="top:854px;height:14px;background:linear-gradient(90deg,#34409a 0.00%,#34409a 2.13%,#35429b 4.26%,#36459c 6.38%,#374a9f 8.51%,#384ca0 10.64%,#3a51a2 12.77%,#3b56a5 14.89%,#3d5ba7 17.02%,#3f62ab 19.15%,#416aaf 21.28%,#4471b2 23.40%,#4a7ab7 25.53%,#5385bd 27.66%,#5c90c2 29.79%,#659bc8 31.91%,#72abd0 34.04%,#7fb6d6 36.17%,#90c3dd 38.30%,#a1d1e5 40.43%,#b2ddeb 42.55%,#c5e6f0 44.68%,#d8eff6 46.81%,#e7f6eb 48.94%,#f2fad6 51.06%,#fdfec2 53.19%,#fff6b1 55.32%,#feeca2 57.45%,#fee192 59.57%,#fed485 61.70%,#fdc778 63.83%,#fdb96b 65.96%,#fdaf62 68.09%,#fba05b 70.21%,#fa9656 72.34%,#f88c51 74.47%,#f7814c 76.60%,#f67a49 78.72%,#f57245 80.85%,#f46d43 82.98%,#f26841 85.11%,#ef633f 87.23%,#ee613e 89.36%,#ec5c3b 91.49%,#eb5a3a 93.62%,#ea5739 95.74%,#ea5739 97.87%,#e95538 100.00%)"><u style="background:linear-gradient(90deg,#34409a 0.00%,#35429b 2.13%,#36459c 4.26%,#36479e 6.38%,#374a9f 8.51%,#394fa1 10.64%,#3a51a2 12.77%,#3b56a5 14.89%,#3e5ea8 17.02%,#3f62ab 19.15%,#426cb0 21.28%,#4574b3 23.40%,#4b7db8 25.53%,#5588be 27.66%,#5e93c3 29.79%,#69a0ca 31.91%,#76afd2 34.04%,#85bbd9 36.17%,#94c7df 38.30%,#a8d6e8 40.43%,#b9e0ed 42.55%,#cbe9f2 44.68%,#def2f7 46.81%,#ebf7e4 48.94%,#f6fbd0 51.06%,#fffdbc 53.19%,#fff2ac 55.32%,#fee79b 57.45%,#fedc8c 59.57%,#fece7f 61.70%,#fdc173 63.83%,#fdb366 65.96%,#fca85e 68.09%,#fa9b58 70.21%,#f98e52 72.34%,#f7844e 74.47%,#f67c4a 76.60%,#f57547 78.72%,#f46d43 80.85%,#f26841 82.98%,#ef633f 85.11%,#ed5f3c 87.23%,#eb5a3a 89.36%,#ea5739 91.49%,#e95538 93.62%,#e75337 95.74%,#e65036 97.87%,#e65036 100.00%)"></u></b>
<b style="top:868px;height:14px;background:linear-gradient(90deg,#34409a 0.00%,#35429b 2.13%,#36459c 4.26%,#36479e 6.38%,#374a9f 8.51%,#394fa1 10.64%,#3a51a2 12.77%,#3b56a5 14.89%,#3e5ea8 17.02%,#3f62ab 19.15%,#426cb0 21.28%,#4574b3 23.40%,#4b7db8 25.53%,#5588be 27.66%,#5e93c3 29.79%,#69a0ca 31.91%,#76afd2 34.04%,#85bbd9 36.17%,#94c7df 38.30%,#a8d6e8 40.43%,#b9e0ed 42.55%,#cbe9f2 44.68%,#def2f7 46.81%,#ebf7e4 48.94%,#f6fbd0 51.06%,#fffdbc 53.19%,#fff2ac 55.32%,#fee79b 57.45%,#fedc8c 59.57%,#fece7f 61.70%,#fdc173 63.83%,#fdb366 65.96%,#fca85e 68.09%,#fa9b58 70.21%,#f98e52 72.34%,#f7844e 74.47%,#f67c4a 76.60%,#f57547 78.72%,#f46d43 80.85%,#f26841 82.98%,#ef633f 85.11%,#ed5f3c 87.23%,#eb5a3a 89.36%,#ea5739 91.49%,#e95538 93.62%,#e75337 95.74%,#e65036 97.87%,#e65036 100.00%)"><u style="background:linear-gradient(90deg,#34409a 0.00%,#35429b 2.13%,#36459c 4.26%,#36479e 6.38%,#374a9f 8.51%,#394fa1 10.64%,#3a54a4 12.77%,#3c59a6 14.89%,#3e5ea8 17.02%,#4065ac 19.15%,#436fb1 21.28%,#4676b5 23.40%,#4f81ba 25.53%,#588cc0 27.66%,#6297c6 29.79%,#6da4cc 31.91%,#7ab2d4 34.04%,#8abeda 36.17%,#9bcce2 38.30%,#acdae9 40.43%,#bfe3ef 42.55%,#d1ecf4 44.68%,#e2f4f4 46.81%,#eff9dd 48.94%,#fafdc9 51.06%,#fff8b5 53.19%,#feefa6 55.32%,#fee496 57.45%,#fed687 59.57%,#fec87a 61.70%,#fdbb6d 63.83%,#fdaf62 65.96%,#fba05b 68.09%,#f99355 70.21%,#f8864f 72.34%,#f67f4b 74.47%,#f57547 76.60%,#f46d43 78.72%,#f26841 80.85%,#ee613e 82.98%,#ec5c3b 85.11%,#eb5a3a 87.23%,#e95538 89.36%,#e75337 91.49%,#e65036 93.62%,#e54e35 95.74%,#e44c34 97.87%,#e44c34 100.00%)"></u></b>
<b style="top:882px;height:14px;background:linear-gradient(90deg,#34409a 0.00%,#35429b 2.13%,#36459c 4.26%,#36479e 6.38%,#374a9f 8.51%,#394fa1 10.64%,#3a54a4 12.77%,#3c59a6 14.89%,#3e5ea8 17.02%,#4065ac 19.15%,#436fb1 21.28%,#4676b5 23.40%,#4f81ba 25.53%,#588cc0 27.66%,#6297c6 29.79%,#6da4cc 31.91%,#7ab2d4 34.04%,#8abeda 36.17%,#9bcce2 38.30%,#acdae9 40.43%,#bfe3ef 42.55%,#d1ecf4 44.68%,#e2f4f4 46.81%,#eff9dd 48.94%,#fafdc9 51.06%,#fff8b5 53.19%,#feefa6 55.32%,#fee496 57.45%,#fed687 59.57%,#fec87a 61.70%,#fdbb6d 63.83%,#fdaf62 65.96%,#fba05b 68.09%,#f99355 70.21%,#f8864f 72.34%,#f67f4b 74.47%,#f57547 76.60%,#f46d43 78.72%,#f26841 80.85%,#ee613e 82.98%,#ec5c3b 85.11%,#eb5a3a 87.23%,#e95538 89.36%,#e75337 91.49%,#e65036 93.62%,#e54e35 95.74%,#e44c34 97.87%,#e44c34 100.00%)"><u style="background:linear-gradient(90deg,#34409a 0.00%,#35429b 2.13%,#36459c 4.26%,#36479e 6.38%,#384ca0 8.51%,#3a51a2 10.64%,#3a54a4 12.77%,#3d5ba7 14.89%,#3e60aa 17.02%,#4167ad 19.15%,#4471b2 21.28%,#4a7ab7 23.40%,#5183bb 25.53%,#5a8ec1 27.66%,#659bc8 29.79%,#70a9cf 31.91%,#7fb6d6 34.04%,#8ec2dc 36.17%,#9fd0e4 38.30%,#b2ddeb 40.43%,#c5e6f0 42.55%,#d8eff6 44.68%,#e7f6eb 46.81%,#f2fad6 48.94%,#feffc0 51.06%,#fff5af 53.19%,#feea9f 55.32%,#fee090 57.45%,#fed081 59.57%,#fdc374 61.70%,#fdb567 63.83%,#fca85e 65.96%,#fa9857 68.09%,#f88c51 70.21%,#f7814c 72.34%,#f57748 74.47%,#f47044 76.60%,#f26841 78.72%,#ee613e 80.85%,#ec5c3b 82.98%,#ea5739 85.11%,#e95538 87.23%,#e65036 89.36%,#e54e35 91.49%,#e44c34 93.62%,#e34933 95.74%,#e24731 97.87%,#e24731 100.00%)"></u></b>
<b style="top:896px;height:14px;background:linear-gradient(90deg,#34409a 0.00%,#35429b 2.13%,#36459c 4.26%,#36479e 6.38%,#384ca0 8.51%,#3a51a2 10.64%,#3a54a4 12.77%,#3d5ba7 14.89%,#3e60aa 17.02%,#4167ad 19.15%,#4471b2 21.28%,#4a7ab7 23.40%,#5183bb 25.53%,#5a8ec1 27.66%,#659bc8 29.79%,#70a9cf 31.91%,#7fb6d6 34.04%,#8ec2dc 36.17%,#9fd0e4 38.30%,#b2ddeb 40.43%,#c5e6f0 42.55%,#d8eff6 44.68%,#e7f6eb 46.81%,#f2fad6 48.94%,#feffc0 51.06%,#fff5af 53.19%,#feea9f 55.32%,#fee090 57.45%,#fed081 59.57%,#fdc374 61.70%,#fdb567 63.83%,#fca85e 65.96%,#fa9857 68.09%,#f88c51 70.21%,#f7814c 72.34%,#f57748 74.47%,#f47044 76.60%,#f26841 78.72%,#ee613e 80.85%,#ec5c3b 82.98%,#ea5739 85.11%,#e95538 87.23%,#e65036 89.36%,#e54e35 91.49%,#e44c34 93.62%,#e34933 95.74%,#e24731 97.87%,#e24731 100.00%)"><u style="background:linear-gradient(90deg,#35429b 0.00%,#35429b 2.13%,#36479e 4.26%,#374a9f 6.38%,#384ca0 8.51%,#3a51a2 10.64%,#3b56a5 12.77%,#3d5ba7 14.89%,#3f62ab 17.02%,#416aaf 19.15%,#4574b3 21.28%,#4b7db8 23.40%,#5385bd 25.53%,#5e93c3 27.66%,#69a0ca 29.79%,#74add1 31.91%,#83b9d8 34.04%,#94c7df 36.17%,#a6d5e7 38.30%,#b9e0ed 40.43%,#cbe9f2 42.55%,#def2f7 44.68%,#ebf7e4 46.81%,#f6fbd0 48.94%,#fffcba 51.06%,#fff1aa 53.19%,#fee699 55.32%,#feda8a 57.45%,#feca7c 59.57%,#fdbb6d 61.70%,#fdaf62 63.83%,#fba05b 65.96%,#f99153 68.09%,#f8864f 70.21%,#f67a49 72.34%,#f57245 74.47%,#f26841 76.60%,#ee613e 78.72%,#ec5c3b 80.85%,#ea5739 82.98%,#e75337 85.11%,#e54e35 87.23%,#e44c34 89.36%,#e34933 91.49%,#e24731 93.62%,#e14430 95.74%,#e14430 97.87%,#e0422f 100.00%)"></u></b>
<b style="top:910px;height:14px;background:linear-gradient(90deg,#35429b 0.00%,#35429b 2.13%,#36479e 4.26%,#374a9f 6.38%,#384ca0 8.51%,#3a51a2 10.64%,#3b56a5 12.77%,#3d5ba7 14.89%,#3f62ab 17.02%,#416aaf 19.15%,#4574b3 21.28%,#4b7db8 23.40%,#5385bd 25.53%,#5e93c3 27.66%,#69a0ca 29.79%,#74add1 31.91%,#83b9d8 34.04%,#94c7df 36.17%,#a6d5e7 38.30%,#b9e0ed 40.43%,#cbe9f2 42.55%,#def2f7 44.68%,#ebf7e4 46.81%,#f6fbd0 48.94%,#fffcba 51.06%,#fff1aa 53.19%,#fee699 55.32%,#feda8a 57.45%,#feca7c 59.57%,#fdbb6d 61.70%,#fdaf62 63.83%,#fba05b 65.96%,#f99153 68.09%,#f8864f 70.21%,#f67a49 72.34%,#f57245 74.47%,#f26841 76.60%,#ee613e 78.72%,#ec5c3b 80.85%,#ea5739 82.98%,#e75337 85.11%,#e54e35 87.23%,#e44c34 89.36%,#e34933 91.49%,#e24731 93.62%,#e14430 95.74%,#e14430 97.87%,#e0422f 100.00%)"><u style="background:linear-gradient(90deg,#35429b 0.00%,#36459c 2.13%,#36479e 4.26%,#374a9f 6.38%,#394fa1 8.51%,#3a54a4 10.64%,#3c59a6 12.77%,#3e5ea8 14.89%,#4065ac 17.02%,#426cb0 19.15%,#4676b5 21.28%,#4d7fb9 23.40%,#578abf 25.53%,#6095c4 27.66%,#6ba2cb 29.79%,#78b0d3 31.91%,#87bdd9 34.04%,#99cae1 36.17%,#acdae9 38.30%,#bde2ee 40.43%,#d1ecf4 42.55%,#e2f4f4 44.68%,#eff9dd 46.81%,#fbfdc7 48.94%,#fff8b5 51.06%,#feeda4 53.19%,#fee294 55.32%,#fed283 57.45%,#fdc576 59.57%,#fdb769 61.70%,#fca85e 63.83%,#fa9857 65.96%,#f88c51 68.09%,#f67f4b 70.21%,#f57547 72.34%,#f36b42 74.47%,#ef633f 76.60%,#ec5c3b 78.72%,#ea5739 80.85%,#e75337 82.98%,#e54e35 85.11%,#e34933 87.23%,#e24731 89.36%,#e14430 91.49%,#e0422f 93.62%,#de402e 95.74%,#de402e 97.87%,#dd3d2d 100.00%)"></u></b>
<b style="top:924px;height:14px;background:linear-gradient(90deg,#35429b 0.00%,#36459c 2.13%,#36479e 4.26%,#374a9f 6.38%,#394fa1 8.51%,#3a54a4 10.64%,#3c59a6 12.77%,#3e5ea8 14.89%,#4065ac 17.02%,#426cb0 19.15%,#4676b5 21.28%,#4d7fb9 23.40%,#578abf 25.53%,#6095c4 27.66%,#6ba2cb 29.79%,#78b0d3 31.91%,#87bdd9 34.04%,#99cae1 36.17%,#acdae9 38.30%,#bde2ee 40.43%,#d1ecf4 42.55%,#e2f4f4 44.68%,#eff9dd 46.81%,#fbfdc7 48.94%,#fff8b5 51.06%,#feeda4 53.19%,#fee294 55.32%,#fed283 57.45%,#fdc576 59.57%,#fdb769 61.70%,#fca85e 63.83%,#fa9857 65.96%,#f88c51 68.09%,#f67f4b 70.21%,#f57547 72.34%,#f36b42 74.47%,#ef633f 76.60%,#ec5c3b 78.72%,#ea5739 80.85%,#e75337 82.98%,#e54e35 85.11%,#e34933 87.23%,#e24731 89.36%,#e14430 91.49%,#e0422f 93.62%,#de402e 95.74%,#de402e 97.87%,#dd3d2d 100.00%)"><u style="background:linear-gradient(90deg,#35429b 0.00%,#36459c 2.13%,#36479e 4.26%,#384ca0 6.38%,#394fa1 8.51%,#3a54a4 10.64%,#3c59a6 12.77%,#3e60aa 14.89%,#4167ad 17.02%,#436fb1 19.15%,#4878b6 21.28%,#4f81ba 23.40%,#588cc0 25.53%,#6399c7 27.66%,#6ea6ce 29.79%,#7db4d5 31.91%,#8ec2dc 34.04%,#9fd0e4 36.17%,#b0dcea 38.30%,#c3e5f0 40.43%,#d8eff6 42.55%,#e6f5ed 44.68%,#f2fad6 46.81%,#feffc0 48.94%,#fff5af 51.06%,#fee99d 53.19%,#fede8e 55.32%,#fecc7e 57.45%,#fdbf71 59.57%,#fdb164 61.70%,#fba05b 63.83%,#f99153 65.96%,#f7844e 68.09%,#f57748 70.21%,#f46d43 72.34%,#f16640 74.47%,#ed5f3c 76.60%,#ea5739 78.72%,#e75337 80.85%,#e54e35 82.98%,#e34933 85.11%,#e24731 87.23%,#e0422f 89.36%,#de402e 91.49%,#dd3d2d 93.62%,#dd3d2d 95.74%,#dc3b2c 97.87%,#db382b 100.00%)"></u></b>
<b style="top:938px;height:14px;background:linear-gradient(90deg,#35429b 0.00%,#36459c 2.13%,#36479e 4.26%,#384ca0 6.38%,#394fa1 8.51%,#3a54a4 10.64%,#3c59a6 12.77%,#3e60aa 14.89%,#4167ad 17.02%,#436fb1 19.15%,#4878b6 21.28%,#4f81ba 23.40%,#588cc0 25.53%,#6399c7 27.66%,#6ea6ce 29.79%,#7db4d5 31.91%,#8ec2dc 34.04%,#9fd0e4 36.17%,#b0dcea 38.30%,#c3e5f0 40.43%,#d8eff6 42.55%,#e6f5ed 44.68%,#f2fad6 46.81%,#feffc0 48.94%,#fff5af 51.06%,#fee99d 53.19%,#fede8e 55.32%,#fecc7e 57.45%,#fdbf71 59.57%,#fdb164 61.70%,#fba05b 63.83%,#f99153 65.96%,#f7844e 68.09%,#f57748 70.21%,#f46d43 72.34%,#f16640 74.47%,#ed5f3c 76.60%,#ea5739 78.72%,#e75337 80.85%,#e54e35 82.98%,#e34933 85.11%,#e24731 87.23%,#e0422f 89.36%,#de402e 91.49%,#dd3d2d 93.62%,#dd3d2d 95.74%,#dc3b2c 97.87%,#db382b 100.00%)"><u style="background:linear-gradient(90deg,#35429b 0.00%,#36459c 2.13%,#374a9f 4.26%,#384ca0 6.38%,#3a51a2 8.51%,#3b56a5 10.64%,#3d5ba7 12.77%,#3f62ab 14.89%,#416aaf 17.02%,#4471b2 19.15%,#4a7ab7 21.28%,#5385bd 23.40%,#5c90c2 25.53%,#679ec9 27.66%,#72abd0 29.79%,#81b7d7 31.91%,#92c5de 34.04%,#a3d3e6 36.17%,#b6dfec 38.30%,#c9e8f2 40.43%,#def2f7 42.55%,#eaf7e6 44.68%,#f6fbd0 46.81%,#fffcba 48.94%,#fff0a8 51.06%,#fee597 53.19%,#fed889 55.32%,#fdc778 57.45%,#fdb96b 59.57%,#fcaa5f 61.70%,#fa9857 63.83%,#f88c51 65.96%,#f67f4b 68.09%,#f57245 70.21%,#f26841 72.34%,#ee613e 74.47%,#eb5a3a 76.60%,#e75337 78.72%,#e54e35 80.85%,#e34933 82.98%,#e14430 85.11%,#e0422f 87.23%,#dd3d2d 89.36%,#dc3b2c 91.49%,#db382b 93.62%,#db382b 95.74%,#da362a 97.87%,#da362a 100.00%)"></u></b>
<b style="top:952px;height:14px;background:linear-gradient(90deg,#35429b 0.00%,#36459c 2.13%,#374a9f 4.26%,#384ca0 6.38%,#3a51a2 8.51%,#3b56a5 10.64%,#3d5ba7 12.77%,#3f62ab 14.89%,#416aaf 17.02%,#4471b2 19.15%,#4a7ab7 21.28%,#5385bd 23.40%,#5c90c2 25.53%,#679ec9 27.66%,#72abd0 29.79%,#81b7d7 31.91%,#92c5de 34.04%,#a3d3e6 36.17%,#b6dfec 38.30%,#c9e8f2 40.43%,#def2f7 42.55%,#eaf7e6 44.68%,#f6fbd0 46.81%,#fffcba 48.94%,#fff0a8 51.06%,#fee597 53.19%,#fed889 55.32%,#fdc778 57.45%,#fdb96b 59.57%,#fcaa5f 61.70%,#fa9857 63.83%,#f88c51 65.96%,#f67f4b 68.09%,#f57245 70.21%,#f26841 72.34%,#ee613e 74.47%,#eb5a3a 76.60%,#e75337 78.72%,#e54e35 80.85%,#e34933 82.98%,#e14430 85.11%,#e0422f 87.23%,#dd3d2d 89.36%,#dc3b2c 91.49%,#db382b 93.62%,#db382b 95.74%,#da362a 97.87%,#da362a 100.00%)"><u style="background:linear-gradient(90deg,#36459c 0.00%,#36479e 2.13%,#374a9f 4.26%,#394fa1 6.38%,#3a51a2 8.51%,#3b56a5 10.64%,#3e5ea8 12.77%,#3f62ab 14.89%,#426cb0 17.02%,#4574b3 19.15%,#4b7db8 21.28%,#5588be 23.40%,#6095c4 25.53%,#6ba2cb 27.66%,#76afd2 29.79%,#85bbd9 31.91%,#97c9e0 34.04%,#aad8e9 36.17%,#bde2ee 38.30%,#cfebf3 40.43%,#e2f4f4 42.55%,#eff9dd 44.68%,#fafdc9 46.81%,#fff8b5 48.94%,#feeca2 51.06%,#fee192 53.19%,#fed081 55.32%,#fdc173 57.45%,#fdb366 59.57%,#fba35c 61.70%,#f99355 63.83%,#f7844e 65.96%,#f57748 68.09%,#f46d43 70.21%,#ef633f 72.34%,#eb5a3a 74.47%,#e75337 76.60%,#e54e35 78.72%,#e34933 80.85%,#e14430 82.98%,#de402e 85.11%,#dd3d2d 87.23%,#dc3b2c 89.36%,#db382b 91.49%,#da362a 93.62%,#d93429 95.74%,#d83128 97.87%,#d83128 100.00%)"></u></b>
<b style="top:966px;height:14px;background:linear-gradient(90deg,#36459c 0.00%,#36479e 2.13%,#374a9f 4.26%,#394fa1 6.38%,#3a51a2 8.51%,#3b56a5 10.64%,#3e5ea8 12.77%,#3f62ab 14.89%,#426cb0 17.02%,#4574b3 19.15%,#4b7db8 21.28%,#5588be 23.40%,#6095c4 25.53%,#6ba2cb 27.66%,#76afd2 29.79%,#85bbd9 31.91%,#97c9e0 34.04%,#aad8e9 36.17%,#bde2ee 38.30%,#cfebf3 40.43%,#e2f4f4 42.55%,#eff9dd 44.68%,#fafdc9 46.81%,#fff8b5 48.94%,#feeca2 51.06%,#fee192 53.19%,#fed081 55.32%,#fdc173 57.45%,#fdb366 59.57%,#fba35c 61.70%,#f99355 63.83%,#f7844e 65.96%,#f57748 68.09%,#f46d43 70.21%,#ef633f 72.34%,#eb5a3a 74.47%,#e75337 76.60%,#e54e35 78.72%,#e34933 80.85%,#e14430 82.98%,#de402e 85.11%,#dd3d2d 87.23%,#dc3b2c 89.36%,#db382b 91.49%,#da362a 93.62%,#d93429 95.74%,#d83128 97.87%,#d83128 100.00%)"><u style="background:linear-gradient(90deg,#36459c 0.00%,#36479e 2.13%,#374a9f 4.26%,#394fa1 6.38%,#3a54a4 8.51%,#3c59a6 10.64%,#3e5ea8 12.77%,#4065ac 14.89%,#436fb1 17.02%,#4676b5 19.15%,#4f81ba 21.28%,#588cc0 23.40%,#6297c6 25.53%,#6da4cc 27.66%,#7ab2d4 29.79%,#8cc0db 31.91%,#9dcee3 34.04%,#aedbea 36.17%,#c1e4ef 38.30%,#d6eef5 40.43%,#e6f5ed 42.55%,#f2fad6 44.68%,#feffc0 46.81%,#fff5af 48.94%,#fee99d 51.06%,#fedc8c 53.19%,#feca7c 55.32%,#fdbb6d 57.45%,#fdad60 59.57%,#fa9b58 61.70%,#f88c51 63.83%,#f67c4a 65.96%,#f57245 68.09%,#f16640 70.21%,#ec5c3b 72.34%,#e95538 74.47%,#e54e35 76.60%,#e34933 78.72%,#e14430 80.85%,#de402e 82.98%,#dc3b2c 85.11%,#db382b 87.23%,#da362a 89.36%,#d93429 91.49%,#d83128 93.62%,#d62f27 95.74%,#d62f27 97.87%,#d42d27 100.00%)"></u></b>
<b style="top:980px;height:14px;background:linear-gradient(90deg,#36459c 0.00%,#36479e 2.13%,#374a9f 4.26%,#394fa1 6.38%,#3a54a4 8.51%,#3c59a6 10.64%,#3e5ea8 12.77%,#4065ac 14.89%,#436fb1 17.02%,#4676b5 19.15%,#4f81ba 21.28%,#588cc0 23.40%,#6297c6 25.53%,#6da4cc 27.66%,#7ab2d4 29.79%,#8cc0db 31.91%,#9dcee3 34.04%,#aedbea 36.17%,#c1e4ef 38.30%,#d6eef5 40.43%,#e6f5ed 42.55%,#f2fad6 44.68%,#feffc0 46.81%,#fff5af 48.94%,#fee99d 51.06%,#fedc8c 53.19%,#feca7c 55.32%,#fdbb6d 57.45%,#fdad60 59.57%,#fa9b58 61.70%,#f88c51 63.83%,#f67c4a 65.96%,#f57245 68.09%,#f16640 70.21%,#ec5c3b 72.34%,#e95538 74.47%,#e54e35 76.60%,#e34933 78.72%,#e14430 80.85%,#de402e 82.98%,#dc3b2c 85.11%,#db382b 87.23%,#da362a 89.36%,#d93429 91.49%,#d83128 93.62%,#d62f27 95.74%,#d62f27 97.87%,#d42d27 100.00%)"><u style="background:linear-gradient(90deg,#36459c 0.00%,#36479e 2.13%,#384ca0 4.26%,#394fa1 6.38%,#3a54a4 8.51%,#3d5ba7 10.64%,#3e60aa 12.77%,#4167ad 14.89%,#4471b2 17.02%,#4a7ab7 19.15%,#5183bb 21.28%,#5a8ec1 23.40%,#659bc8 25.53%,#70a9cf 27.66%,#7fb6d6 29.79%,#90c3dd 31.91%,#a1d1e5 34.04%,#b4deec 36.17%,#c7e7f1 38.30%,#dcf1f7 40.43%,#eaf7e6 42.55%,#f6fbd0 44.68%,#fffcba 46.81%,#fff0a8 48.94%,#fee597 51.06%,#fed687 53.19%,#fdc576 55.32%,#fdb567 57.45%,#fca55d 59.57%,#f99355 61.70%,#f7844e 63.83%,#f57748 65.96%,#f36b42 68.09%,#ee613e 70.21%,#ea5739 72.34%,#e65036 74.47%,#e34933 76.60%,#e14430 78.72%,#de402e 80.85%,#dc3b2c 82.98%,#db382b 85.11%,#d93429 87.23%,#d83128 89.36%,#d62f27 91.49%,#d42d27 93.62%,#d42d27 95.74%,#d22b27 97.87%,#d22b27 100.00%)"></u></b>
<b style="top:994px;height:14px;background:linear-gradient(90deg,#36459c 0.00%,#36479e 2.13%,#384ca0 4.26%,#394fa1 6.38%,#3a54a4 8.51%,#3d5ba7 10.64%,#3e60aa 12.77%,#4167ad 14.89%,#4471b2 17.02%,#4a7ab7 19.15%,#5183bb 21.28%,#5a8ec1 23.40%,#659bc8 25.53%,#70a9cf 27.66%,#7fb6d6 29.79%,#90c3dd 31.91%,#a1d1e5 34.04%,#b4deec 36.17%,#c7e7f1 38.30%,#dcf1f7 40.43%,#eaf7e6 42.55%,#f6fbd0 44.68%,#fffcba 46.81%,#fff0a8 48.94%,#fee597 51.06%,#fed687 53.19%,#fdc576 55.32%,#fdb567 57.45%,#fca55d 59.57%,#f99355 61.70%,#f7844e 63.83%,#f57748 65.96%,#f36b42 68.09%,#ee613e 70.21%,#ea5739 72.34%,#e65036 74.47%,#e34933 76.60%,#e14430 78.72%,#de402e 80.85%,#dc3b2c 82.98%,#db382b 85.11%,#d93429 87.23%,#d83128 89.36%,#d62f27 91.49%,#d42d27 93.62%,#d42d27 95.74%,#d22b27 97.87%,#d22b27 100.00%)"><u style="background:linear-gradient(90deg,#36479e 0.00%,#374a9f 2.13%,#384ca0 4.26%,#3a51a2 6.38%,#3b56a5 8.51%,#3d5ba7 10.64%,#3f62ab 12.77%,#416aaf 14.89%,#4574b3 17.02%,#4b7db8 19.15%,#5385bd 21.28%,#5e93c3 23.40%,#69a0ca 25.53%,#74add1 27.66%,#83b9d8 29.79%,#94c7df 31.91%,#a8d6e8 34.04%,#bbe1ed 36.17%,#cdeaf3 38.30%,#e1f3f6 40.43%,#edf8df 42.55%,#fafdc9 44.68%,#fff8b5 46.81%,#feeca2 48.94%,#fee192 51.06%,#fed081 53.19%,#fdbf71 55.32%,#fdb164 57.45%,#fb9d59 59.57%,#f98e52 61.70%,#f67f4b 63.83%,#f57245 65.96%,#f16640 68.09%,#ec5c3b 70.21%,#e75337 72.34%,#e44c34 74.47%,#e14430 76.60%,#de402e 78.72%,#dc3b2c 80.85%,#da362a 82.98%,#d93429 85.11%,#d83128 87.23%,#d42d27 89.36%,#d42d27 91.49%,#d22b27 93.62%,#d02927 95.74%,#d02927 97.87%,#ce2827 100.00%)"></u></b>
<b style="top:1008px;height:14px;background:linear-gradient(90deg,#36479e 0.00%,#374a9f 2.13%,#384ca0 4.26%,#3a51a2 6.38%,#3b56a5 8.51%,#3d5ba7 10.64%,#3f62ab 12.77%,#416aaf 14.89%,#4574b3 17.02%,#4b7db8 19.15%,#5385bd 21.28%,#5e93c3 23.40%,#69a0ca 25.53%,#74add1 27.66%,#83b9d8 29.79%,#94c7df 31.91%,#a8d6e8 34.04%,#bbe1ed 36.17%,#cdeaf3 38.30%,#e1f3f6 40.43%,#edf8df 42.55%,#fafdc9 44.68%,#fff8b5 46.81%,#feeca2 48.94%,#fee192 51.06%,#fed081 53.19%,#fdbf71 55.32%,#fdb164 57.45%,#fb9d59 59.57%,#f98e52 61.70%,#f67f4b 63.83%,#f57245 65.96%,#f16640 68.09%,#ec5c3b 70.21%,#e75337 72.34%,#e44c34 74.47%,#e14430 76.60%,#de402e 78.72%,#dc3b2c 80.85%,#da362a 82.98%,#d93429 85.11%,#d83128 87.23%,#d42d27 89.36%,#d42d27 91.49%,#d22b27 93.62%,#d02927 95.74%,#d02927 97.87%,#ce2827 100.00%)"><u style="background:linear-gradient(90deg,#36479e 0.00%,#374a9f 2.13%,#394fa1 4.26%,#3a51a2 6.38%,#3c59a6 8.51%,#3e5ea8 10.64%,#4065ac 12.77%,#426cb0 14.89%,#4676b5 17.02%,#4d7fb9 19.15%,#578abf 21.28%,#6095c4 23.40%,#6ba2cb 25.53%,#78b0d3 27.66%,#87bdd9 29.79%,#9bcce2 31.91%,#acdae9 34.04%,#bfe3ef 36.17%,#d4edf4 38.30%,#e5f5ef 40.43%,#f1fad9 42.55%,#fdfec2 44.68%,#fff5af 46.81%,#fee99d 48.94%,#fedc8c 51.06%,#feca7c 53.19%,#fdb96b 55.32%,#fcaa5f 57.45%,#fa9857 59.57%,#f8864f 61.70%,#f57748 63.83%,#f36b42 65.96%,#ee613e 68.09%,#ea5739 70.21%,#e54e35 72.34%,#e24731 74.47%,#de402e 76.60%,#dc3b2c 78.72%,#da362a 80.85%,#d93429 82.98%,#d62f27 85.11%,#d42d27 87.23%,#d22b27 89.36%,#d02927 91.49%,#ce2827 93.62%,#ce2827 95.74%,#cc2627 97.87%,#cc2627 100.00%)"></u></b>
<b style="top:1022px;height:14px;background:linear-gradient(90deg,#36479e 0.00%,#374a9f 2.13%,#394fa1 4.26%,#3a51a2 6.38%,#3c59a6 8.51%,#3e5ea8 10.64%,#4065ac 12.77%,#426cb0 14.89%,#4676b5 17.02%,#4d7fb9 19.15%,#578abf 21.28%,#6095c4 23.40%,#6ba2cb 25.53%,#78b0d3 27.66%,#87bdd9 29.79%,#9bcce2 31.91%,#acdae9 34.04%,#bfe3ef 36.17%,#d4edf4 38.30%,#e5f5ef 40.43%,#f1fad9 42.55%,#fdfec2 44.68%,#fff5af 46.81%,#fee99d 48.94%,#fedc8c 51.06%,#feca7c 53.19%,#fdb96b 55.32%,#fcaa5f 57.45%,#fa9857 59.57%,#f8864f 61.70%,#f57748 63.83%,#f36b42 65.96%,#ee613e 68.09%,#ea5739 70.21%,#e54e35 72.34%,#e24731 74.47%,#de402e 76.60%,#dc3b2c 78.72%,#da362a 80.85%,#d93429 82.98%,#d62f27 85.11%,#d42d27 87.23%,#d22b27 89.36%,#d02927 91.49%,#ce2827 93.62%,#ce2827 95.74%,#cc2627 97.87%,#cc2627 100.00%)"><u style="background:linear-gradient(90deg,#36479e 0.00%,#384ca0 2.13%,#394fa1 4.26%,#3a54a4 6.38%,#3c59a6 8.51%,#3e60aa 10.64%,#4167ad 12.77%,#436fb1 14.89%,#4878b6 17.02%,#4f81ba 19.15%,#588cc0 21.28%,#6399c7 23.40%,#6ea6ce 25.53%,#7db4d5 27.66%,#8ec2dc 29.79%,#9fd0e4 31.91%,#b2ddeb 34.04%,#c5e6f0 36.17%,#daf0f6 38.30%,#e9f6e8 40.43%,#f5fbd2 42.55%,#fffdbc 44.68%,#fff1aa 46.81%,#fee597 48.94%,#fed687 51.06%,#fdc576 53.19%,#fdb567 55.32%,#fba35c 57.45%,#f99153 59.57%,#f7814c 61.70%,#f57245 63.83%,#f16640 65.96%,#eb5a3a 68.09%,#e75337 70.21%,#e34933 72.34%,#e0422f 74.47%,#dd3d2d 76.60%,#da362a 78.72%,#d93429 80.85%,#d62f27 82.98%,#d42d27 85.11%,#d02927 87.23%,#ce2827 89.36%,#ce2827 91.49%,#cc2627 93.62%,#ca2427 95.74%,#ca2427 97.87%,#c82227 100.00%)"></u></b>
<b style="top:1036px;height:14px;background:linear-gradient(90deg,#36479e 0.00%,#384ca0 2.13%,#394fa1 4.26%,#3a54a4 6.38%,#3c59a6 8.51%,#3e60aa 10.64%,#4167ad 12.77%,#436fb1 14.89%,#4878b6 17.02%,#4f81ba 19.15%,#588cc0 21.28%,#6399c7 23.40%,#6ea6ce 25.53%,#7db4d5 27.66%,#8ec2dc 29.79%,#9fd0e4 31.91%,#b2ddeb 34.04%,#c5e6f0 36.17%,#daf0f6 38.30%,#e9f6e8 40.43%,#f5fbd2 42.55%,#fffdbc 44.68%,#fff1aa 46.81%,#fee597 48.94%,#fed687 51.06%,#fdc576 53.19%,#fdb567 55.32%,#fba35c 57.45%,#f99153 59.57%,#f7814c 61.70%,#f57245 63.83%,#f16640 65.96%,#eb5a3a 68.09%,#e75337 70.21%,#e34933 72.34%,#e0422f 74.47%,#dd3d2d 76.60%,#da362a 78.72%,#d93429 80.85%,#d62f27 82.98%,#d42d27 85.11%,#d02927 87.23%,#ce2827 89.36%,#ce2827 91.49%,#cc2627 93.62%,#ca2427 95.74%,#ca2427 97.87%,#c82227 100.00%)"><u style="background:linear-gradient(90deg,#374a9f 0.00%,#384ca0 2.13%,#3a51a2 4.26%,#3b56a5 6.38%,#3d5ba7 8.51%,#3e60aa 10.64%,#416aaf 12.77%,#4471b2 14.89%,#4a7ab7 17.02%,#5385bd 19.15%,#5c90c2 21.28%,#679ec9 23.40%,#72abd0 25.53%,#81b7d7 27.66%,#92c5de 29.79%,#a3d3e6 31.91%,#b6dfec 34.04%,#cbe9f2 36.17%,#e0f3f8 38.30%,#ecf8e2 40.43%,#f8fccb 42.55%,#fffab7 44.68%,#feeda4 46.81%,#fee192 48.94%,#fed081 51.06%,#fdbf71 53.19%,#fdaf62 55.32%,#fa9b58 57.45%,#f88950 59.57%,#f67a49 61.70%,#f46d43 63.83%,#ee613e 65.96%,#e95538 68.09%,#e54e35 70.21%,#e14430 72.34%,#dd3d2d 74.47%,#db382b 76.60%,#d93429 78.72%,#d62f27 80.85%,#d22b27 82.98%,#d02927 85.11%,#ce2827 87.23%,#cc2627 89.36%,#ca2427 91.49%,#c82227 93.62%,#c82227 95.74%,#c62027 97.87%,#c62027 100.00%)"></u></b>
<b style="top:1050px;height:14px;background:linear-gradient(90deg,#374a9f 0.00%,#384ca0 2.13%,#3a51a2 4.26%,#3b56a5 6.38%,#3d5ba7 8.51%,#3e60aa 10.64%,#416aaf 12.77%,#4471b2 14.89%,#4a7ab7 17.02%,#5385bd 19.15%,#5c90c2 21.28%,#679ec9 23.40%,#72abd0 25.53%,#81b7d7 27.66%,#92c5de 29.79%,#a3d3e6 31.91%,#b6dfec 34.04%,#cbe9f2 36.17%,#e0f3f8 38.30%,#ecf8e2 40.43%,#f8fccb 42.55%,#fffab7 44.68%,#feeda4 46.81%,#fee192 48.94%,#fed081 51.06%,#fdbf71 53.19%,#fdaf62 55.32%,#fa9b58 57.45%,#f88950 59.57%,#f67a49 61.70%,#f46d43 63.83%,#ee613e 65.96%,#e95538 68.09%,#e54e35 70.21%,#e14430 72.34%,#dd3d2d 74.47%,#db382b 76.60%,#d93429 78.72%,#d62f27 80.85%,#d22b27 82.98%,#d02927 85.11%,#ce2827 87.23%,#cc2627 89.36%,#ca2427 91.49%,#c82227 93.62%,#c82227 95.74%,#c62027 97.87%,#c62027 100.00%)"><u style="background:linear-gradient(90deg,#374a9f 0.00%,#384ca0 2.13%,#3a51a2 4.26%,#3b56a5 6.38%,#3e5ea8 8.51%,#3f62ab 10.64%,#416aaf 12.77%,#4574b3 14.89%,#4b7db8 17.02%,#5588be 19.15%,#5e93c3 21.28%,#69a0ca 23.40%,#76afd2 25.53%,#85bbd9 27.66%,#97c9e0 29.79%,#aad8e9 31.91%,#bde2ee 34.04%,#d1ecf4 36.17%,#e4f4f1 38.30%,#f0f9db 40.43%,#fcfec5 42.55%,#fff6b1 44.68%,#feea9f 46.81%,#fedc8c 48.94%,#feca7c 51.06%,#fdb96b 53.19%,#fca85e 55.32%,#fa9656 57.45%,#f7844e 59.57%,#f57547 61.70%,#f16640 63.83%,#ec5c3b 65.96%,#e65036 68.09%,#e34933 70.21%,#de402e 72.34%,#dc3b2c 74.47%,#d93429 76.60%,#d62f27 78.72%,#d22b27 80.85%,#d02927 82.98%,#ce2827 85.11%,#ca2427 87.23%,#ca2427 89.36%,#c82227 91.49%,#c62027 93.62%,#c41e27 95.74%,#c41e27 97.87%,#c41e27 100.00%)"></u></b>
<b style="top:1064px;height:14px;background:linear-gradient(90deg,#374a9f 0.00%,#384ca0 2.13%,#3a51a2 4.26%,#3b56a5 6.38%,#3e5ea8 8.51%,#3f62ab 10.64%,#416aaf 12.77%,#4574b3 14.89%,#4b7db8 17.02%,#5588be 19.15%,#5e93c3 21.28%,#69a0ca 23.40%,#76afd2 25.53%,#85bbd9 27.66%,#97c9e0 29.79%,#aad8e9 31.91%,#bde2ee 34.04%,#d1ecf4 36.17%,#e4f4f1 38.30%,#f0f9db 40.43%,#fcfec5 42.55%,#fff6b1 44.68%,#feea9f 46.81%,#fedc8c 48.94%,#feca7c 51.06%,#fdb96b 53.19%,#fca85e 55.32%,#fa9656 57.45%,#f7844e 59.57%,#f57547 61.70%,#f16640 63.83%,#ec5c3b 65.96%,#e65036 68.09%,#e34933 70.21%,#de402e 72.34%,#dc3b2c 74.47%,#d93429 76.60%,#d62f27 78.72%,#d22b27 80.85%,#d02927 82.98%,#ce2827 85.11%,#ca2427 87.23%,#ca2427 89.36%,#c82227 91.49%,#c62027 93.62%,#c41e27 95.74%,#c41e27 97.87%,#c41e27 100.00%)"><u style="background:linear-gradient(90deg,#374a9f 0.00%,#394fa1 2.13%,#3a54a4 4.26%,#3c59a6 6.38%,#3e5ea8 8.51%,#4065ac 10.64%,#426cb0 12.77%,#4676b5 14.89%,#4d7fb9 17.02%,#578abf 19.15%,#6297c6 21.28%,#6da4cc 23.40%,#7ab2d4 25.53%,#8abeda 27.66%,#9dcee3 29.79%,#aedbea 31.91%,#c3e5f0 34.04%,#d6eef5 36.17%,#e7f6eb 38.30%,#f3fbd4 40.43%,#fffebe 42.55%,#fff2ac 44.68%,#fee699 46.81%,#fed687 48.94%,#fdc576 51.06%,#fdb366 53.19%,#fba05b 55.32%,#f98e52 57.45%,#f67c4a 59.57%,#f46d43 61.70%,#ee613e 63.83%,#e95538 65.96%,#e44c34 68.09%,#e14430 70.21%,#dd3d2d 72.34%,#da362a 74.47%,#d83128 76.60%,#d42d27 78.72%,#d02927 80.85%,#cc2627 82.98%,#ca2427 85.11%,#c82227 87.23%,#c62027 89.36%,#c41e27 91.49%,#c41e27 93.62%,#c21c27 95.74%,#c21c27 97.87%,#c01a27 100.00%)"></u></b>
<b style="top:1078px;height:14px;background:linear-gradient(90deg,#374a9f 0.00%,#394fa1 2.13%,#3a54a4 4.26%,#3c59a6 6.38%,#3e5ea8 8.51%,#4065ac 10.64%,#426cb0 12.77%,#4676b5 14.89%,#4d7fb9 17.02%,#578abf 19.15%,#6297c6 21.28%,#6da4cc 23.40%,#7ab2d4 25.53%,#8abeda 27.66%,#9dcee3 29.79%,#aedbea 31.91%,#c3e5f0 34.04%,#d6eef5 36.17%,#e7f6eb 38.30%,#f3fbd4 40.43%,#fffebe 42.55%,#fff2ac 44.68%,#fee699 46.81%,#fed687 48.94%,#fdc576 51.06%,#fdb366 53.19%,#fba05b 55.32%,#f98e52 57.45%,#f67c4a 59.57%,#f46d43 61.70%,#ee613e 63.83%,#e95538 65.96%,#e44c34 68.09%,#e14430 70.21%,#dd3d2d 72.34%,#da362a 74.47%,#d83128 76.60%,#d42d27 78.72%,#d02927 80.85%,#cc2627 82.98%,#ca2427 85.11%,#c82227 87.23%,#c62027 89.36%,#c41e27 91.49%,#c41e27 93.62%,#c21c27 95.74%,#c21c27 97.87%,#c01a27 100.00%)"><u style="background:linear-gradient(90deg,#384ca0 0.00%,#394fa1 2.13%,#3a54a4 4.26%,#3c59a6 6.38%,#3e60aa 8.51%,#4167ad 10.64%,#436fb1 12.77%,#4878b6 14.89%,#5183bb 17.02%,#5a8ec1 19.15%,#6399c7 21.28%,#70a9cf 23.40%,#7fb6d6 25.53%,#90c3dd 27.66%,#a1d1e5 29.79%,#b4deec 31.91%,#c7e7f1 34.04%,#dcf1f7 36.17%,#eaf7e6 38.30%,#f7fcce 40.43%,#fffbb9 42.55%,#feefa6 44.68%,#fee294 46.81%,#fed081 48.94%,#fdbf71 51.06%,#fdad60 53.19%,#fa9b58 55.32%,#f8864f 57.45%,#f57748 59.57%,#f26841 61.70%,#ec5c3b 63.83%,#e65036 65.96%,#e24731 68.09%,#de402e 70.21%,#db382b 72.34%,#d83128 74.47%,#d42d27 76.60%,#d02927 78.72%,#cc2627 80.85%,#ca2427 82.98%,#c82227 85.11%,#c62027 87.23%,#c41e27 89.36%,#c21c27 91.49%,#c01a27 93.62%,#c01a27 95.74%,#be1827 97.87%,#be1827 100.00%)"></u></b>
<b style="top:1092px;height:14px;background:linear-gradient(90deg,#384ca0 0.00%,#394fa1 2.13%,#3a54a4 4.26%,#3c59a6 6.38%,#3e60aa 8.51%,#4167ad 10.64%,#436fb1 12.77%,#4878b6 14.89%,#5183bb 17.02%,#5a8ec1 19.15%,#6399c7 21.28%,#70a9cf 23.40%,#7fb6d6 25.53%,#90c3dd 27.66%,#a1d1e5 29.79%,#b4deec 31.91%,#c7e7f1 34.04%,#dcf1f7 36.17%,#eaf7e6 38.30%,#f7fcce 40.43%,#fffbb9 42.55%,#feefa6 44.68%,#fee294 46.81%,#fed081 48.94%,#fdbf71 51.06%,#fdad60 53.19%,#fa9b58 55.32%,#f8864f 57.45%,#f57748 59.57%,#f26841 61.70%,#ec5c3b 63.83%,#e65036 65.96%,#e24731 68.09%,#de402e 70.21%,#db382b 72.34%,#d83128 74.47%,#d42d27 76.60%,#d02927 78.72%,#cc2627 80.85%,#ca2427 82.98%,#c82227 85.11%,#c62027 87.23%,#c41e27 89.36%,#c21c27 91.49%,#c01a27 93.62%,#c01a27 95.74%,#be1827 97.87%,#be1827 100.00%)"><u style="background:linear-gradient(90deg,#384ca0 0.00%,#3a51a2 2.13%,#3b56a5 4.26%,#3d5ba7 6.38%,#3f62ab 8.51%,#416aaf 10.64%,#4471b2 12.77%,#4a7ab7 14.89%,#5385bd 17.02%,#5c90c2 19.15%,#679ec9 21.28%,#74add1 23.40%,#83b9d8 25.53%,#94c7df 27.66%,#a6d5e7 29.79%,#b9e0ed 31.91%,#cdeaf3 34.04%,#e1f3f6 36.17%,#edf8df 38.30%,#fbfdc7 40.43%,#fff7b3 42.55%,#feea9f 44.68%,#fede8e 46.81%,#feca7c 48.94%,#fdb96b 51.06%,#fca85e 53.19%,#f99355 55.32%,#f7814c 57.45%,#f57245 59.57%,#ef633f 61.70%,#ea5739 63.83%,#e44c34 65.96%,#e14430 68.09%,#dc3b2c 70.21%,#d93429 72.34%,#d62f27 74.47%,#d22b27 76.60%,#ce2827 78.72%,#ca2427 80.85%,#c82227 82.98%,#c41e27 85.11%,#c21c27 87.23%,#c21c27 89.36%,#c01a27 91.49%,#be1827 93.62%,#be1827 95.74%,#bd1726 97.87%,#bd1726 100.00%)"></u></b>
<b style="top:1106px;height:14px;background:linear-gradient(90deg,#384ca0 0.00%,#3a51a2 2.13%,#3b56a5 4.26%,#3d5ba7 6.38%,#3f62ab 8.51%,#416aaf 10.64%,#4471b2 12.77%,#4a7ab7 14.89%,#5385bd 17.02%,#5c90c2 19.15%,#679ec9 21.28%,#74add1 23.40%,#83b9d8 25.53%,#94c7df 27.66%,#a6d5e7 29.79%,#b9e0ed 31.91%,#cdeaf3 34.04%,#e1f3f6 36.17%,#edf8df 38.30%,#fbfdc7 40.43%,#fff7b3 42.55%,#feea9f 44.68%,#fede8e 46.81%,#feca7c 48.94%,#fdb96b 51.06%,#fca85e 53.19%,#f99355 55.32%,#f7814c 57.45%,#f57245 59.57%,#ef633f 61.70%,#ea5739 63.83%,#e44c34 65.96%,#e14430 68.09%,#dc3b2c 70.21%,#d93429 72.34%,#d62f27 74.47%,#d22b27 76.60%,#ce2827 78.72%,#ca2427 80.85%,#c82227 82.98%,#c41e27 85.11%,#c21c27 87.23%,#c21c27 89.36%,#c01a27 91.49%,#be1827 93.62%,#be1827 95.74%,#bd1726 97.87%,#bd1726 100.00%)"><u style="background:linear-gradient(90deg,#384ca0 0.00%,#3a51a2 2.13%,#3b56a5 4.26%,#3e5ea8 6.38%,#3f62ab 8.51%,#426cb0 10.64%,#4574b3 12.77%,#4d7fb9 14.89%,#5588be 17.02%,#6095c4 19.15%,#6ba2cb 21.28%,#78b0d3 23.40%,#87bdd9 25.53%,#99cae1 27.66%,#acdae9 29.79%,#bfe3ef 31.91%,#d4edf4 34.04%,#e5f5ef 36.17%,#f1fad9 38.30%,#feffc0 40.43%,#fff3ad 42.55%,#fee699 44.68%,#fed889 46.81%,#fdc576 48.94%,#fdb366 51.06%,#fba05b 53.19%,#f98e52 55.32%,#f67c4a 57.45%,#f36b42 59.57%,#ed5f3c 61.70%,#e75337 63.83%,#e34933 65.96%,#de402e 68.09%,#db382b 70.21%,#d83128 72.34%,#d22b27 74.47%,#ce2827 76.60%,#ca2427 78.72%,#c82227 80.85%,#c41e27 82.98%,#c21c27 85.11%,#c01a27 87.23%,#be1827 89.36%,#be1827 91.49%,#bd1726 93.62%,#bd1726 95.74%,#bb1526 97.87%,#bb1526 100.00%)"></u></b>
<b style="top:1120px;height:14px;background:linear-gradient(90deg,#384ca0 0.00%,#3a51a2 2.13%,#3b56a5 4.26%,#3e5ea8 6.38%,#3f62ab 8.51%,#426cb0 10.64%,#4574b3 12.77%,#4d7fb9 14.89%,#5588be 17.02%,#6095c4 19.15%,#6ba2cb 21.28%,#78b0d3 23.40%,#87bdd9 25.53%,#99cae1 27.66%,#acdae9 29.79%,#bfe3ef 31.91%,#d4edf4 34.04%,#e5f5ef 36.17%,#f1fad9 38.30%,#feffc0 40.43%,#fff3ad 42.55%,#fee699 44.68%,#fed889 46.81%,#fdc576 48.94%,#fdb366 51.06%,#fba05b 53.19%,#f98e52 55.32%,#f67c4a 57.45%,#f36b42 59.57%,#ed5f3c 61.70%,#e75337 63.83%,#e34933 65.96%,#de402e 68.09%,#db382b 70.21%,#d83128 72.34%,#d22b27 74.47%,#ce2827 76.60%,#ca2427 78.72%,#c82227 80.85%,#c41e27 82.98%,#c21c27 85.11%,#c01a27 87.23%,#be1827 89.36%,#be1827 91.49%,#bd1726 93.62%,#bd1726 95.74%,#bb1526 97.87%,#bb1526 100.00%)"><u style="background:linear-gradient(90deg,#394fa1 0.00%,#3a54a4 2.13%,#3c59a6 4.26%,#3e5ea8 6.38%,#4065ac 8.51%,#436fb1 10.64%,#4676b5 12.77%,#4f81ba 14.89%,#588cc0 17.02%,#6297c6 19.15%,#6da4cc 21.28%,#7ab2d4 23.40%,#8cc0db 25.53%,#9dcee3 27.66%,#b0dcea 29.79%,#c5e6f0 31.91%,#daf0f6 34.04%,#e9f6e8 36.17%,#f5fbd2 38.30%,#fffcba 40.43%,#fff0a8 42.55%,#fee496 44.68%,#fed283 46.81%,#fdbf71 48.94%,#fdaf62 51.06%,#fa9857 53.19%,#f8864f 55.32%,#f57547 57.45%,#f16640 59.57%,#eb5a3a 61.70%,#e54e35 63.83%,#e14430 65.96%,#dc3b2c 68.09%,#d93429 70.21%,#d42d27 72.34%,#d02927 74.47%,#cc2627 76.60%,#c82227 78.72%,#c41e27 80.85%,#c21c27 82.98%,#c01a27 85.11%,#be1827 87.23%,#bd1726 89.36%,#bd1726 91.49%,#bb1526 93.62%,#bb1526 95.74%,#b91326 97.87%,#b91326 100.00%)"></u></b>
<b style="top:1134px;height:14px;background:linear-gradient(90deg,#394fa1 0.00%,#3a54a4 2.13%,#3c59a6 4.26%,#3e5ea8 6.38%,#4065ac 8.51%,#436fb1 10.64%,#4676b5 12.77%,#4f81ba 14.89%,#588cc0 17.02%,#6297c6 19.15%,#6da4cc 21.28%,#7ab2d4 23.40%,#8cc0db 25.53%,#9dcee3 27.66%,#b0dcea 29.79%,#c5e6f0 31.91%,#daf0f6 34.04%,#e9f6e8 36.17%,#f5fbd2 38.30%,#fffcba 40.43%,#fff0a8 42.55%,#fee496 44.68%,#fed283 46.81%,#fdbf71 48.94%,#fdaf62 51.06%,#fa9857 53.19%,#f8864f 55.32%,#f57547 57.45%,#f16640 59.57%,#eb5a3a 61.70%,#e54e35 63.83%,#e14430 65.96%,#dc3b2c 68.09%,#d93429 70.21%,#d42d27 72.34%,#d02927 74.47%,#cc2627 76.60%,#c82227 78.72%,#c41e27 80.85%,#c21c27 82.98%,#c01a27 85.11%,#be1827 87.23%,#bd1726 89.36%,#bd1726 91.49%,#bb1526 93.62%,#bb1526 95.74%,#b91326 97.87%,#b91326 100.00%)"><u style="background:linear-gradient(90deg,#394fa1 0.00%,#3a54a4 2.13%,#3c59a6 4.26%,#3e60aa 6.38%,#4167ad 8.51%,#436fb1 10.64%,#4878b6 12.77%,#5183bb 14.89%,#5a8ec1 17.02%,#659bc8 19.15%,#70a9cf 21.28%,#7fb6d6 23.40%,#90c3dd 25.53%,#a3d3e6 27.66%,#b6dfec 29.79%,#c9e8f2 31.91%,#def2f7 34.04%,#ecf8e2 36.17%,#f8fccb 38.30%,#fff8b5 40.43%,#feeca2 42.55%,#fee090 44.68%,#fecc7e 46.81%,#fdbb6d 48.94%,#fca85e 51.06%,#f99355 53.19%,#f7814c 55.32%,#f47044 57.45%,#ee613e 59.57%,#e95538 61.70%,#e34933 63.83%,#de402e 65.96%,#da362a 68.09%,#d62f27 70.21%,#d22b27 72.34%,#cc2627 74.47%,#c82227 76.60%,#c62027 78.72%,#c21c27 80.85%,#c01a27 82.98%,#be1827 85.11%,#bd1726 87.23%,#bb1526 89.36%,#bb1526 91.49%,#b91326 93.62%,#b91326 95.74%,#b71126 97.87%,#b71126 100.00%)"></u></b>
<b style="top:1148px;height:14px;background:linear-gradient(90deg,#394fa1 0.00%,#3a54a4 2.13%,#3c59a6 4.26%,#3e60aa 6.38%,#4167ad 8.51%,#436fb1 10.64%,#4878b6 12.77%,#5183bb 14.89%,#5a8ec1 17.02%,#659bc8 19.15%,#70a9cf 21.28%,#7fb6d6 23.40%,#90c3dd 25.53%,#a3d3e6 27.66%,#b6dfec 29.79%,#c9e8f2 31.91%,#def2f7 34.04%,#ecf8e2 36.17%,#f8fccb 38.30%,#fff8b5 40.43%,#feeca2 42.55%,#fee090 44.68%,#fecc7e 46.81%,#fdbb6d 48.94%,#fca85e 51.06%,#f99355 53.19%,#f7814c 55.32%,#f47044 57.45%,#ee613e 59.57%,#e95538 61.70%,#e34933 63.83%,#de402e 65.96%,#da362a 68.09%,#d62f27 70.21%,#d22b27 72.34%,#cc2627 74.47%,#c82227 76.60%,#c62027 78.72%,#c21c27 80.85%,#c01a27 82.98%,#be1827 85.11%,#bd1726 87.23%,#bb1526 89.36%,#bb1526 91.49%,#b91326 93.62%,#b91326 95.74%,#b71126 97.87%,#b71126 100.00%)"><u style="background:linear-gradient(90deg,#3a51a2 0.00%,#3b56a5 2.13%,#3d5ba7 4.26%,#3f62ab 6.38%,#416aaf 8.51%,#4471b2 10.64%,#4b7db8 12.77%,#5385bd 14.89%,#5e93c3 17.02%,#679ec9 19.15%,#74add1 21.28%,#83b9d8 23.40%,#94c7df 25.53%,#a8d6e8 27.66%,#bbe1ed 29.79%,#cfebf3 31.91%,#e2f4f4 34.04%,#f0f9db 36.17%,#fcfec5 38.30%,#fff5af 40.43%,#fee99d 42.55%,#feda8a 44.68%,#fdc778 46.81%,#fdb567 48.94%,#fba05b 51.06%,#f98e52 53.19%,#f67a49 55.32%,#f36b42 57.45%,#ec5c3b 59.57%,#e65036 61.70%,#e14430 63.83%,#dc3b2c 65.96%,#d93429 68.09%,#d42d27 70.21%,#ce2827 72.34%,#ca2427 74.47%,#c62027 76.60%,#c21c27 78.72%,#c01a27 80.85%,#be1827 82.98%,#bd1726 85.11%,#bb1526 87.23%,#b91326 89.36%,#b91326 91.49%,#b71126 93.62%,#b71126 95.74%,#b50f26 97.87%,#b50f26 100.00%)"></u></b>
<b style="top:1162px;height:14px;background:linear-gradient(90deg,#3a51a2 0.00%,#3b56a5 2.13%,#3d5ba7 4.26%,#3f62ab 6.38%,#416aaf 8.51%,#4471b2 10.64%,#4b7db8 12.77%,#5385bd 14.89%,#5e93c3 17.02%,#679ec9 19.15%,#74add1 21.28%,#83b9d8 23.40%,#94c7df 25.53%,#a8d6e8 27.66%,#bbe1ed 29.79%,#cfebf3 31.91%,#e2f4f4 34.04%,#f0f9db 36.17%,#fcfec5 38.30%,#fff5af 40.43%,#fee99d 42.55%,#feda8a 44.68%,#fdc778 46.81%,#fdb567 48.94%,#fba05b 51.06%,#f98e52 53.19%,#f67a49 55.32%,#f36b42 57.45%,#ec5c3b 59.57%,#e65036 61.70%,#e14430 63.83%,#dc3b2c 65.96%,#d93429 68.09%,#d42d27 70.21%,#ce2827 72.34%,#ca2427 74.47%,#c62027 76.60%,#c21c27 78.72%,#c01a27 80.85%,#be1827 82.98%,#bd1726 85.11%,#bb1526 87.23%,#b91326 89.36%,#b91326 91.49%,#b71126 93.62%,#b71126 95.74%,#b50f26 97.87%,#b50f26 100.00%)"><u style="background:linear-gradient(90deg,#3a51a2 0.00%,#3b56a5 2.13%,#3e5ea8 4.26%,#4065ac 6.38%,#426cb0 8.51%,#4574b3 10.64%,#4d7fb9 12.77%,#578abf 14.89%,#6095c4 17.02%,#6ba2cb 19.15%,#78b0d3 21.28%,#87bdd9 23.40%,#9bcce2 25.53%,#acdae9 27.66%,#c1e4ef 29.79%,#d6eef5 31.91%,#e6f5ed 34.04%,#f3fbd4 36.17%,#fffebe 38.30%,#fff1aa 40.43%,#fee597 42.55%,#fed485 44.68%,#fdc173 46.81%,#fdaf62 48.94%,#fa9b58 51.06%,#f8864f 53.19%,#f57547 55.32%,#f16640 57.45%,#ea5739 59.57%,#e44c34 61.70%,#e0422f 63.83%,#db382b 65.96%,#d62f27 68.09%,#d02927 70.21%,#cc2627 72.34%,#c82227 74.47%,#c41e27 76.60%,#c01a27 78.72%,#be1827 80.85%,#bd1726 82.98%,#bb1526 85.11%,#b91326 87.23%,#b71126 89.36%,#b71126 91.49%,#b50f26 93.62%,#b50f26 95.74%,#b30d26 97.87%,#b30d26 100.00%)"></u></b>
<b style="top:1176px;height:14px;background:linear-gradient(90deg,#3a51a2 0.00%,#3b56a5 2.13%,#3e5ea8 4.26%,#4065ac 6.38%,#426cb0 8.51%,#4574b3 10.64%,#4d7fb9 12.77%,#578abf 14.89%,#6095c4 17.02%,#6ba2cb 19.15%,#78b0d3 21.28%,#87bdd9 23.40%,#9bcce2 25.53%,#acdae9 27.66%,#c1e4ef 29.79%,#d6eef5 31.91%,#e6f5ed 34.04%,#f3fbd4 36.17%,#fffebe 38.30%,#fff1aa 40.43%,#fee597 42.55%,#fed485 44.68%,#fdc173 46.81%,#fdaf62 48.94%,#fa9b58 51.06%,#f8864f 53.19%,#f57547 55.32%,#f16640 57.45%,#ea5739 59.57%,#e44c34 61.70%,#e0422f 63.83%,#db382b 65.96%,#d62f27 68.09%,#d02927 70.21%,#cc2627 72.34%,#c82227 74.47%,#c41e27 76.60%,#c01a27 78.72%,#be1827 80.85%,#bd1726 82.98%,#bb1526 85.11%,#b91326 87.23%,#b71126 89.36%,#b71126 91.49%,#b50f26 93.62%,#b50f26 95.74%,#b30d26 97.87%,#b30d26 100.00%)"><u style="background:linear-gradient(90deg,#3a54a4 0.00%,#3c59a6 2.13%,#3e5ea8 4.26%,#4065ac 6.38%,#436fb1 8.51%,#4878b6 10.64%,#4f81ba 12.77%,#588cc0 14.89%,#6399c7 17.02%,#6ea6ce 19.15%,#7db4d5 21.28%,#8cc0db 23.40%,#9fd0e4 25.53%,#b2ddeb 27.66%,#c5e6f0 29.79%,#daf0f6 31.91%,#eaf7e6 34.04%,#f6fbd0 36.17%,#fffbb9 38.30%,#feeda4 40.43%,#fee192 42.55%,#fece7f 44.68%,#fdbd6f 46.81%,#fcaa5f 48.94%,#f99355 51.06%,#f7814c 53.19%,#f47044 55.32%,#ee613e 57.45%,#e75337 59.57%,#e24731 61.70%,#dd3d2d 63.83%,#d93429 65.96%,#d42d27 68.09%,#ce2827 70.21%,#ca2427 72.34%,#c62027 74.47%,#c21c27 76.60%,#be1827 78.72%,#bd1726 80.85%,#bb1526 82.98%,#b91326 85.11%,#b71126 87.23%,#b50f26 89.36%,#b50f26 91.49%,#b30d26 93.62%,#b30d26 95.74%,#b30d26 97.87%,#b10b26 100.00%)"></u></b>
<b style="top:1190px;height:14px;background:linear-gradient(90deg,#3a54a4 0.00%,#3c59a6 2.13%,#3e5ea8 4.26%,#4065ac 6.38%,#436fb1 8.51%,#4878b6 10.64%,#4f81ba 12.77%,#588cc0 14.89%,#6399c7 17.02%,#6ea6ce 19.15%,#7db4d5 21.28%,#8cc0db 23.40%,#9fd0e4 25.53%,#b2ddeb 27.66%,#c5e6f0 29.79%,#daf0f6 31.91%,#eaf7e6 34.04%,#f6fbd0 36.17%,#fffbb9 38.30%,#feeda4 40.43%,#fee192 42.55%,#fece7f 44.68%,#fdbd6f 46.81%,#fcaa5f 48.94%,#f99355 51.06%,#f7814c 53.19%,#f47044 55.32%,#ee613e 57.45%,#e75337 59.57%,#e24731 61.70%,#dd3d2d 63.83%,#d93429 65.96%,#d42d27 68.09%,#ce2827 70.21%,#ca2427 72.34%,#c62027 74.47%,#c21c27 76.60%,#be1827 78.72%,#bd1726 80.85%,#bb1526 82.98%,#b91326 85.11%,#b71126 87.23%,#b50f26 89.36%,#b50f26 91.49%,#b30d26 93.62%,#b30d26 95.74%,#b30d26 97.87%,#b10b26 100.00%)"><u style="background:linear-gradient(90deg,#3a54a4 0.00%,#3d5ba7 2.13%,#3e60aa 4.26%,#4167ad 6.38%,#4471b2 8.51%,#4a7ab7 10.64%,#5183bb 12.77%,#5a8ec1 14.89%,#659bc8 17.02%,#72abd0 19.15%,#81b7d7 21.28%,#92c5de 23.40%,#a3d3e6 25.53%,#b6dfec 27.66%,#cbe9f2 29.79%,#e0f3f8 31.91%,#edf8df 34.04%,#fafdc9 36.17%,#fff7b3 38.30%,#feea9f 40.43%,#fedc8c 42.55%,#fec87a 44.68%,#fdb769 46.81%,#fba35c 48.94%,#f98e52 51.06%,#f67c4a 53.19%,#f36b42 55.32%,#ec5c3b 57.45%,#e54e35 59.57%,#e14430 61.70%,#db382b 63.83%,#d83128 65.96%,#d22b27 68.09%,#cc2627 70.21%,#c82227 72.34%,#c21c27 74.47%,#c01a27 76.60%,#bd1726 78.72%,#bb1526 80.85%,#b91326 82.98%,#b71126 85.11%,#b50f26 87.23%,#b50f26 89.36%,#b30d26 91.49%,#b30d26 93.62%,#b10b26 95.74%,#b10b26 97.87%,#af0926 100.00%)"></u></b>
<b style="top:1204px;height:14px;background:linear-gradient(90deg,#3a54a4 0.00%,#3d5ba7 2.13%,#3e60aa 4.26%,#4167ad 6.38%,#4471b2 8.51%,#4a7ab7 10.64%,#5183bb 12.77%,#5a8ec1 14.89%,#659bc8 17.02%,#72abd0 19.15%,#81b7d7 21.28%,#92c5de 23.40%,#a3d3e6 25.53%,#b6dfec 27.66%,#cbe9f2 29.79%,#e0f3f8 31.91%,#edf8df 34.04%,#fafdc9 36.17%,#fff7b3 38.30%,#feea9f 40.43%,#fedc8c 42.55%,#fec87a 44.68%,#fdb769 46.81%,#fba35c 48.94%,#f98e52 51.06%,#f67c4a 53.19%,#f36b42 55.32%,#ec5c3b 57.45%,#e54e35 59.57%,#e14430 61.70%,#db382b 63.83%,#d83128 65.96%,#d22b27 68.09%,#cc2627 70.21%,#c82227 72.34%,#c21c27 74.47%,#c01a27 76.60%,#bd1726 78.72%,#bb1526 80.85%,#b91326 82.98%,#b71126 85.11%,#b50f26 87.23%,#b50f26 89.36%,#b30d26 91.49%,#b30d26 93.62%,#b10b26 95.74%,#b10b26 97.87%,#af0926 100.00%)"><u style="background:linear-gradient(90deg,#3b56a5 0.00%,#3d5ba7 2.13%,#3f62ab 4.26%,#416aaf 6.38%,#4574b3 8.51%,#4b7db8 10.64%,#5385bd 12.77%,#5e93c3 14.89%,#69a0ca 17.02%,#74add1 19.15%,#85bbd9 21.28%,#97c9e0 23.40%,#a8d6e8 25.53%,#bde2ee 27.66%,#d1ecf4 29.79%,#e4f4f1 31.91%,#f0f9db 34.04%,#fdfec2 36.17%,#fff3ad 38.30%,#fee79b 40.43%,#fed687 42.55%,#fdc576 44.68%,#fdb164 46.81%,#fb9d59 48.94%,#f88950 51.06%,#f57547 53.19%,#f16640 55.32%,#ea5739 57.45%,#e44c34 59.57%,#de402e 61.70%,#da362a 63.83%,#d42d27 65.96%,#ce2827 68.09%,#ca2427 70.21%,#c41e27 72.34%,#c01a27 74.47%,#be1827 76.60%,#bb1526 78.72%,#b91326 80.85%,#b71126 82.98%,#b50f26 85.11%,#b30d26 87.23%,#b30d26 89.36%,#b10b26 91.49%,#b10b26 93.62%,#af0926 95.74%,#af0926 97.87%,#af0926 100.00%)"></u></b>
<b style="top:1218px;height:14px;background:linear-gradient(90deg,#3b56a5 0.00%,#3d5ba7 2.13%,#3f62ab 4.26%,#416aaf 6.38%,#4574b3 8.51%,#4b7db8 10.64%,#5385bd 12.77%,#5e93c3 14.89%,#69a0ca 17.02%,#74add1 19.15%,#85bbd9 21.28%,#97c9e0 23.40%,#a8d6e8 25.53%,#bde2ee 27.66%,#d1ecf4 29.79%,#e4f4f1 31.91%,#f0f9db 34.04%,#fdfec2 36.17%,#fff3ad 38.30%,#fee79b 40.43%,#fed687 42.55%,#fdc576 44.68%,#fdb164 46.81%,#fb9d59 48.94%,#f88950 51.06%,#f57547 53.19%,#f16640 55.32%,#ea5739 57.45%,#e44c34 59.57%,#de402e 61.70%,#da362a 63.83%,#d42d27 65.96%,#ce2827 68.09%,#ca2427 70.21%,#c41e27 72.34%,#c01a27 74.47%,#be1827 76.60%,#bb1526 78.72%,#b91326 80.85%,#b71126 82.98%,#b50f26 85.11%,#b30d26 87.23%,#b30d26 89.36%,#b10b26 91.49%,#b10b26 93.62%,#af0926 95.74%,#af0926 97.87%,#af0926 100.00%)"><u style="background:linear-gradient(90deg,#3b56a5 0.00%,#3e5ea8 2.13%,#4065ac 4.26%,#426cb0 6.38%,#4676b5 8.51%,#4d7fb9 10.64%,#578abf 12.77%,#6095c4 14.89%,#6ba2cb 17.02%,#78b0d3 19.15%,#8abeda 21.28%,#9bcce2 23.40%,#aedbea 25.53%,#c1e4ef 27.66%,#d6eef5 29.79%,#e7f6eb 31.91%,#f3fbd4 34.04%,#fffdbc 36.17%,#fff0a8 38.30%,#fee496 40.43%,#fed283 42.55%,#fdbf71 44.68%,#fdad60 46.81%,#fa9656 48.94%,#f7814c 51.06%,#f47044 53.19%,#ee613e 55.32%,#e75337 57.45%,#e24731 59.57%,#dc3b2c 61.70%,#d93429 63.83%,#d22b27 65.96%,#cc2627 68.09%,#c82227 70.21%,#c21c27 72.34%,#be1827 74.47%,#bd1726 76.60%,#b91326 78.72%,#b71126 80.85%,#b50f26 82.98%,#b30d26 85.11%,#b30d26 87.23%,#b10b26 89.36%,#b10b26 91.49%,#af0926 93.62%,#af0926 95.74%,#ad0826 97.87%,#ad0826 100.00%)"></u></b>
<b style="top:1232px;height:14px;background:linear-gradient(90deg,#3b56a5 0.00%,#3e5ea8 2.13%,#4065ac 4.26%,#426cb0 6.38%,#4676b5 8.51%,#4d7fb9 10.64%,#578abf 12.77%,#6095c4 14.89%,#6ba2cb 17.02%,#78b0d3 19.15%,#8abeda 21.28%,#9bcce2 23.40%,#aedbea 25.53%,#c1e4ef 27.66%,#d6eef5 29.79%,#e7f6eb 31.91%,#f3fbd4 34.04%,#fffdbc 36.17%,#fff0a8 38.30%,#fee496 40.43%,#fed283 42.55%,#fdbf71 44.68%,#fdad60 46.81%,#fa9656 48.94%,#f7814c 51.06%,#f47044 53.19%,#ee613e 55.32%,#e75337 57.45%,#e24731 59.57%,#dc3b2c 61.70%,#d93429 63.83%,#d22b27 65.96%,#cc2627 68.09%,#c82227 70.21%,#c21c27 72.34%,#be1827 74.47%,#bd1726 76.60%,#b91326 78.72%,#b71126 80.85%,#b50f26 82.98%,#b30d26 85.11%,#b30d26 87.23%,#b10b26 89.36%,#b10b26 91.49%,#af0926 93.62%,#af0926 95.74%,#ad0826 97.87%,#ad0826 100.00%)"><u style="background:linear-gradient(90deg,#3c59a6 0.00%,#3e5ea8 2.13%,#4065ac 4.26%,#436fb1 6.38%,#4878b6 8.51%,#4f81ba 10.64%,#588cc0 12.77%,#6399c7 14.89%,#6ea6ce 17.02%,#7db4d5 19.15%,#8ec2dc 21.28%,#9fd0e4 23.40%,#b2ddeb 25.53%,#c7e7f1 27.66%,#dcf1f7 29.79%,#eaf7e6 31.91%,#f7fcce 34.04%,#fffab7 36.17%,#feeca2 38.30%,#fee090 40.43%,#fecc7e 42.55%,#fdb96b 44.68%,#fca55d 46.81%,#f99153 48.94%,#f67c4a 51.06%,#f36b42 53.19%,#ec5c3b 55.32%,#e54e35 57.45%,#e0422f 59.57%,#db382b 61.70%,#d62f27 63.83%,#d02927 65.96%,#ca2427 68.09%,#c41e27 70.21%,#c01a27 72.34%,#bd1726 74.47%,#bb1526 76.60%,#b91326 78.72%,#b50f26 80.85%,#b30d26 82.98%,#b30d26 85.11%,#b10b26 87.23%,#af0926 89.36%,#af0926 91.49%,#ad0826 93.62%,#ad0826 95.74%,#ad0826 97.87%,#ad0826 100.00%)"></u></b>
<b style="top:1246px;height:14px;background:linear-gradient(90deg,#3c59a6 0.00%,#3e5ea8 2.13%,#4065ac 4.26%,#436fb1 6.38%,#4878b6 8.51%,#4f81ba 10.64%,#588cc0 12.77%,#6399c7 14.89%,#6ea6ce 17.02%,#7db4d5 19.15%,#8ec2dc 21.28%,#9fd0e4 23.40%,#b2ddeb 25.53%,#c7e7f1 27.66%,#dcf1f7 29.79%,#eaf7e6 31.91%,#f7fcce 34.04%,#fffab7 36.17%,#feeca2 38.30%,#fee090 40.43%,#fecc7e 42.55%,#fdb96b 44.68%,#fca55d 46.81%,#f99153 48.94%,#f67c4a 51.06%,#f36b42 53.19%,#ec5c3b 55.32%,#e54e35 57.45%,#e0422f 59.57%,#db382b 61.70%,#d62f27 63.83%,#d02927 65.96%,#ca2427 68.09%,#c41e27 70.21%,#c01a27 72.34%,#bd1726 74.47%,#bb1526 76.60%,#b91326 78.72%,#b50f26 80.85%,#b30d26 82.98%,#b30d26 85.11%,#b10b26 87.23%,#af0926 89.36%,#af0926 91.49%,#ad0826 93.62%,#ad0826 95.74%,#ad0826 97.87%,#ad0826 100.00%)"><u style="background:linear-gradient(90deg,#3d5ba7 0.00%,#3e60aa 2.13%,#4167ad 4.26%,#4471b2 6.38%,#4a7ab7 8.51%,#5183bb 10.64%,#5a8ec1 12.77%,#659bc8 14.89%,#72abd0 17.02%,#81b7d7 19.15%,#92c5de 21.28%,#a3d3e6 23.40%,#b9e0ed 25.53%,#cbe9f2 27.66%,#e1f3f6 29.79%,#edf8df 31.91%,#fbfdc7 34.04%,#fff6b1 36.17%,#feea9f 38.30%,#feda8a 40.43%,#fdc778 42.55%,#fdb567 44.68%,#fba05b 46.81%,#f88c51 48.94%,#f57748 51.06%,#f16640 53.19%,#ea5739 55.32%,#e44c34 57.45%,#de402e 59.57%,#da362a 61.70%,#d42d27 63.83%,#ce2827 65.96%,#c82227 68.09%,#c21c27 70.21%,#be1827 72.34%,#bd1726 74.47%,#b91326 76.60%,#b71126 78.72%,#b50f26 80.85%,#b30d26 82.98%,#b10b26 85.11%,#af0926 87.23%,#af0926 89.36%,#ad0826 91.49%,#ad0826 93.62%,#ab0626 95.74%,#ab0626 97.87%,#ab0626 100.00%)"></u></b>
<b style="top:1260px;height:14px;background:linear-gradient(90deg,#3d5ba7 0.00%,#3e60aa 2.13%,#4167ad 4.26%,#4471b2 6.38%,#4a7ab7 8.51%,#5183bb 10.64%,#5a8ec1 12.77%,#659bc8 14.89%,#72abd0 17.02%,#81b7d7 19.15%,#92c5de 21.28%,#a3d3e6 23.40%,#b9e0ed 25.53%,#cbe9f2 27.66%,#e1f3f6 29.79%,#edf8df 31.91%,#fbfdc7 34.04%,#fff6b1 36.17%,#feea9f 38.30%,#feda8a 40.43%,#fdc778 42.55%,#fdb567 44.68%,#fba05b 46.81%,#f88c51 48.94%,#f57748 51.06%,#f16640 53.19%,#ea5739 55.32%,#e44c34 57.45%,#de402e 59.57%,#da362a 61.70%,#d42d27 63.83%,#ce2827 65.96%,#c82227 68.09%,#c21c27 70.21%,#be1827 72.34%,#bd1726 74.47%,#b91326 76.60%,#b71126 78.72%,#b50f26 80.85%,#b30d26 82.98%,#b10b26 85.11%,#af0926 87.23%,#af0926 89.36%,#ad0826 91.49%,#ad0826 93.62%,#ab0626 95.74%,#ab0626 97.87%,#ab0626 100.00%)"><u style="background:linear-gradient(90deg,#3d5ba7 0.00%,#3f62ab 2.13%,#416aaf 4.26%,#4574b3 6.38%,#4b7db8 8.51%,#5385bd 10.64%,#5e93c3 12.77%,#69a0ca 14.89%,#74add1 17.02%,#85bbd9 19.15%,#97c9e0 21.28%,#aad8e9 23.40%,#bde2ee 25.53%,#d1ecf4 27.66%,#e4f4f1 29.79%,#f1fad9 31.91%,#feffc0 34.04%,#fff3ad 36.17%,#fee699 38.30%,#fed687 40.43%,#fdc374 42.55%,#fdaf62 44.68%,#fa9b58 46.81%,#f7844e 48.94%,#f57245 51.06%,#ee613e 53.19%,#e75337 55.32%,#e24731 57.45%,#dc3b2c 59.57%,#d83128 61.70%,#d22b27 63.83%,#cc2627 65.96%,#c62027 68.09%,#c21c27 70.21%,#be1827 72.34%,#bb1526 74.47%,#b71126 76.60%,#b50f26 78.72%,#b30d26 80.85%,#b10b26 82.98%,#af0926 85.11%,#af0926 87.23%,#ad0826 89.36%,#ad0826 91.49%,#ab0626 93.62%,#ab0626 95.74%,#ab0626 97.87%,#a90426 100.00%)"></u></b>
<b style="top:1274px;height:14px;background:linear-gradient(90deg,#3d5ba7 0.00%,#3f62ab 2.13%,#416aaf 4.26%,#4574b3 6.38%,#4b7db8 8.51%,#5385bd 10.64%,#5e93c3 12.77%,#69a0ca 14.89%,#74add1 17.02%,#85bbd9 19.15%,#97c9e0 21.28%,#aad8e9 23.40%,#bde2ee 25.53%,#d1ecf4 27.66%,#e4f4f1 29.79%,#f1fad9 31.91%,#feffc0 34.04%,#fff3ad 36.17%,#fee699 38.30%,#fed687 40.43%,#fdc374 42.55%,#fdaf62 44.68%,#fa9b58 46.81%,#f7844e 48.94%,#f57245 51.06%,#ee613e 53.19%,#e75337 55.32%,#e24731 57.45%,#dc3b2c 59.57%,#d83128 61.70%,#d22b27 63.83%,#cc2627 65.96%,#c62027 68.09%,#c21c27 70.21%,#be1827 72.34%,#bb1526 74.47%,#b71126 76.60%,#b50f26 78.72%,#b30d26 80.85%,#b10b26 82.98%,#af0926 85.11%,#af0926 87.23%,#ad0826 89.36%,#ad0826 91.49%,#ab0626 93.62%,#ab0626 95.74%,#ab0626 97.87%,#a90426 100.00%)"><u style="background:linear-gradient(90deg,#3e5ea8 0.00%,#4065ac 2.13%,#426cb0 4.26%,#4676b5 6.38%,#4d7fb9 8.51%,#578abf 10.64%,#6095c4 12.77%,#6ba2cb 14.89%,#78b0d3 17.02%,#8abeda 19.15%,#9bcce2 21.28%,#aedbea 23.40%,#c1e4ef 25.53%,#d6eef5 27.66%,#e7f6eb 29.79%,#f5fbd2 31.91%,#fffdbc 34.04%,#fff0a8 36.17%,#fee294 38.30%,#fed081 40.43%,#fdbd6f 42.55%,#fcaa5f 44.68%,#f99355 46.81%,#f67f4b 48.94%,#f46d43 51.06%,#ed5f3c 53.19%,#e65036 55.32%,#e14430 57.45%,#db382b 59.57%,#d62f27 61.70%,#d02927 63.83%,#c82227 65.96%,#c41e27 68.09%,#c01a27 70.21%,#bd1726 72.34%,#b91326 74.47%,#b71126 76.60%,#b30d26 78.72%,#b10b26 80.85%,#b10b26 82.98%,#af0926 85.11%,#ad0826 87.23%,#ad0826 89.36%,#ab0626 91.49%,#ab0626 93.62%,#ab0626 95.74%,#a90426 97.87%,#a90426 100.00%)"></u></b>
<b style="top:1288px;height:14px;background:linear-gradient(90deg,#3e5ea8 0.00%,#4065ac 2.13%,#426cb0 4.26%,#4676b5 6.38%,#4d7fb9 8.51%,#578abf 10.64%,#6095c4 12.77%,#6ba2cb 14.89%,#78b0d3 17.02%,#8abeda 19.15%,#9bcce2 21.28%,#aedbea 23.40%,#c1e4ef 25.53%,#d6eef5 27.66%,#e7f6eb 29.79%,#f5fbd2 31.91%,#fffdbc 34.04%,#fff0a8 36.17%,#fee294 38.30%,#fed081 40.43%,#fdbd6f 42.55%,#fcaa5f 44.68%,#f99355 46.81%,#f67f4b 48.94%,#f46d43 51.06%,#ed5f3c 53.19%,#e65036 55.32%,#e14430 57.45%,#db382b 59.57%,#d62f27 61.70%,#d02927 63.83%,#c82227 65.96%,#c41e27 68.09%,#c01a27 70.21%,#bd1726 72.34%,#b91326 74.47%,#b71126 76.60%,#b30d26 78.72%,#b10b26 80.85%,#b10b26 82.98%,#af0926 85.11%,#ad0826 87.23%,#ad0826 89.36%,#ab0626 91.49%,#ab0626 93.62%,#ab0626 95.74%,#a90426 97.87%,#a90426 100.00%)"><u style="background:linear-gradient(90deg,#3e5ea8 0.00%,#4065ac 2.13%,#436fb1 4.26%,#4878b6 6.38%,#4f81ba 8.51%,#588cc0 10.64%,#6399c7 12.77%,#6ea6ce 14.89%,#7db4d5 17.02%,#8ec2dc 19.15%,#9fd0e4 21.28%,#b2ddeb 23.40%,#c7e7f1 25.53%,#dcf1f7 27.66%,#ebf7e4 29.79%,#f7fcce 31.91%,#fffab7 34.04%,#feeca2 36.17%,#fede8e 38.30%,#feca7c 40.43%,#fdb96b 42.55%,#fba35c 44.68%,#f98e52 46.81%,#f67a49 48.94%,#f26841 51.06%,#eb5a3a 53.19%,#e44c34 55.32%,#de402e 57.45%,#da362a 59.57%,#d42d27 61.70%,#cc2627 63.83%,#c82227 65.96%,#c21c27 68.09%,#be1827 70.21%,#bb1526 72.34%,#b71126 74.47%,#b50f26 76.60%,#b30d26 78.72%,#b10b26 80.85%,#af0926 82.98%,#ad0826 85.11%,#ad0826 87.23%,#ab0626 89.36%,#ab0626 91.49%,#a90426 93.62%,#a90426 95.74%,#a90426 97.87%,#a90426 100.00%)"></u></b>
<b style="top:1302px;height:14px;background:linear-gradient(90deg,#3e5ea8 0.00%,#4065ac 2.13%,#436fb1 4.26%,#4878b6 6.38%,#4f81ba 8.51%,#588cc0 10.64%,#6399c7 12.77%,#6ea6ce 14.89%,#7db4d5 17.02%,#8ec2dc 19.15%,#9fd0e4 21.28%,#b2ddeb 23.40%,#c7e7f1 25.53%,#dcf1f7 27.66%,#ebf7e4 29.79%,#f7fcce 31.91%,#fffab7 34.04%,#feeca2 36.17%,#fede8e 38.30%,#feca7c 40.43%,#fdb96b 42.55%,#fba35c 44.68%,#f98e52 46.81%,#f67a49 48.94%,#f26841 51.06%,#eb5a3a 53.19%,#e44c34 55.32%,#de402e 57.45%,#da362a 59.57%,#d42d27 61.70%,#cc2627 63.83%,#c82227 65.96%,#c21c27 68.09%,#be1827 70.21%,#bb1526 72.34%,#b71126 74.47%,#b50f26 76.60%,#b30d26 78.72%,#b10b26 80.85%,#af0926 82.98%,#ad0826 85.11%,#ad0826 87.23%,#ab0626 89.36%,#ab0626 91.49%,#a90426 93.62%,#a90426 95.74%,#a90426 97.87%,#a90426 100.00%)"><u style="background:linear-gradient(90deg,#3e60aa 0.00%,#4167ad 2.13%,#4471b2 4.26%,#4a7ab7 6.38%,#5183bb 8.51%,#5a8ec1 10.64%,#659bc8 12.77%,#72abd0 14.89%,#81b7d7 17.02%,#92c5de 19.15%,#a3d3e6 21.28%,#b9e0ed 23.40%,#cbe9f2 25.53%,#e1f3f6 27.66%,#edf8df 29.79%,#fbfdc7 31.91%,#fff6b1 34.04%,#fee99d 36.17%,#feda8a 38.30%,#fdc778 40.43%,#fdb366 42.55%,#fb9d59 44.68%,#f88950 46.81%,#f57547 48.94%,#ef633f 51.06%,#e95538 53.19%,#e34933 55.32%,#dd3d2d 57.45%,#d83128 59.57%,#d22b27 61.70%,#ca2427 63.83%,#c62027 65.96%,#c01a27 68.09%,#bd1726 70.21%,#b91326 72.34%,#b71126 74.47%,#b30d26 76.60%,#b10b26 78.72%,#af0926 80.85%,#af0926 82.98%,#ad0826 85.11%,#ab0626 87.23%,#ab0626 89.36%,#a90426 91.49%,#a90426 93.62%,#a90426 95.74%,#a90426 97.87%,#a70226 100.00%)"></u></b>
<b style="top:1316px;height:14px;background:linear-gradient(90deg,#3e60aa 0.00%,#4167ad 2.13%,#4471b2 4.26%,#4a7ab7 6.38%,#5183bb 8.51%,#5a8ec1 10.64%,#659bc8 12.77%,#72abd0 14.89%,#81b7d7 17.02%,#92c5de 19.15%,#a3d3e6 21.28%,#b9e0ed 23.40%,#cbe9f2 25.53%,#e1f3f6 27.66%,#edf8df 29.79%,#fbfdc7 31.91%,#fff6b1 34.04%,#fee99d 36.17%,#feda8a 38.30%,#fdc778 40.43%,#fdb366 42.55%,#fb9d59 44.68%,#f88950 46.81%,#f57547 48.94%,#ef633f 51.06%,#e95538 53.19%,#e34933 55.32%,#dd3d2d 57.45%,#d83128 59.57%,#d22b27 61.70%,#ca2427 63.83%,#c62027 65.96%,#c01a27 68.09%,#bd1726 70.21%,#b91326 72.34%,#b71126 74.47%,#b30d26 76.60%,#b10b26 78.72%,#af0926 80.85%,#af0926 82.98%,#ad0826 85.11%,#ab0626 87.23%,#ab0626 89.36%,#a90426 91.49%,#a90426 93.62%,#a90426 95.74%,#a90426 97.87%,#a70226 100.00%)"><u style="background:linear-gradient(90deg,#3f62ab 0.00%,#416aaf 2.13%,#4574b3 4.26%,#4b7db8 6.38%,#5385bd 8.51%,#5e93c3 10.64%,#69a0ca 12.77%,#74add1 14.89%,#85bbd9 17.02%,#97c9e0 19.15%,#aad8e9 21.28%,#bde2ee 23.40%,#d1ecf4 25.53%,#e4f4f1 27.66%,#f1fad9 29.79%,#feffc0 31.91%,#fff2ac 34.04%,#fee699 36.17%,#fed485 38.30%,#fdc173 40.43%,#fdaf62 42.55%,#fa9857 44.68%,#f7844e 46.81%,#f47044 48.94%,#ee613e 51.06%,#e75337 53.19%,#e14430 55.32%,#db382b 57.45%,#d62f27 59.57%,#d02927 61.70%,#ca2427 63.83%,#c41e27 65.96%,#be1827 68.09%,#bb1526 70.21%,#b91326 72.34%,#b50f26 74.47%,#b30d26 76.60%,#b10b26 78.72%,#af0926 80.85%,#ad0826 82.98%,#ad0826 85.11%,#ab0626 87.23%,#a90426 89.36%,#a90426 91.49%,#a90426 93.62%,#a70226 95.74%,#a70226 97.87%,#a70226 100.00%)"></u></b>
<b style="top:1330px;height:14px;background:linear-gradient(90deg,#3f62ab 0.00%,#416aaf 2.13%,#4574b3 4.26%,#4b7db8 6.38%,#5385bd 8.51%,#5e93c3 10.64%,#69a0ca 12.77%,#74add1 14.89%,#85bbd9 17.02%,#97c9e0 19.15%,#aad8e9 21.28%,#bde2ee 23.40%,#d1ecf4 25.53%,#e4f4f1 27.66%,#f1fad9 29.79%,#feffc0 31.91%,#fff2ac 34.04%,#fee699 36.17%,#fed485 38.30%,#fdc173 40.43%,#fdaf62 42.55%,#fa9857 44.68%,#f7844e 46.81%,#f47044 48.94%,#ee613e 51.06%,#e75337 53.19%,#e14430 55.32%,#db382b 57.45%,#d62f27 59.57%,#d02927 61.70%,#ca2427 63.83%,#c41e27 65.96%,#be1827 68.09%,#bb1526 70.21%,#b91326 72.34%,#b50f26 74.47%,#b30d26 76.60%,#b10b26 78.72%,#af0926 80.85%,#ad0826 82.98%,#ad0826 85.11%,#ab0626 87.23%,#a90426 89.36%,#a90426 91.49%,#a90426 93.62%,#a70226 95.74%,#a70226 97.87%,#a70226 100.00%)"><u style="background:linear-gradient(90deg,#4065ac 0.00%,#426cb0 2.13%,#4574b3 4.26%,#4d7fb9 6.38%,#578abf 8.51%,#6095c4 10.64%,#6ba2cb 12.77%,#78b0d3 14.89%,#8abeda 17.02%,#9bcce2 19.15%,#aedbea 21.28%,#c1e4ef 23.40%,#d6eef5 25.53%,#e7f6eb 27.66%,#f5fbd2 29.79%,#fffdbc 31.91%,#fff0a8 34.04%,#fee294 36.17%,#fed081 38.30%,#fdbd6f 40.43%,#fcaa5f 42.55%,#f99355 44.68%,#f67f4b 46.81%,#f46d43 48.94%,#ec5c3b 51.06%,#e54e35 53.19%,#e0422f 55.32%,#da362a 57.45%,#d42d27 59.57%,#ce2827 61.70%,#c82227 63.83%,#c21c27 65.96%,#be1827 68.09%,#bb1526 70.21%,#b71126 72.34%,#b50f26 74.47%,#b10b26 76.60%,#af0926 78.72%,#af0926 80.85%,#ad0826 82.98%,#ab0626 85.11%,#ab0626 87.23%,#a90426 89.36%,#a90426 91.49%,#a90426 93.62%,#a70226 95.74%,#a70226 97.87%,#a70226 100.00%)"></u></b>
<b style="top:1344px;height:14px;background:linear-gradient(90deg,#4065ac 0.00%,#426cb0 2.13%,#4574b3 4.26%,#4d7fb9 6.38%,#578abf 8.51%,#6095c4 10.64%,#6ba2cb 12.77%,#78b0d3 14.89%,#8abeda 17.02%,#9bcce2 19.15%,#aedbea 21.28%,#c1e4ef 23.40%,#d6eef5 25.53%,#e7f6eb 27.66%,#f5fbd2 29.79%,#fffdbc 31.91%,#fff0a8 34.04%,#fee294 36.17%,#fed081 38.30%,#fdbd6f 40.43%,#fcaa5f 42.55%,#f99355 44.68%,#f67f4b 46.81%,#f46d43 48.94%,#ec5c3b 51.06%,#e54e35 53.19%,#e0422f 55.32%,#da362a 57.45%,#d42d27 59.57%,#ce2827 61.70%,#c82227 63.83%,#c21c27 65.96%,#be1827 68.09%,#bb1526 70.21%,#b71126 72.34%,#b50f26 74.47%,#b10b26 76.60%,#af0926 78.72%,#af0926 80.85%,#ad0826 82.98%,#ab0626 85.11%,#ab0626 87.23%,#a90426 89.36%,#a90426 91.49%,#a90426 93.62%,#a70226 95.74%,#a70226 97.87%,#a70226 100.00%)"><u style="background:linear-gradient(90deg,#4065ac 0.00%,#436fb1 2.13%,#4676b5 4.26%,#4f81ba 6.38%,#588cc0 8.51%,#6297c6 10.64%,#6ea6ce 12.77%,#7db4d5 14.89%,#8cc0db 17.02%,#9fd0e4 19.15%,#b2ddeb 21.28%,#c7e7f1 23.40%,#dcf1f7 25.53%,#eaf7e6 27.66%,#f7fcce 29.79%,#fffab7 31.91%,#feeca2 34.04%,#fee090 36.17%,#feca7c 38.30%,#fdb96b 40.43%,#fba35c 42.55%,#f98e52 44.68%,#f67a49 46.81%,#f26841 48.94%,#ea5739 51.06%,#e44c34 53.19%,#de402e 55.32%,#d93429 57.45%,#d22b27 59.57%,#cc2627 61.70%,#c62027 63.83%,#c01a27 65.96%,#bd1726 68.09%,#b91326 70.21%,#b71126 72.34%,#b30d26 74.47%,#b10b26 76.60%,#af0926 78.72%,#ad0826 80.85%,#ad0826 82.98%,#ab0626 85.11%,#a90426 87.23%,#a90426 89.36%,#a90426 91.49%,#a70226 93.62%,#a70226 95.74%,#a70226 97.87%,#a70226 100.00%)"></u></b>
<b style="top:1358px;height:14px;background:linear-gradient(90deg,#4065ac 0.00%,#436fb1 2.13%,#4676b5 4.26%,#4f81ba 6.38%,#588cc0 8.51%,#6297c6 10.64%,#6ea6ce 12.77%,#7db4d5 14.89%,#8cc0db 17.02%,#9fd0e4 19.15%,#b2ddeb 21.28%,#c7e7f1 23.40%,#dcf1f7 25.53%,#eaf7e6 27.66%,#f7fcce 29.79%,#fffab7 31.91%,#feeca2 34.04%,#fee090 36.17%,#feca7c 38.30%,#fdb96b 40.43%,#fba35c 42.55%,#f98e52 44.68%,#f67a49 46.81%,#f26841 48.94%,#ea5739 51.06%,#e44c34 53.19%,#de402e 55.32%,#d93429 57.45%,#d22b27 59.57%,#cc2627 61.70%,#c62027 63.83%,#c01a27 65.96%,#bd1726 68.09%,#b91326 70.21%,#b71126 72.34%,#b30d26 74.47%,#b10b26 76.60%,#af0926 78.72%,#ad0826 80.85%,#ad0826 82.98%,#ab0626 85.11%,#a90426 87.23%,#a90426 89.36%,#a90426 91.49%,#a70226 93.62%,#a70226 95.74%,#a70226 97.87%,#a70226 100.00%)"><u style="background:linear-gradient(90deg,#4167ad 0.00%,#436fb1 2.13%,#4878b6 4.26%,#5183bb 6.38%,#5a8ec1 8.51%,#659bc8 10.64%,#70a9cf 12.77%,#81b7d7 14.89%,#90c3dd 17.02%,#a3d3e6 19.15%,#b6dfec 21.28%,#cbe9f2 23.40%,#e0f3f8 25.53%,#edf8df 27.66%,#fbfdc7 29.79%,#fff6b1 31.91%,#feea9f 34.04%,#feda8a 36.17%,#fdc778 38.30%,#fdb366 40.43%,#fb9d59 42.55%,#f88950 44.68%,#f57547 46.81%,#ef633f 48.94%,#e95538 51.06%,#e24731 53.19%,#dc3b2c 55.32%,#d83128 57.45%,#d02927 59.57%,#ca2427 61.70%,#c41e27 63.83%,#c01a27 65.96%,#bd1726 68.09%,#b91326 70.21%,#b50f26 72.34%,#b30d26 74.47%,#b10b26 76.60%,#af0926 78.72%,#ad0826 80.85%,#ab0626 82.98%,#ab0626 85.11%,#a90426 87.23%,#a90426 89.36%,#a70226 91.49%,#a70226 93.62%,#a70226 95.74%,#a70226 97.87%,#a70226 100.00%)"></u></b>
<b style="top:1372px;height:15px;background:linear-gradient(90deg,#4167ad 0.00%,#436fb1 2.13%,#4878b6 4.26%,#5183bb 6.38%,#5a8ec1 8.51%,#659bc8 10.64%,#70a9cf 12.77%,#81b7d7 14.89%,#90c3dd 17.02%,#a3d3e6 19.15%,#b6dfec 21.28%,#cbe9f2 23.40%,#e0f3f8 25.53%,#edf8df 27.66%,#fbfdc7 29.79%,#fff6b1 31.91%,#feea9f 34.04%,#feda8a 36.17%,#fdc778 38.30%,#fdb366 40.43%,#fb9d59 42.55%,#f88950 44.68%,#f57547 46.81%,#ef633f 48.94%,#e95538 51.06%,#e24731 53.19%,#dc3b2c 55.32%,#d83128 57.45%,#d02927 59.57%,#ca2427 61.70%,#c41e27 63.83%,#c01a27 65.96%,#bd1726 68.09%,#b91326 70.21%,#b50f26 72.34%,#b30d26 74.47%,#b10b26 76.60%,#af0926 78.72%,#ad0826 80.85%,#ab0626 82.98%,#ab0626 85.11%,#a90426 87.23%,#a90426 89.36%,#a70226 91.49%,#a70226 93.62%,#a70226 95.74%,#a70226 97.87%,#a70226 100.00%)"><u style="background:linear-gradient(90deg,#416aaf 0.00%,#4471b2 2.13%,#4a7ab7 4.26%,#5385bd 6.38%,#5c90c2 8.51%,#679ec9 10.64%,#74add1 12.77%,#83b9d8 14.89%,#94c7df 17.02%,#a8d6e8 19.15%,#bde2ee 21.28%,#cfebf3 23.40%,#e4f4f1 25.53%,#f1fad9 27.66%,#fdfec2 29.79%,#fff3ad 31.91%,#fee699 34.04%,#fed687 36.17%,#fdc374 38.30%,#fdaf62 40.43%,#fa9857 42.55%,#f7844e 44.68%,#f47044 46.81%,#ee613e 48.94%,#e75337 51.06%,#e14430 53.19%,#db382b 55.32%,#d62f27 57.45%,#ce2827 59.57%,#c82227 61.70%,#c41e27 63.83%,#be1827 65.96%,#bb1526 68.09%,#b71126 70.21%,#b50f26 72.34%,#b30d26 74.47%,#b10b26 76.60%,#af0926 78.72%,#ad0826 80.85%,#ab0626 82.98%,#ab0626 85.11%,#a90426 87.23%,#a90426 89.36%,#a70226 91.49%,#a70226 93.62%,#a70226 95.74%,#a70226 97.87%,#a50026 100.00%)"></u></b>
</div>
<div class="ln" style="left:218.835px;top:142.835px;width:1491.33px;height:3.33px"></div>
<div class="ln" style="left:218.835px;top:1528.835px;width:1491.33px;height:3.33px"></div>
<div class="ln" style="left:218.835px;top:142.835px;width:3.33px;height:1389.33px"></div>
<div class="ln" style="left:1706.835px;top:142.835px;width:3.33px;height:1389.33px"></div>
<div class="ln" style="left:218.84px;top:1530.5px;width:3.33px;height:14.6px"></div>
<div class="ln" style="left:205.90px;top:1528.84px;width:14.6px;height:3.33px"></div>
<div class="ln" style="left:516.44px;top:1530.5px;width:3.33px;height:14.6px"></div>
<div class="ln" style="left:205.90px;top:1251.63px;width:14.6px;height:3.33px"></div>
<div class="ln" style="left:814.04px;top:1530.5px;width:3.33px;height:14.6px"></div>
<div class="ln" style="left:205.90px;top:974.44px;width:14.6px;height:3.33px"></div>
<div class="ln" style="left:1111.63px;top:1530.5px;width:3.33px;height:14.6px"></div>
<div class="ln" style="left:205.90px;top:697.24px;width:14.6px;height:3.33px"></div>
<div class="ln" style="left:1409.24px;top:1530.5px;width:3.33px;height:14.6px"></div>
<div class="ln" style="left:205.90px;top:420.04px;width:14.6px;height:3.33px"></div>
<div class="ln" style="left:1706.84px;top:1530.5px;width:3.33px;height:14.6px"></div>
<div class="ln" style="left:205.90px;top:142.84px;width:14.6px;height:3.33px"></div>
<div style="position:absolute;left:1801.7px;top:213.1px;width:61.59999999999991px;height:1248.0px;background:linear-gradient(180deg,#a50026 0.000%,#a70226 0.392%,#a90426 0.784%,#ab0626 1.176%,#ad0826 1.569%,#af0926 1.961%,#b10b26 2.353%,#b30d26 2.745%,#b50f26 3.137%,#b71126 3.529%,#b91326 3.922%,#bb1526 4.314%,#bd1726 4.706%,#be1827 5.098%,#c01a27 5.490%,#c21c27 5.882%,#c41e27 6.275%,#c62027 6.667%,#c82227 7.059%,#ca2427 7.451%,#cc2627 7.843%,#ce2827 8.235%,#d02927 8.627%,#d22b27 9.020%,#d42d27 9.412%,#d62f27 9.804%,#d83128 10.196%,#d93429 10.588%,#da362a 10.980%,#db382b 11.373%,#dc3b2c 11.765%,#dd3d2d 12.157%,#de402e 12.549%,#e0422f 12.941%,#e14430 13.333%,#e24731 13.725%,#e34933 14.118%,#e44c34 14.510%,#e54e35 14.902%,#e65036 15.294%,#e75337 15.686%,#e95538 16.078%,#ea5739 16.471%,#eb5a3a 16.863%,#ec5c3b 17.255%,#ed5f3c 17.647%,#ee613e 18.039%,#ef633f 18.431%,#f16640 18.824%,#f26841 19.216%,#f36b42 19.608%,#f46d43 20.000%,#f47044 20.392%,#f57245 20.784%,#f57547 21.176%,#f57748 21.569%,#f67a49 21.961%,#f67c4a 22.353%,#f67f4b 22.745%,#f7814c 23.137%,#f7844e 23.529%,#f8864f 23.922%,#f88950 24.314%,#f88c51 24.706%,#f98e52 25.098%,#f99153 25.490%,#f99355 25.882%,#fa9656 26.275%,#fa9857 26.667%,#fa9b58 27.059%,#fb9d59 27.451%,#fba05b 27.843%,#fba35c 28.235%,#fca55d 28.627%,#fca85e 29.020%,#fcaa5f 29.412%,#fdad60 29.804%,#fdaf62 30.196%,#fdb164 30.588%,#fdb366 30.980%,#fdb567 31.373%,#fdb769 31.765%,#fdb96b 32.157%,#fdbb6d 32.549%,#fdbd6f 32.941%,#fdbf71 33.333%,#fdc173 33.725%,#fdc374 34.118%,#fdc576 34.510%,#fdc778 34.902%,#fec87a 35.294%,#feca7c 35.686%,#fecc7e 36.078%,#fece7f 36.471%,#fed081 36.863%,#fed283 37.255%,#fed485 37.647%,#fed687 38.039%,#fed889 38.431%,#feda8a 38.824%,#fedc8c 39.216%,#fede8e 39.608%,#fee090 40.000%,#fee192 40.392%,#fee294 40.784%,#fee496 41.176%,#fee597 41.569%,#fee699 41.961%,#fee79b 42.353%,#fee99d 42.745%,#feea9f 43.137%,#feeba1 43.529%,#feeca2 43.922%,#feeda4 44.314%,#feefa6 44.706%,#fff0a8 45.098%,#fff1aa 45.490%,#fff2ac 45.882%,#fff3ad 46.275%,#fff5af 46.667%,#fff6b1 47.059%,#fff7b3 47.451%,#fff8b5 47.843%,#fffab7 48.235%,#fffbb9 48.627%,#fffcba 49.020%,#fffdbc 49.412%,#fffebe 49.804%,#feffc0 50.196%,#fdfec2 50.588%,#fcfec5 50.980%,#fbfdc7 51.373%,#fafdc9 51.765%,#f8fccb 52.157%,#f7fcce 52.549%,#f6fbd0 52.941%,#f5fbd2 53.333%,#f3fbd4 53.725%,#f2fad6 54.118%,#f1fad9 54.510%,#f0f9db 54.902%,#eff9dd 55.294%,#edf8df 55.686%,#ecf8e2 56.078%,#ebf7e4 56.471%,#eaf7e6 56.863%,#e9f6e8 57.255%,#e7f6eb 57.647%,#e6f5ed 58.039%,#e5f5ef 58.431%,#e4f4f1 58.824%,#e2f4f4 59.216%,#e1f3f6 59.608%,#e0f3f8 60.000%,#def2f7 60.392%,#dcf1f7 60.784%,#daf0f6 61.176%,#d8eff6 61.569%,#d6eef5 61.961%,#d4edf4 62.353%,#d1ecf4 62.745%,#cfebf3 63.137%,#cdeaf3 63.529%,#cbe9f2 63.922%,#c9e8f2 64.314%,#c7e7f1 64.706%,#c5e6f0 65.098%,#c3e5f0 65.490%,#c1e4ef 65.882%,#bfe3ef 66.275%,#bde2ee 66.667%,#bbe1ed 67.059%,#b9e0ed 67.451%,#b6dfec 67.843%,#b4deec 68.235%,#b2ddeb 68.627%,#b0dcea 69.020%,#aedbea 69.412%,#acdae9 69.804%,#aad8e9 70.196%,#a8d6e8 70.588%,#a6d5e7 70.980%,#a3d3e6 71.373%,#a1d1e5 71.765%,#9fd0e4 72.157%,#9dcee3 72.549%,#9bcce2 72.941%,#99cae1 73.333%,#97c9e0 73.725%,#94c7df 74.118%,#92c5de 74.510%,#90c3dd 74.902%,#8ec2dc 75.294%,#8cc0db 75.686%,#8abeda 76.078%,#87bdd9 76.471%,#85bbd9 76.863%,#83b9d8 77.255%,#81b7d7 77.647%,#7fb6d6 78.039%,#7db4d5 78.431%,#7ab2d4 78.824%,#78b0d3 79.216%,#76afd2 79.608%,#74add1 80.000%,#72abd0 80.392%,#70a9cf 80.784%,#6ea6ce 81.176%,#6da4cc 81.569%,#6ba2cb 81.961%,#69a0ca 82.353%,#679ec9 82.745%,#659bc8 83.137%,#6399c7 83.529%,#6297c6 83.922%,#6095c4 84.314%,#5e93c3 84.706%,#5c90c2 85.098%,#5a8ec1 85.490%,#588cc0 85.882%,#578abf 86.275%,#5588be 86.667%,#5385bd 87.059%,#5183bb 87.451%,#4f81ba 87.843%,#4d7fb9 88.235%,#4b7db8 88.627%,#4a7ab7 89.020%,#4878b6 89.412%,#4676b5 89.804%,#4574b3 90.196%,#4471b2 90.588%,#436fb1 90.980%,#426cb0 91.373%,#416aaf 91.765%,#4167ad 92.157%,#4065ac 92.549%,#3f62ab 92.941%,#3e60aa 93.333%,#3e5ea8 93.725%,#3d5ba7 94.118%,#3c59a6 94.510%,#3b56a5 94.902%,#3a54a4 95.294%,#3a51a2 95.686%,#394fa1 96.078%,#384ca0 96.471%,#374a9f 96.863%,#36479e 97.255%,#36459c 97.647%,#35429b 98.039%,#34409a 98.431%,#333d99 98.824%,#333b97 99.216%,#323896 99.608%,#313695 100.000%)"></div>
<div class="ln" style="left:1800.04px;top:211.44px;width:64.93px;height:3.33px"></div>
<div class="ln" style="left:1800.04px;top:1459.43px;width:64.93px;height:3.33px"></div>
<div class="ln" style="left:1800.04px;top:211.44px;width:3.33px;height:1251.33px"></div>
<div class="ln" style="left:1861.63px;top:211.44px;width:3.33px;height:1251.33px"></div>
<div class="ln" style="left:1863.3px;top:1459.43px;width:14.6px;height:3.33px"></div>
<div class="ln" style="left:1863.3px;top:835.43px;width:14.6px;height:3.33px"></div>
<div class="ln" style="left:1863.3px;top:211.43px;width:14.6px;height:3.33px"></div>
<div class="a" id="title_0" style="left:31.62px;top:24.55px;font-size:68.8px;font-weight:bold;-webkit-text-stroke:1.40px currentColor;transform:scaleX(1.1037);transform-origin:0 0">Phase</div>
<div class="a" id="title_1" style="left:281.46px;top:24.55px;font-size:68.8px;font-weight:bold;-webkit-text-stroke:1.40px currentColor;transform:scaleX(1.1473);transform-origin:0 0">Diagram:</div>
<div class="a" id="title_2" style="left:650.42px;top:24.55px;font-size:68.8px;font-weight:bold;-webkit-text-stroke:1.40px currentColor;transform:scaleX(1.1214);transform-origin:0 0">When</div>
<div class="a" id="title_3" style="left:886.87px;top:24.55px;font-size:68.8px;font-weight:bold;-webkit-text-stroke:1.40px currentColor;transform:scaleX(1.0909);transform-origin:0 0">Does</div>
<div class="a" id="title_4" style="left:1096.98px;top:24.55px;font-size:68.8px;font-weight:bold;-webkit-text-stroke:1.40px currentColor;transform:scaleX(1.1276);transform-origin:0 0">Superposition</div>
<div class="a" id="title_5" style="left:1643.72px;top:24.55px;font-size:68.8px;font-weight:bold;-webkit-text-stroke:1.40px currentColor;transform:scaleX(1.051);transform-origin:0 0">Occur?</div>
<div class="a" id="xl_0" style="left:538.29px;top:1611.58px;font-size:56px;transform:scaleX(1.06);transform-origin:0 0">Feature</div>
<div class="a" id="xl_1" style="left:760.19px;top:1611.58px;font-size:56px;transform:scaleX(1.0841);transform-origin:0 0">Sparsity</div>
<div class="a" id="xl_2" style="left:998.40px;top:1611.58px;font-size:56px;transform:scaleX(1.0791);transform-origin:0 0">(1</div>
<div class="a" id="xl_3" style="left:1070.37px;top:1611.58px;font-size:56px;transform:scaleX(1.0882);transform-origin:0 0">--</div>
<div class="a" id="xl_4" style="left:1127.99px;top:1611.58px;font-size:56px;transform:scaleX(1.0821);transform-origin:0 0">P(active))</div>
<div class="a" id="yl_0" style="left:48.58px;top:1104.00px;font-size:56px;transform:rotate(-90deg) scaleX(1.0585);transform-origin:0 0">Feature</div>
<div class="a" id="yl_1" style="left:48.58px;top:883.00px;font-size:56px;transform:rotate(-90deg) scaleX(1.113);transform-origin:0 0">Importance</div>
<div class="a" id="cl_0" style="left:2219.02px;top:1093.20px;font-size:44.5px;transform:rotate(-90deg) scaleX(1.0497);transform-origin:0 0">Degree</div>
<div class="a" id="cl_1" style="left:2219.02px;top:926.00px;font-size:44.5px;transform:rotate(-90deg) scaleX(1.1186);transform-origin:0 0">of</div>
<div class="a" id="cl_2" style="left:2219.02px;top:872.00px;font-size:44.5px;transform:rotate(-90deg) scaleX(1.0558);transform-origin:0 0">Superposition</div>
<div class="a" id="no" style="left:398.69px;top:284.08px;font-size:61.2px;font-weight:bold;-webkit-text-stroke:1.40px currentColor;color:#fff;transform:scaleX(1.078);transform-origin:0 0">No</div>
<div class="a" id="sup1" style="left:217.45px;top:349.78px;font-size:61.2px;font-weight:bold;-webkit-text-stroke:1.40px currentColor;color:#fff;transform:scaleX(1.1137);transform-origin:0 0">superposition</div>
<div class="a" id="sup2" style="left:1212.59px;top:1286.78px;font-size:61.2px;font-weight:bold;-webkit-text-stroke:1.40px currentColor;color:#fff;transform:scaleX(1.1066);transform-origin:0 0">Superposition</div>
<div class="a" id="c1_0" style="left:1893.24px;top:192.72px;font-size:44.5px;transform:scaleX(0.9874);transform-origin:0 0">1</div>
<div class="a" id="c1_1" style="left:1931.82px;top:192.72px;font-size:44.5px;transform:scaleX(1.0474);transform-origin:0 0">(superposed)</div>
<div class="a" id="c5" style="left:1893.37px;top:816.52px;font-size:44.5px;transform:scaleX(1.0173);transform-origin:0 0">0.5</div>
<div class="a" id="c0_0" style="left:1892.15px;top:1440.02px;font-size:44.5px;transform:scaleX(1.0168);transform-origin:0 0">0</div>
<div class="a" id="c0_1" style="left:1931.81px;top:1440.02px;font-size:44.5px;transform:scaleX(1.0738);transform-origin:0 0">(orthogonal)</div>
<div class="a" id="xt0" style="left:188.01px;top:1553.78px;font-size:45.5px;transform:scaleX(1.0005);transform-origin:0 0">0.0</div>
<div class="a" id="yt0" style="left:125.59px;top:1509.38px;font-size:45.5px;transform:scaleX(1.0171);transform-origin:0 0">0.0</div>
<div class="a" id="xt1" style="left:485.56px;top:1553.78px;font-size:45.5px;transform:scaleX(1.0177);transform-origin:0 0">0.2</div>
<div class="a" id="yt1" style="left:125.58px;top:1232.18px;font-size:45.5px;transform:scaleX(1.0182);transform-origin:0 0">0.2</div>
<div class="a" id="xt2" style="left:783.22px;top:1553.78px;font-size:45.5px;transform:scaleX(1.0009);transform-origin:0 0">0.4</div>
<div class="a" id="yt2" style="left:125.61px;top:954.98px;font-size:45.5px;transform:scaleX(1.0006);transform-origin:0 0">0.4</div>
<div class="a" id="xt3" style="left:1080.76px;top:1553.78px;font-size:45.5px;transform:scaleX(1.018);transform-origin:0 0">0.6</div>
<div class="a" id="yt3" style="left:125.56px;top:677.78px;font-size:45.5px;transform:scaleX(1.0173);transform-origin:0 0">0.6</div>
<div class="a" id="xt4" style="left:1378.37px;top:1553.78px;font-size:45.5px;transform:scaleX(1.018);transform-origin:0 0">0.8</div>
<div class="a" id="yt4" style="left:125.56px;top:400.58px;font-size:45.5px;transform:scaleX(1.0173);transform-origin:0 0">0.8</div>
<div class="a" id="xt5" style="left:1674.87px;top:1553.78px;font-size:45.5px;transform:scaleX(1.0356);transform-origin:0 0">1.0</div>
<div class="a" id="yt5" style="left:123.50px;top:123.38px;font-size:45.5px;transform:scaleX(1.0356);transform-origin:0 0">1.0</div>
</body></html>
